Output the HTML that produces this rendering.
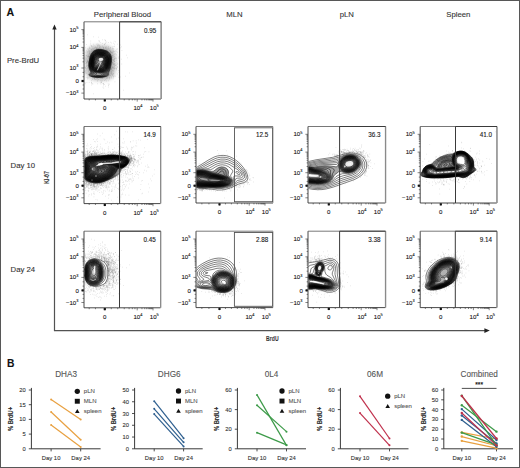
<!DOCTYPE html>
<html><head><meta charset="utf-8"><style>
html,body{margin:0;padding:0;background:#fff;width:520px;height:468px;overflow:hidden}
svg{display:block}
text{font-family:"Liberation Sans", sans-serif;stroke:currentColor;stroke-width:0.1px}
</style></head><body>
<svg width="520" height="468" viewBox="0 0 520 468">
<defs><filter id="b1" x="-50%" y="-50%" width="200%" height="200%"><feGaussianBlur stdDeviation="1.2"/></filter><filter id="b2" x="-50%" y="-50%" width="200%" height="200%"><feGaussianBlur stdDeviation="2"/></filter></defs>
<rect width="520" height="468" fill="#fff"/>
<rect x="0.5" y="0.5" width="519" height="467" fill="none" stroke="#575757" stroke-width="1"/>
<text x="6.60" y="15.70" font-size="10.6" text-anchor="start" fill="#111" color="#111" font-weight="bold" >A</text>
<text x="122.50" y="16.70" font-size="7.75" text-anchor="middle" fill="#333" color="#333" font-weight="normal" >Peripheral Blood</text>
<text x="234.50" y="16.70" font-size="7.75" text-anchor="middle" fill="#333" color="#333" font-weight="normal" >MLN</text>
<text x="346.80" y="16.70" font-size="7.75" text-anchor="middle" fill="#333" color="#333" font-weight="normal" >pLN</text>
<text x="458.30" y="16.70" font-size="7.75" text-anchor="middle" fill="#333" color="#333" font-weight="normal" >Spleen</text>
<text x="6.90" y="62.70" font-size="7.75" text-anchor="start" fill="#333" color="#333" font-weight="normal" >Pre-BrdU</text>
<text x="10.60" y="167.50" font-size="7.75" text-anchor="start" fill="#333" color="#333" font-weight="normal" >Day 10</text>
<text x="10.60" y="272.10" font-size="7.75" text-anchor="start" fill="#333" color="#333" font-weight="normal" >Day 24</text>
<path d="M54.5 28 L54.5 330.6 L485 330.6" fill="none" stroke="#525252" stroke-width="1.2"/>
<path d="M54.5 24.5 L52.3 29.5 L56.7 29.5 Z" fill="#222"/>
<path d="M489.8 330.6 L484.4 328.3 L484.4 332.9 Z" fill="#222"/>
<text transform="translate(266.1 340.7) scale(0.64 1)" font-size="8" font-weight="bold" fill="#444">BrdU</text>
<text transform="translate(49.3 183.7) rotate(-90) scale(0.64 1)" font-size="8" font-weight="bold" fill="#444">Ki-67</text>
<rect x="86" y="46" width="29" height="34" rx="10" fill="#000" fill-opacity="0.3" filter="url(#b2)"/>
<path d="M102.8 77.3l-5 .2 -4.3-.4 -3.1-.9 -.8-.4 -.6-.8 .2-.8 1.3-1.3 .3-.7 -1.6-3.7 -.5-3 .3-4 1.1-5.3 1.1-2.4 1.6-2.1 2-1.4 2.4-.9 2.3-.1 2.7 .3 2.8 .6 2.2 .9 1.6 1 1.2 1.4 .9 1.7 .5 1.8 .2 3.5 -.7 5.3 -.8 3.4 -1.4 3.3 -.1 2.5 -.7 .8 -1.1 .5z" fill="#000" fill-opacity="0.1" fill-rule="evenodd" stroke="none"/>
<path d="M101.8 72.5l-1.6 .1 -1.4-.2 -3-.6 -1.6-.7 -1.2-.9 -.9-1.2 -.8-1.5 -.4-1.5 -.1-2.2 .3-2.6 .5-2.4 1-2.6 1-1.7 1.2-1.2 1.4-1 1.6-.5 1.7-.1 1.7 .2 2.8 .7 1.8 .7 1.2 .9 .9 1 .7 1.3 .5 1.5 .1 2 -.3 2.5 -.8 3.3 -.9 2.4 -1.2 1.8 -1.2 1.2 -1.6 .9z M101.5 68.3l-1.7 .1 -4.3-.8 -1.3-1.2 -.6-1.9 .1-3 1.2-3 1-1.3 1.1-.9 2.5-.9 2.3 .1 1.7 .7 1.3 1.3 .8 2 -.1 2.5 -1 3.5 -1.3 1.8z" fill="#000" fill-opacity="0.3" fill-rule="evenodd" stroke="none"/>
<path d="M100.8 64.1l-.8 .1 -1.5-.3 -.6-.4 -.3-.7 .4-1.6 .8-1.2 1-.7 1-.2 .9 .4 .4 1.5 -.5 2.2z M101 65l-1.2 .2 -2.3-.6 -.9-.6 -.3-1 .3-1.2 1.4-2.3 1.5-1.1 1.5-.5 .8 .2 .6 .7 .5 2 -.7 2.9 -.5 .8z M101 65.8l-1.5 0 -3-.7 -.8-.9 -.3-1.2 .5-1.8 1.6-2.2 1.7-1.3 1.8-.4 1 .2 .9 .7 .4 1 .2 1.6 -.2 1.4 -.6 2 -.7 1z M100.5 66.5l-3.3-.4 -1.2-.5 -.9-1.1 -.2-1.7 .8-2.3 1.5-2 2-1.3 2-.4 1.3 .4 1 1 .5 1.6 0 1.4 -.6 2.6 -.6 1.4 -1 .9z M100.8 67l-3.8-.4 -1.2-.5 -1-1.2 -.3-1.9 .6-2.5 1.6-2.3 2.1-1.3 2.2-.5 1.5 .3 1 .9 .8 1.4 .2 1.8 -.4 2.2 -.8 2.2 -1.1 1.2z M100.8 67.5l-4-.4 -1.3-.5 -1-1.4 -.4-2 .6-2.7 1.4-2.3 2.1-1.6 2.6-.6 1.7 .3 1.2 .9 .9 1.6 .3 1.7 -.3 2.3 -.9 2.7 -1.2 1.4z M101.8 67.8l-1.8 .2 -4.2-.8 -1.2-1 -.7-1.7 0-2.7 .5-1.6 .8-1.4 1.9-2 2.4-1 2-.1 1.7 .7 1.4 1.4 .6 1.7 0 2.3 -.9 3.2 -1.1 1.8z M101.5 68.3l-1.7 .1 -4.3-.8 -1.3-1.2 -.6-1.9 .1-3 1.2-3 1-1.3 1.1-.9 2.5-.9 2.3 .1 1.7 .7 1.3 1.3 .8 2 -.1 2.5 -1 3.5 -1.3 1.8z M101 68.8l-4.2-.5 -1.6-.4 -1.3-1.4 -.6-2.3 .2-3.2 1.3-3 1-1.1 1.2-1 2.5-.8 2.5 .1 2 .9 1.4 1.7 .6 2 -.2 2.7 -1.3 3.7 -1.5 1.8z M101.8 69l-2 .2 -4.3-.8 -1.4-1.2 -.9-2 -.1-3.2 1.1-3.5 1.8-2.3 1.2-.9 1.3-.4 2.7-.1 2.3 .7 1.8 1.5 .9 2 0 3 -1.1 3.8 -1.3 2.1 -1 .7z M101.2 69.5l-2-.1 -4-.7 -1.5-1.5 -.8-2.2 0-3.5 1.2-3.5 .9-1.3 1.2-1.2 1.3-.7 1.3-.3 2.7 0 2.5 .9 1.7 1.6 .9 2.2 -.2 3.3 -1.3 4 -1.6 2.1 -1 .6z M101.8 69.8l-2.3 0 -3.3-.5 -1.2-.4 -1.5-1.4 -.8-2.3 0-3.4 .4-2 .8-2 .9-1.3 1.2-1.2 1.2-.7 1.3-.4 2.7 0 2.8 .9 2 1.7 .8 2 .1 3 -1.3 4.4 -1.6 2.4 -1 .7z M102 70.1l-2.2 .1 -4.6-.8 -1.6-1.4 -1.1-2.2 -.2-1.8 .1-2 .5-2.2 .8-2 .8-1.4 1.1-1.2 1.2-.8 1.4-.5 3 0 3 1 2 1.6 .9 2 .2 1.5 -.1 1.8 -1.3 4.4 -.8 1.6 -.9 1 -1 .7z M101.5 70.5l-2.5-.1 -3-.5 -1.2-.4 -1-.7 -.7-1 -.9-2.3 -.1-2 .2-2.3 .6-2.2 .7-1.8 1.9-2.3 1.3-.8 1.4-.5 3 0 3.3 1.1 1.9 1.5 1 2.3 .2 1.7 -.2 1.8 -.8 3 -.7 2 -.9 1.4 -1 1 -1.2 .8z M101.8 70.8l-2.3 0 -3.5-.6 -1.2-.4 -1.7-1.6 -1-2.4 -.2-2 .2-2.3 .5-2.3 .8-2 .8-1.4 1-1.1 1.3-.8 1.5-.6 3 0 3.5 1 2.1 1.7 1.1 2.2 .2 1.8 -.2 2 -1.5 5 -.9 1.5 -1.1 1.1 -1.2 .8z M102.2 71l-2.4 .2 -4.8-1 -1.9-1.4 -1.2-2.6 -.2-2 .1-2.2 .6-2.8 .7-2 .9-1.4 1-1.2 1.2-.9 1.6-.6 1.4-.2 1.6 .1 2.2 .5 1.8 .6 2 1.7 1.1 2.2 .2 1.8 -.1 2 -1.4 5 -.8 1.4 -1 1.4 -1 .8z M101.2 71.5l-1.7 0 -3.3-.6 -1.7-.6 -1-.8 -.9-1 -1-2.7 -.2-2 .3-2.3 .6-2.7 .8-2 .9-1.6 1.2-1.2 1.6-.9 1.4-.5 1.6 0 1.7 .2 2.3 .6 1.4 .7 1.3 .9 .8 1 1 2.5 .1 1.7 -.3 2.3 -.9 3.5 -.9 2 -.8 1.2 -1.3 1.2 -1.4 .8z M101.8 71.8l-2.8-.1 -3.2-.6 -1.3-.5 -1-.7 -1-1.1 -1.1-2.8 -.2-2 .2-2.2 .7-3 .7-2 1.1-1.8 1.1-1.2 1.5-.9 1.5-.5 1.5-.1 1.7 .2 2.6 .6 1.7 .8 1.2 .9 .8 1 1 2.4 .2 2 -.3 2.3 -.9 3.3 -.9 2.2 -1 1.5 -1.1 1.1 -1.3 .7z M102.2 72l-2.7 .1 -3.7-.7 -1.3-.4 -1.3-1 -.8-1 -1.2-2.8 -.2-2 .2-2.2 .7-3.2 .7-2 1-1.8 1.2-1.3 1.4-1 1.6-.6 1.4-.1 1.8 .1 4.2 1.3 1.3 .8 1 1 1.2 2.6 .2 1.7 -.1 2 -.7 3.3 -.9 2.7 -1 1.7 -1.1 1.3 -1.3 1z M101.8 72.5l-1.6 .1 -1.4-.2 -3-.6 -1.6-.7 -1.2-.9 -.9-1.2 -.8-1.5 -.4-1.5 -.1-2.2 .3-2.6 .5-2.4 1-2.6 1-1.7 1.2-1.2 1.4-1 1.6-.5 1.7-.1 1.7 .2 2.8 .7 1.8 .7 1.2 .9 .9 1 .7 1.3 .5 1.5 .1 2 -.3 2.5 -.8 3.3 -.9 2.4 -1.2 1.8 -1.2 1.2 -1.6 .9z M100.5 73.3l-1.3-.2 -3.4-.9 -2.3-1.2 -1.9-2.2 -.6-1.6 -.4-1.7 0-2.3 .3-2.4 .7-2.8 1.1-2.5 1.2-1.7 1.3-1.2 1.6-.8 1.7-.4 1.7 0 2.3 .5 2.3 .6 1.7 1 1.2 1 .9 1.3 .6 1.4 .2 1.6 0 2.2 -.5 2.8 -.8 3 -1.2 2.4 -1.1 1.6 -1.6 1.2 -2 .9z M100.5 75.3l-2.5 .2 -2.2-.5 -.1-.5 .7-.7 .2-.6 -2.8-1.7 -1.7-1.5 -1.2-2 -.6-2.5 .1-2.5 .5-3 .7-2.8 1.1-2.2 1.1-1.5 1.2-1.1 1.5-.8 2-.5 2 .1 2.3 .4 2.2 .7 1.5 .8 1.3 1 1 1.4 .6 1.5 .3 1.8 0 2.2 -.5 2.8 -.8 3 -1 2.2 -1.9 2.5 -2.8 2 -.9 1.3z M99.2 76l-3.4-.2 -1.2-.3 -.7-.5 0-.5 .9-1 0-.5 -2.4-2.2 -1.3-1.8 -.8-2 -.3-2.5 .3-3 .8-3.3 .8-2.2 .9-1.8 1.4-1.6 1.6-1 1.4-.5 2-.3 2.3 .2 2.5 .7 1.8 .6 1.5 .9 1.2 1.3 .9 1.5 .5 1.8 .1 1.7 -.1 2.3 -.8 3.4 -.7 2.6 -1 2 -1.2 1.4 -2.1 2 -.9 1.8 -1.4 .7z M100.8 76.3l-5-.1 -2-.4 -1-.6 -.2-.7 1.1-1.3 0-.4 -2.8-3.6 -.7-1.7 -.3-1.7 0-2.6 .4-3 .8-3 1.1-2.4 1.2-1.8 1.4-1.1 1.4-.8 2-.5 2.3 0 2.5 .5 2.5 .8 1.5 .8 1.2 1 1 1.3 .7 1.5 .3 1.7 .1 2.3 -.4 2.7 -.9 3.6 -.9 2.4 -1 1.6 -1.9 2.2 -.6 2 -1.4 .8z M101.5 76.5l-3 .2 -2.7-.1 -2.3-.4 -1.6-.7 -.4-.5 .1-.5 1.1-1.3 .2-.7 -2.3-3.3 -1-3 0-2.4 .3-2.8 .9-3.8 1-2.4 1.2-1.8 1.5-1.3 1.5-.9 2-.5 2 0 2.2 .3 2.8 .7 1.8 .8 1.4 1.1 1.1 1.3 .7 1.5 .5 1.8 .1 2.2 -.3 2.5 -.9 4.3 -1 2.7 -2.4 3.5 -.1 1.5 -.4 .7 -1.5 .8z M102 76.8l-4 .2 -3.5-.3 -2.7-.7 -.8-.5 -.4-.5 .2-.8 1.2-1.2 .2-.5 -2.1-3.5 -.7-2.8 0-3.4 1-5 1-2.8 1.6-2.5 2-1.5 2.5-.9 1.7-.2 2.3 .2 3.3 .8 2 .8 1.4 1 1.2 1.3 .8 1.5 .5 1.7 .2 3.6 -1 5.4 -1 3.3 -2 3.3 -.1 2 -.6 .7 -.9 .5z M102.5 77l-4.5 .2 -4-.3 -3-.8 -.9-.6 -.3-.5 .2-.8 1.5-1.7 -.2-.7 -1.7-3 -.6-2.8 .2-3.8 1-5 1.2-3 1.4-2 2-1.5 2.4-.9 2-.2 2.6 .2 3.2 .8 2 .8 1.5 1.1 1.2 1.3 .9 1.7 .5 1.7 .1 3.6 -.8 5.2 -1 3.5 -1.6 3.3 -.2 2.2 -.7 .8 -1.1 .4z M102.8 77.3l-5 .2 -4.3-.4 -3.1-.9 -.8-.4 -.6-.8 .2-.8 1.3-1.3 .3-.7 -1.6-3.7 -.5-3 .3-4 1.1-5.3 1.1-2.4 1.6-2.1 2-1.4 2.4-.9 2.3-.1 2.7 .3 2.8 .6 2.2 .9 1.6 1 1.2 1.4 .9 1.7 .5 1.8 .2 3.5 -.7 5.3 -.8 3.4 -1.4 3.3 -.1 2.5 -.7 .8 -1.1 .5z" fill="none" stroke="#000" stroke-width="0.5" stroke-linejoin="round"/>
<path d="M112.9 62.8h0.35 M85.6 82.8h0.35 M99.9 47.5h0.35 M101.3 82.5h0.35 M89.7 53.0h0.35 M116.0 58.5h0.35 M101.0 77.8h0.35 M127.1 57.8h0.35 M111.7 64.5h0.35 M113.9 41.2h0.35 M113.5 73.8h0.35 M111.2 64.0h0.35 M115.2 53.8h0.35 M89.6 76.2h0.35 M110.5 52.5h0.35 M114.3 60.0h0.35 M95.3 47.2h0.35 M115.8 57.5h0.35 M100.5 49.0h0.35 M93.0 50.8h0.35 M85.1 73.8h0.35 M92.5 51.5h0.35 M114.3 61.5h0.35 M103.1 85.8h0.35 M102.8 83.5h0.35 M118.6 72.2h0.35 M117.8 64.0h0.35 M112.2 51.2h0.35 M96.7 48.0h0.35 M109.2 84.2h0.35 M88.8 63.0h0.35 M108.5 46.5h0.35 M116.0 67.8h0.35 M118.9 75.2h0.35 M117.5 67.2h0.35 M100.6 80.8h0.35 M108.2 42.5h0.35 M113.4 63.5h0.35 M116.0 60.2h0.35 M96.5 44.2h0.35 M85.5 68.8h0.35 M94.1 78.5h0.35 M88.7 66.5h0.35 M121.8 50.5h0.35 M106.8 78.0h0.35 M86.6 62.8h0.35 M111.8 62.8h0.35 M111.9 73.8h0.35 M110.3 47.5h0.35 M104.8 77.5h0.35 M112.0 70.5h0.35 M114.4 76.0h0.35 M98.7 48.8h0.35 M104.5 77.0h0.35 M98.2 48.8h0.35 M97.0 45.2h0.35 M100.7 78.5h0.35 M94.5 78.8h0.35 M92.2 79.2h0.35 M87.2 61.0h0.35 M91.5 51.2h0.35 M98.5 37.2h0.35 M116.5 68.8h0.35 M86.5 72.2h0.35 M97.0 78.0h0.35 M110.3 51.5h0.35 M101.1 49.2h0.35 M113.8 68.5h0.35 M111.5 77.0h0.35 M97.2 83.8h0.35 M94.0 47.8h0.35 M86.8 61.5h0.35 M105.2 79.8h0.35 M114.2 58.5h0.35 M114.0 66.2h0.35 M99.2 41.0h0.35 M116.3 70.0h0.35 M108.0 80.8h0.35 M99.0 77.8h0.35 M98.3 79.5h0.35 M111.5 69.5h0.35 M113.5 50.0h0.35 M112.0 74.8h0.35 M94.2 49.2h0.35 M109.2 77.8h0.35 M98.3 44.2h0.35 M96.3 77.8h0.35 M105.3 48.0h0.35 M86.9 56.2h0.35 M89.3 53.2h0.35 M85.6 71.0h0.35 M92.8 48.5h0.35 M111.5 57.2h0.35 M93.3 36.8h0.35 M93.5 50.8h0.35 M89.5 58.5h0.35 M98.8 46.2h0.35 M112.5 68.2h0.35 M87.9 56.5h0.35 M85.4 72.5h0.35 M110.3 69.2h0.35 M89.3 59.0h0.35 M112.9 78.8h0.35 M111.1 68.2h0.35 M107.2 77.2h0.35 M89.5 54.5h0.35 M111.2 64.2h0.35 M108.2 48.8h0.35 M123.2 90.2h0.35 M106.7 50.0h0.35 M106.9 50.5h0.35 M104.2 44.8h0.35 M108.9 50.5h0.35 M88.1 74.5h0.35 M88.5 71.2h0.35 M101.9 47.0h0.35 M89.8 56.2h0.35 M89.3 58.5h0.35 M110.0 69.8h0.35 M86.7 60.2h0.35 M86.2 66.2h0.35 M106.3 78.0h0.35 M89.7 72.5h0.35 M85.8 55.8h0.35 M114.6 59.8h0.35 M112.7 55.8h0.35 M114.0 46.2h0.35 M100.0 49.0h0.35 M119.3 51.5h0.35 M112.7 53.0h0.35 M110.3 53.0h0.35 M111.0 65.8h0.35 M104.1 84.5h0.35 M109.6 75.2h0.35 M115.0 76.2h0.35 M88.1 74.2h0.35 M84.8 66.8h0.35 M102.1 80.8h0.35 M113.6 70.8h0.35 M112.2 62.2h0.35 M99.8 45.0h0.35 M88.5 61.8h0.35 M96.7 49.2h0.35 M89.2 47.2h0.35 M112.6 62.5h0.35 M108.0 76.0h0.35 M85.8 52.2h0.35 M112.7 74.8h0.35 M85.7 63.5h0.35 M85.5 47.8h0.35 M107.9 83.8h0.35 M112.2 57.5h0.35 M87.1 52.2h0.35 M102.1 78.2h0.35 M121.2 46.8h0.35 M110.9 72.8h0.35 M87.7 48.8h0.35 M113.7 57.0h0.35 M91.8 49.8h0.35 M111.2 78.0h0.35 M87.5 57.0h0.35 M91.6 85.0h0.35 M87.3 68.0h0.35 M110.3 71.0h0.35 M88.6 63.2h0.35 M112.3 52.8h0.35 M88.8 57.2h0.35 M100.9 82.0h0.35 M96.2 49.0h0.35 M102.8 87.2h0.35 M117.3 74.0h0.35 M126.0 55.2h0.35 M86.2 68.8h0.35 M89.2 56.5h0.35 M111.6 56.5h0.35 M85.9 62.5h0.35 M102.2 39.8h0.35 M87.7 62.0h0.35 M103.3 84.5h0.35 M90.8 51.8h0.35 M110.9 73.5h0.35 M113.5 59.5h0.35 M117.3 49.0h0.35 M97.7 80.2h0.35 M104.0 39.8h0.35 M111.3 52.5h0.35 M93.2 93.8h0.35 M92.7 50.8h0.35 M106.9 78.2h0.35 M112.8 67.0h0.35 M120.3 77.0h0.35 M85.3 68.2h0.35 M112.5 55.5h0.35 M111.2 74.2h0.35 M99.5 41.2h0.35 M111.7 59.8h0.35 M111.4 56.0h0.35 M86.8 61.2h0.35 M99.3 47.0h0.35 M91.6 49.5h0.35 M114.6 65.0h0.35 M114.2 56.8h0.35 M125.2 76.2h0.35 M111.7 67.0h0.35 M94.5 78.8h0.35 M108.8 72.8h0.35 M117.2 66.8h0.35 M111.3 51.8h0.35 M112.0 75.8h0.35 M108.9 50.2h0.35 M90.0 45.0h0.35 M85.6 83.8h0.35 M114.3 64.0h0.35 M87.9 75.2h0.35 M114.8 63.5h0.35 M113.3 67.2h0.35 M105.2 42.0h0.35 M113.0 48.5h0.35 M86.3 70.2h0.35 M87.7 65.5h0.35 M89.7 48.0h0.35 M100.5 82.8h0.35 M103.2 47.8h0.35 M88.2 62.8h0.35 M99.5 47.5h0.35 M111.5 72.0h0.35 M110.5 51.2h0.35 M95.5 47.2h0.35 M111.5 43.0h0.35 M106.8 48.2h0.35 M99.3 48.8h0.35 M86.6 64.0h0.35 M87.5 60.0h0.35 M91.0 83.2h0.35 M91.5 83.0h0.35 M89.2 76.8h0.35 M111.5 70.0h0.35 M97.6 78.2h0.35 M114.8 81.8h0.35 M98.5 40.8h0.35 M92.7 46.8h0.35 M86.6 55.5h0.35 M99.5 45.8h0.35 M112.1 66.8h0.35 M86.2 50.8h0.35 M109.8 50.8h0.35 M113.5 51.8h0.35 M91.5 46.0h0.35 M129.0 73.0h0.35 M114.3 69.0h0.35 M114.3 67.0h0.35 M106.7 42.0h0.35 M84.7 59.0h0.35 M118.3 70.5h0.35 M108.4 47.8h0.35 M88.7 56.8h0.35 M105.2 40.2h0.35 M98.3 45.2h0.35 M103.0 49.2h0.35 M86.2 58.2h0.35 M113.1 60.5h0.35 M95.0 79.5h0.35 M89.0 53.2h0.35 M105.2 40.5h0.35 M97.7 77.8h0.35 M93.2 44.2h0.35 M97.4 45.8h0.35 M92.4 83.8h0.35 M113.1 73.8h0.35 M111.1 54.2h0.35 M119.2 47.0h0.35 M112.3 56.8h0.35 M114.3 54.2h0.35 M109.2 79.0h0.35 M118.5 58.2h0.35 M98.8 45.2h0.35 M97.4 81.2h0.35 M112.9 67.8h0.35 M113.8 46.5h0.35 M100.0 46.5h0.35 M85.2 60.8h0.35 M93.8 45.8h0.35 M110.6 68.2h0.35 M112.2 67.5h0.35 M115.5 41.8h0.35 M92.2 77.2h0.35 M113.0 76.0h0.35 M91.4 80.8h0.35 M89.5 70.0h0.35 M90.0 71.0h0.35 M103.5 48.0h0.35 M90.7 41.0h0.35 M86.3 44.5h0.35 M103.6 83.8h0.35 M116.4 68.8h0.35 M86.8 82.5h0.35 M116.1 54.8h0.35 M87.9 74.0h0.35 M117.3 44.2h0.35 M110.6 48.0h0.35 M113.0 51.2h0.35 M113.1 64.5h0.35 M116.5 64.8h0.35 M87.5 62.2h0.35 M85.1 58.8h0.35 M86.7 65.8h0.35 M100.8 84.0h0.35 M112.9 60.2h0.35 M101.3 78.0h0.35 M104.8 43.8h0.35 M88.6 56.8h0.35 M111.7 65.0h0.35 M88.2 67.8h0.35 M106.6 50.2h0.35 M84.9 57.5h0.35 M88.9 82.5h0.35 M111.1 69.0h0.35 M116.3 66.0h0.35 M114.4 44.2h0.35 M105.1 43.5h0.35 M93.5 49.2h0.35 M105.1 47.2h0.35 M105.3 86.2h0.35 M87.4 34.8h0.35 M88.4 55.8h0.35 M97.5 44.0h0.35 M115.8 68.5h0.35 M90.1 43.2h0.35 M104.0 44.5h0.35 M120.3 45.0h0.35 M115.0 51.0h0.35 M88.2 65.8h0.35 M113.4 77.0h0.35 M89.3 51.0h0.35 M114.3 51.5h0.35 M93.5 77.8h0.35 M86.0 73.5h0.35 M97.1 47.0h0.35 M87.0 77.2h0.35 M109.2 77.8h0.35 M89.7 48.5h0.35 M111.5 68.0h0.35 M109.8 48.8h0.35 M107.4 50.0h0.35 M88.6 62.0h0.35 M112.3 63.2h0.35 M112.9 61.2h0.35 M117.6 64.0h0.35 M97.3 49.2h0.35 M110.3 75.5h0.35 M116.7 51.2h0.35 M104.0 80.5h0.35 M86.8 63.0h0.35 M111.8 52.5h0.35 M105.8 48.2h0.35 M114.4 61.5h0.35 M89.8 56.2h0.35 M114.8 67.8h0.35 M86.2 62.2h0.35 M110.2 42.2h0.35 M88.1 78.0h0.35 M102.3 43.5h0.35 M100.8 77.8h0.35 M85.9 77.5h0.35 M106.5 81.0h0.35 M88.7 69.8h0.35 M96.7 48.0h0.35 M112.3 59.5h0.35 M121.5 59.2h0.35 M111.2 68.2h0.35 M89.4 56.5h0.35 M89.3 70.2h0.35 M101.3 49.0h0.35 M113.2 55.0h0.35 M88.3 64.2h0.35 M114.2 58.8h0.35 M106.0 46.8h0.35 M92.8 84.0h0.35 M85.2 71.0h0.35 M87.5 78.0h0.35 M111.8 55.2h0.35 M101.1 82.2h0.35 M118.0 77.2h0.35 M108.1 85.5h0.35 M112.3 48.8h0.35 M87.1 61.2h0.35 M89.0 56.8h0.35 M85.2 67.5h0.35 M106.7 50.2h0.35 M102.0 46.0h0.35 M85.4 61.2h0.35 M113.9 68.5h0.35 M119.3 56.5h0.35 M108.2 87.0h0.35 M89.5 57.8h0.35 M117.5 52.2h0.35 M92.3 77.5h0.35 M87.6 60.8h0.35 M89.0 51.2h0.35 M108.8 51.8h0.35 M91.1 82.5h0.35 M103.2 83.5h0.35 M119.4 68.8h0.35 M87.8 51.5h0.35 M111.2 71.8h0.35 M103.4 49.2h0.35 M90.0 53.5h0.35 M121.7 64.0h0.35 M111.5 57.5h0.35 M87.9 55.0h0.35 M108.4 84.8h0.35 M96.7 48.2h0.35 M84.7 67.5h0.35 M99.9 42.5h0.35 M91.7 45.8h0.35 M88.5 49.2h0.35 M103.7 88.2h0.35 M89.8 72.5h0.35 M87.1 79.0h0.35 M113.5 43.2h0.35 M89.4 70.5h0.35 M85.8 59.5h0.35 M111.9 58.2h0.35 M84.7 71.8h0.35 M110.8 52.8h0.35 M116.8 62.8h0.35 M88.2 50.8h0.35 M111.7 57.0h0.35 M112.3 63.8h0.35 M120.3 47.8h0.35 M110.2 51.2h0.35 M88.0 58.5h0.35 M89.0 61.0h0.35 M113.5 76.8h0.35 M110.4 68.8h0.35 M115.4 65.0h0.35 M96.3 79.0h0.35 M112.1 48.8h0.35 M91.6 46.2h0.35 M118.6 57.0h0.35 M103.3 47.2h0.35 M113.2 64.8h0.35 M115.3 65.5h0.35 M112.0 47.0h0.35 M109.3 72.0h0.35 M114.3 64.8h0.35 M115.5 58.5h0.35 M101.3 80.8h0.35 M102.2 78.5h0.35 M116.7 49.2h0.35" stroke="#555" stroke-width="0.35" fill="none"/>
<path d="M97.5 70L101 62.5" stroke="#fff" stroke-width="1.0" stroke-opacity="0.6" fill="none" stroke-linecap="round"/><ellipse cx="101" cy="59.3" rx="2.3" ry="1.6" fill="#fff" fill-opacity="0.85"/>
<text x="78.40" y="31.50" font-size="6.1" text-anchor="end" fill="#1a1a1a">10<tspan font-size="3.9" dy="-2.6">5</tspan></text>
<text x="78.40" y="49.30" font-size="6.1" text-anchor="end" fill="#1a1a1a">10<tspan font-size="3.9" dy="-2.6">4</tspan></text>
<text x="78.40" y="70.00" font-size="6.1" text-anchor="end" fill="#1a1a1a">10<tspan font-size="3.9" dy="-2.6">3</tspan></text>
<text x="79.00" y="83.20" font-size="6.1" text-anchor="end" fill="#1a1a1a">0</text>
<text x="78.40" y="95.30" font-size="6.1" text-anchor="end" fill="#1a1a1a">−10<tspan font-size="3.9" dy="-2.6">3</tspan></text>
<path d="M81.40 29.60H84.00 M81.40 47.40H84.00 M81.40 68.00H84.00 M81.40 81.00H84.00 M81.40 93.10H84.00 M82.60 61.80H84.00 M82.60 58.17H84.00 M82.60 55.60H84.00 M82.60 53.60H84.00 M82.60 51.97H84.00 M82.60 50.59H84.00 M82.60 49.40H84.00 M82.60 48.34H84.00 M82.60 42.04H84.00 M82.60 38.91H84.00 M82.60 36.68H84.00 M82.60 34.96H84.00 M82.60 33.55H84.00 M82.60 32.36H84.00 M82.60 31.32H84.00 M82.60 30.41H84.00 M82.60 76.71H84.00 M82.60 84.99H84.00 M82.60 72.42H84.00 M82.60 88.99H84.00" stroke="#333" stroke-width="0.6" fill="none"/>
<rect x="81.60" y="79.90" width="2.2" height="2.2" fill="#111"/>
<text x="104.80" y="110.00" font-size="6.1" text-anchor="middle" fill="#1a1a1a">0</text>
<text x="133.40" y="110.00" font-size="6.1" fill="#1a1a1a">10<tspan font-size="3.9" dy="-2.6">4</tspan></text>
<text x="149.80" y="110.00" font-size="6.1" fill="#1a1a1a">10<tspan font-size="3.9" dy="-2.6">5</tspan></text>
<path d="M104.80 99.00V101.60 M137.20 99.00V101.60 M153.00 99.00V101.60 M141.96 99.00V100.40 M144.74 99.00V100.40 M146.71 99.00V100.40 M148.24 99.00V100.40 M149.49 99.00V100.40 M150.55 99.00V100.40 M151.47 99.00V100.40 M152.28 99.00V100.40 M111.28 99.00V100.40 M117.76 99.00V100.40 M124.24 99.00V100.40 M129.10 99.00V100.40 M132.34 99.00V100.40 M134.93 99.00V100.40 M95.44 99.00V100.40 M89.20 99.00V100.40" stroke="#333" stroke-width="0.6" fill="none"/>
<rect x="103.70" y="99.20" width="2.2" height="2.2" fill="#111"/>
<path d="M84.00 21.80V99.00H161.00" fill="none" stroke="#333" stroke-width="0.9"/>
<path d="M84.00 21.80H161.00" fill="none" stroke="#555" stroke-width="0.8"/>
<path d="M161.00 21.80V99.00" fill="none" stroke="#999" stroke-width="0.8"/>
<path d="M161.20 21.80V99.00" fill="none" stroke="#8a8a8a" stroke-width="1.3"/>
<path d="M119.60 99.00V21.80H161.20" fill="none" stroke="#3a3a3a" stroke-width="1.0"/>
<text x="156.20" y="32.50" font-size="6.3" text-anchor="end" fill="#1a1a1a">0.95</text>
<path d="M98.2 182l-4-.1 -4.7-1 -3-1.5 -2-2 0-16.9 1.5-1.5 2.2-1.3 2.8-.7 21.2-1.4 5.3 .3 5.3 .7 3 1 1.9 1.4 .6 1.2 -.1 1.3 -.5 1.5 -1.1 1.5 -1.4 1.2 -1.4 .9 -5.4 2.2 -.6 .7 -1.7 3.3 -2.7 2.7 -3.4 2.3 -4 2.1 -4.2 1.5z" fill="#000" fill-opacity="0.6" fill-rule="evenodd" stroke="none"/>
<path d="M95.2 171.5l-1 .2 -1.2-.2 -1.3-.7 -.3-1 -.1-1.3 .3-1 .6-.6 .8-.3 1.2 0 .8 .3 .6 .6 .4 1 .2 1.5 -.3 1z M109 161.8l-2 .1 -1.1-.4 .6-.4 1-.3 2.3 .2 .1 .2 -.2 .3z M95.2 172.8l-3-.4 -1-.6 -.5-.8 -.3-1.5 .1-1.9 .5-1.1 1-.7 1.5-.3 1.5 .2 1 .6 .8 1.1 .7 2.4 -.1 1.4 -.7 1z M109.2 162.5l-2.2 .2 -2-.1 -1.2-.4 -.5-.4 0-.3 .6-.5 1.3-.5 3-.5 3.1 .2 .8 .3 .5 .5 -.7 .8z M96.2 173.5l-1.7 .1 -2.3-.3 -1.2-.7 -.8-.8 -.5-1.8 0-2.2 .5-1.6 1-1 1.6-.5 2.2 0 1.2 .6 1 1.2 1.5 3.5 .2 1.2 -.2 .8 -.7 .8z M109.2 163l-2.7 .2 -2.5-.2 -2-.5 -.3-.3 -.2-.4 .7-.8 1.6-.6 4.4-.8 4.3 .3 1.5 .5 .5 .6 -.3 .5 -1 .5z M119.8 162.8l-1.2-.3 -.3-.5 .1-.2 .8-.3 1.1 .3 .2 .4z M96.8 174.3l-2 .1 -2.8-.5 -1.3-.7 -1-1 -.6-2 0-2.7 .6-1.7 1.3-1.3 1.2-.5 2-.2 1.3 0 1 .4 1 1.2 2 3.6 2.2 2 -.2 .8 -1.2 1 -1.8 1z M120 163.5l-1.5-.1 -2-1 -1-.2 -6 1.2 -3.3 .3 -5.2-.6 -1.2-.3 -.4-.6 .3-.4 1.1-.8 2.7-1 3.7-.7 3.8 0 2.5 .3 3.3 1 2.7 .1 1.3 .3 .7 .5 .2 .7 -.5 .8z M96.5 175l-2.3-.1 -2.7-.5 -1.5-.9 -.9-1.3 -.6-2.2 .1-3 .9-2 1.5-1.2 1.2-.4 2.6-.4 1.7-.1 1 .2 .3 .4 1 2.7 1.2 1.9 1.2 .7 2.9 .4 .8 .8 -.1 1.3 -1.6 1.5 -3.7 1.5z M97.8 175.5l-2.6 .1 -3.4-.6 -1.8-.8 -1.1-1.2 -.8-2.5 0-3.5 .9-2.2 1.5-1.4 1.7-.6 5.3-1.1 5.5-2 5.2-.8 4.3 .1 4.5 .9 3 .3 1.5 .5 .8 .8 .1 .7 -.4 .8 -1 .7 -1.2 .3 -1.6-.1 -2.2-1 -1-.1 -7.8 1.2 -6.2-.2 -1.3 .2 -.4 .5 -.1 .7 .4 1 .6 .9 1.3 .7 2.8 .2 1.2 .4 .9 .8 .1 1 -.9 1.8 -1.8 1.5 -2.8 1.2z M98.2 176l-2.7 .1 -3.7-.6 -2-.9 -1.3-1.4 -.9-2.4 .1-3.8 .7-2.2 1.6-1.7 1.8-.8 5.4-1.2 5-1.5 6-.9 4.6 .1 7.4 1.1 1.6 .4 1 .9 .2 1 -.6 1 -1.1 .8 -1.3 .4 -1.8-.1 -2.4-.9 -1.3-.2 -7.3 1.2 -5.4 0 -1.3 .3 -.3 .5 .1 .6 .9 1 1 .2 3 .2 1.6 .7 .7 1.1 0 1.2 -1.1 2 -1.9 1.7 -2.7 1.2z M98.5 176.5l-3 .1 -4-.6 -2-1 -1.4-1.5 -.6-1.3 -.3-1.4 0-3.8 .9-2.5 1.7-1.8 2-.8 10.2-2.6 6.5-.9 4.7 .1 7 1 1.8 .5 1.2 1 .3 1 -.5 1.1 -1 .9 -1.5 .6 -2 .1 -3-1 -1.5-.1 -8 1.5 -4.1 .1 -.1 .5 .4 .3 3 .2 2 .8 1.1 1.5 .1 1 -.1 1 -1.2 2 -2.1 1.7 -3 1.5z M98.5 177l-3 .1 -4.3-.8 -2-.9 -1.5-1.6 -.9-2.8 .1-4.2 .9-2.6 .7-1 1-.9 2.3-.9 10.2-2.3 6.8-.9 4.7 .1 6.7 .9 2 .6 1.3 1 .4 1 -.4 1.2 -1 1 -1.5 .7 -2.5 .3 -3.3-1 -1.4-.1 -3.2 .6 -2.6 1 -.2 .5 1.1 1.8 .3 1.4 -.3 1.6 -1.1 1.7 -1.6 1.5 -2.2 1.4 -2.8 1z M98.2 177.5l-3.2 0 -4-.8 -2-1 -1.6-1.7 -.6-1.2 -.3-1.8 0-4.2 .9-2.8 .8-1.2 1-.8 2.6-1 10-2.1 3.4-.6 4-.3 4.6 .1 6.7 .9 2.3 .7 1.2 1.1 .3 1 -.4 1.2 -1.1 1.2 -1.6 .7 -2.7 .3 -3.5-.9 -1.2-.1 -1.9 .3 -2.2 .7 -.6 .8 .7 2.2 0 1.6 -.7 1.7 -1.1 1.6 -1.8 1.5 -2.2 1.3 -2.8 1z M99.5 177.8l-3.7 .2 -4.6-.8 -2.2-1 -1.7-1.7 -.7-1.3 -.4-1.7 -.1-4.5 .8-3 .9-1.2 1-.9 1.4-.8 2.3-.7 11-2.1 5.5-.5 5 .1 6.5 .8 2.3 .6 1.5 1.2 .4 1.3 -.4 1.2 -1.2 1.2 -1.6 .9 -1.5 .3 -1.5 .1 -4.7-1 -1.8 .3 -1.6 .7 -.3 .7 .4 2 -.1 1.6 -.5 1.4 -1.2 1.8 -1.7 1.6 -2 1.3 -2.5 1.1z M98.8 178.3l-3.3 0 -4.7-.9 -2.3-1.1 -1.6-1.8 -.7-1.5 -.4-1.8 0-4.7 1-3 .7-1 1.1-1 1.6-.8 2.3-.6 11.3-2 6-.5 4.4 .1 6.8 .8 2.2 .8 1.5 1.2 .3 1.3 -.4 1.2 -1.1 1.2 -1.5 .9 -1.5 .5 -1.7 .1 -5-.9 -1.2 .2 -1.2 .5 -.5 .7 .2 2.3 -.3 1.7 -.8 1.8 -1.4 1.8 -2.1 1.6 -2.3 1.3 -2.7 1z M97.5 178.8l-3.3-.3 -4.2-1 -2.2-1.3 -1.5-2 -.6-1.7 -.3-1.7 .2-4.8 .5-1.8 .6-1.2 1.8-1.8 1.5-.8 2.2-.6 12-2 5.8-.4 5 .1 6 .8 2.5 .8 1.4 1.1 .4 1 -.1 1.3 -.6 1 -1.1 1.1 -1.7 .9 -2 .4 -2 0 -3.6-.8 -1.9 .4 -.7 .7 .1 2.8 -.5 1.8 -1 1.7 -1.7 1.9 -2.3 1.6 -2.7 1.4 -3 .9z M98.8 179l-3.6 0 -4.7-.9 -2.5-1.3 -1.6-1.8 -.8-1.5 -.4-2 -.1-4.7 .4-2 .6-1.6 .9-1.2 1-.9 1.8-1 2.2-.5 12.5-2 5.5-.4 5 .1 6 .8 2.5 .7 1.6 1.2 .5 1 -.1 1.2 -.6 1.3 -1.1 1.2 -1.8 .9 -2.2 .5 -2 0 -3.3-.6 -1.6 .3 -.6 .7 -.1 2.5 -.6 2 -1.1 1.8 -1.5 1.6 -2.2 1.7 -2.3 1.3 -2.7 1z M99.2 179.3l-3.7 .1 -5-1 -2.5-1.2 -1.9-2 -.7-1.4 -.5-2 0-5.3 .9-3.3 .8-1.2 1.2-1.1 1.7-1 2.3-.6 13.2-1.9 5-.4 5 .1 6.2 .8 2.6 .8 1.6 1.3 .5 1 -.1 1.2 -.6 1.3 -1.2 1.2 -2 1.1 -2.2 .5 -2 0 -3-.5 -1.3 .2 -.6 .8 -.2 2.4 -.6 1.8 -1.1 1.8 -1.5 1.7 -2.3 1.7 -2.4 1.4 -2.8 1.1z M84.5 167.3l.6-3.3 1.5-2.5 1.2-1 1.2-.7 3.2-.9 14-1.8 4-.3 4 .1 6 .7 2.8 .6 2.2 1.2 .7 .8 .3 .8 -.1 1.2 -.6 1.3 -1.2 1.3 -1.5 .9 -3.3 .8 -4.5-.3 -1.1 .3 -.4 .6 -.4 2.4 -.7 1.7 -1.1 1.8 -1.3 1.5 -2 1.6 -2 1.3 -2.8 1.2 -2.7 .8 -2.7 .4 -2.8-.1 -4-.8 -2.5-1 -1.6-1.1 -1.3-1.8 -.7-2 -.4-2.4 M84.5 165.2l.6-2 1.1-1.7 1.3-1.2 1.7-.9 3-.7 14.3-1.8 7.3-.2 8 .9 1.7 .5 1.5 .8 .9 .9 .6 1.2 -.1 1.2 -.6 1.3 -1 1.1 -1.6 1 -3.2 1 -4.5 0 -1 .2 -.5 .7 -.4 2 -.7 1.7 -1.1 1.8 -1.3 1.5 -2 1.7 -2 1.2 -4.7 2 -2.8 .6 -2.8 .1 -3.7-.5 -2.7-.7 -2-1.1 -1.5-1.3 -1.1-1.7 -.7-2 M84.5 164l.8-1.8 1.2-1.4 1.5-1.2 1.8-.7 2.4-.5 15.6-1.7 7-.1 7.4 .9 1.8 .6 1.5 .8 .9 1.1 .3 1 -.1 1.2 -.6 1.3 -1 1.1 -1.5 1.1 -3.3 1.1 -4.4 .2 -.9 .2 -.3 .6 -.8 2.4 -.7 1.6 -2.4 3 -1.9 1.6 -2 1.2 -4.8 2 -3 .7 -2.5 .1 -2.7-.3 -3.6-.7 -2.2-1 -1.5-1.2 -1.1-1.4 -.9-2 M84.5 163.2l.9-1.7 1.1-1.2 1.5-1 1.8-.7 2.4-.5 17-1.7 6.8 .1 6.5 .9 2 .7 1.3 .7 .8 1 .4 1.2 -.1 1 -.5 1.2 -1.6 1.9 -1.8 1 -2 .7 -4.6 .4 -.9 .3 -.5 .7 -1.4 3.6 -2.3 3 -3.8 2.8 -4.7 2.1 -2.8 .7 -3 .3 -2.5-.2 -3.7-.7 -2.3-.8 -1.7-1.2 -1.5-1.6 -.8-1.5 M84.5 162.5l1-1.5 1.3-1.2 1.4-.9 2-.7 20-2 6.3 .2 6.7 1 1.8 .7 1.2 .8 .8 1.1 .3 1 -.1 1 -.6 1.2 -1.6 1.9 -1.5 1 -2 .8 -5.5 .9 -.5 .6 -1.6 3.8 -2.4 2.8 -4 2.9 -4.5 2 -3 .8 -2.8 .3 -2.4-.1 -3.8-.7 -2.2-.8 -1.8-1 -1.5-1.4 -1-1.7 M84.5 161.9l1-1.4 1.3-1.1 1.4-.8 2-.7 20.6-1.8 7 .3 6 1 1.7 .7 1 .7 .7 1 .3 1.2 -.1 1 -.5 1.2 -1.7 1.9 -1.4 1 -1.8 .8 -5.5 1.2 -.5 .7 -1.6 3.4 -2.6 3 -4 2.9 -4.6 2 -3 .8 -2.7 .4 -2.7-.1 -3.3-.6 -2.5-.8 -1.8-.9 -1.4-1.2 -1.3-1.8 M84.5 161.4l1.1-1.4 1.4-1.1 1.5-.7 1.7-.5 16.8-1.6 4.5-.2 7.3 .4 5.2 1 1.5 .6 1.3 .9 .7 1 .3 1.2 -.7 2.2 -1.9 2.1 -2.7 1.6 -4.5 1.1 -1 .4 -2.1 4.1 -2.4 2.6 -3.7 2.8 -4.8 2.2 -3.2 1 -2.6 .4 -2.4 0 -3.3-.4 -2.7-.7 -2.3-1 -1.7-1.3 -1.3-1.6 M84.5 160.9l1-1.1 1.5-1.2 1.5-.7 2-.5 9.3-.6 8.2-.9 4-.2 6.5 .4 5.5 1 1.8 .7 1.2 .8 .8 1.2 .3 1 -.2 1.2 -.6 1.2 -1.8 2.1 -2.7 1.6 -5 1.7 -.7 .6 -1.7 3.6 -2.4 2.4 -4.2 3 -4.8 2.2 -3.2 1 -2.6 .4 -2.4 0 -3-.4 -3-.7 -2-.8 -1.8-1.2 -1.5-1.7 M84.5 160.5l1.2-1.3 1.3-.9 1.5-.7 2-.5 22-1.5 7 .5 5 1 1.7 .7 1.3 1 .6 1 .2 1 -.6 2.2 -1.9 2.3 -2.6 1.6 -4.8 1.9 -.6 .7 -1.5 3 -2.3 2.5 -4.5 3.1 -4.7 2.3 -3 1 -2.6 .5 -2.4 .2 -2.8-.2 -3.5-.7 -2.3-.8 -2-1.2 -1.7-1.8 M84.5 160.1l1.3-1.2 1.4-1 3.3-1 9.7-.5 8.3-.8 4.5-.2 7.5 .7 4.5 1 1.8 .8 1 .9 .6 1 .2 1 -.7 2.2 -1.3 1.8 -2.6 1.9 -5 2.3 -1.8 3.5 -2.1 2.3 -5.1 3.4 -5.2 2.5 -3 .9 -2.6 .5 -2.4 .2 -2.8-.2 -3-.5 -2.8-.9 -2.2-1.4 -1.5-1.5 M84.5 159.7l1.3-1.1 1.4-1 3.3-1 9.5-.4 8.5-.8 4.7-.1 6.8 .5 5 1.1 1.8 .8 1.1 .8 .7 1 .3 1 -.6 2 -1.3 2 -2.2 1.9 -4.9 2.6 -1.5 3.2 -1.9 2.2 -5 3.3 -6 2.9 -3 1.1 -3 .7 -2.5 .2 -2.5-.1 -3.5-.7 -2.8-.8 -2-1.1 -1.7-1.7 M84.5 159.4l1.3-1.1 1.4-.9 3.3-1 10-.4 7.5-.7 5.5-.2 6.3 .6 5.4 1.1 1.8 .8 1.3 .9 .7 1 .1 1 -.4 1.7 -1.3 2 -1.9 1.9 -4.8 2.9 -1.5 3.5 -1.7 1.9 -4.3 2.7 -7.2 3.6 -5.8 1.8 -2.7 .3 -2.7-.1 -3.6-.5 -2.7-.9 -2.3-1.1 -1.7-1.6 M84.5 159l1.3-1 1.4-.9 3.6-1 9.7-.2 8.3-.8 4.7-.1 6.7 .6 5 1 1.8 .8 1.4 .8 .8 1 .2 1 -.3 1.6 -1.3 2.2 -2 2.1 -4.2 2.7 -.5 .7 -1.1 3 -1.6 2 -3.2 2.1 -8.4 4 -3.3 1.2 -3 .8 -3 .4 -2.5 0 -3.8-.6 -2.7-.8 -2.3-1.1 -1.7-1.5" fill="none" stroke="#000" stroke-width="0.5" stroke-linejoin="round"/>
<path d="M117.0 154.8h0.35 M90.3 155.2h0.35 M94.0 183.8h0.35 M93.0 151.2h0.35 M146.3 171.0h0.35 M103.1 182.2h0.35 M97.3 154.0h0.35 M91.7 148.2h0.35 M95.5 155.0h0.35 M111.8 179.2h0.35 M127.8 166.8h0.35 M104.0 153.2h0.35 M130.5 157.8h0.35 M110.6 180.0h0.35 M84.5 157.5h0.35 M117.0 176.8h0.35 M121.6 190.2h0.35 M106.8 180.8h0.35 M134.4 156.2h0.35 M95.9 154.0h0.35 M138.1 155.5h0.35 M129.8 162.5h0.35 M90.3 185.5h0.35 M88.0 183.2h0.35 M124.8 155.2h0.35 M92.6 186.8h0.35 M134.8 159.8h0.35 M86.2 181.2h0.35 M92.8 152.0h0.35 M115.3 151.8h0.35 M91.2 154.2h0.35 M94.0 185.2h0.35 M113.0 180.5h0.35 M115.8 184.2h0.35 M118.8 178.0h0.35 M129.4 156.8h0.35 M136.4 162.8h0.35 M132.6 170.0h0.35 M87.7 184.8h0.35 M131.0 158.0h0.35 M92.9 185.5h0.35 M132.3 173.5h0.35 M94.7 184.0h0.35 M132.9 161.5h0.35 M141.1 181.0h0.35 M120.3 155.5h0.35 M132.5 163.2h0.35 M121.7 154.2h0.35 M86.9 151.8h0.35 M135.3 145.8h0.35 M88.2 181.5h0.35 M129.9 159.0h0.35 M84.5 185.8h0.35 M104.2 184.0h0.35 M88.8 156.2h0.35 M88.0 191.5h0.35 M154.3 169.8h0.35 M94.7 183.0h0.35 M131.0 156.8h0.35 M119.1 154.0h0.35 M95.1 153.8h0.35 M124.8 153.8h0.35 M127.6 171.8h0.35 M89.2 152.2h0.35 M124.1 141.8h0.35 M99.4 184.0h0.35 M118.2 151.5h0.35 M84.4 158.8h0.35 M130.1 161.0h0.35 M121.4 174.8h0.35 M130.2 162.0h0.35 M91.2 187.5h0.35 M92.5 182.8h0.35 M123.6 168.0h0.35 M120.9 174.2h0.35 M128.9 162.2h0.35 M95.9 190.0h0.35 M99.1 154.5h0.35 M106.3 181.0h0.35 M133.6 166.0h0.35 M91.3 146.5h0.35 M86.2 155.2h0.35 M112.8 186.8h0.35 M97.5 183.2h0.35 M93.2 139.5h0.35 M87.2 155.2h0.35 M118.3 138.0h0.35 M92.3 184.0h0.35 M114.5 152.0h0.35 M93.5 148.5h0.35 M103.0 193.2h0.35 M84.8 158.5h0.35 M125.3 155.2h0.35 M90.3 147.5h0.35 M127.8 156.2h0.35 M124.5 155.8h0.35 M137.9 163.2h0.35 M119.6 136.2h0.35 M96.5 153.2h0.35 M107.6 154.2h0.35 M84.7 158.2h0.35 M94.4 155.2h0.35 M124.8 173.5h0.35 M109.7 155.0h0.35 M102.1 186.0h0.35 M118.2 189.5h0.35 M86.9 148.8h0.35 M105.4 154.2h0.35 M134.4 166.8h0.35 M103.3 183.0h0.35 M130.9 149.0h0.35 M91.2 154.0h0.35 M130.5 159.0h0.35 M109.0 180.0h0.35 M103.8 185.8h0.35 M97.0 184.8h0.35 M88.4 183.5h0.35 M144.2 147.8h0.35 M101.6 192.0h0.35 M123.5 173.8h0.35 M122.7 150.8h0.35 M107.0 154.8h0.35 M128.9 174.8h0.35 M89.3 156.2h0.35 M128.9 158.5h0.35 M101.3 183.5h0.35 M85.7 184.0h0.35 M131.3 165.2h0.35 M85.6 183.5h0.35 M128.5 156.8h0.35 M111.4 191.5h0.35 M127.0 172.0h0.35 M85.7 190.5h0.35 M100.2 146.8h0.35 M90.3 185.2h0.35 M126.9 166.5h0.35 M119.2 181.8h0.35 M109.7 154.0h0.35 M128.1 165.5h0.35 M119.1 155.0h0.35 M128.2 151.8h0.35 M102.2 133.2h0.35 M92.9 186.0h0.35 M122.4 180.0h0.35 M96.6 154.2h0.35 M111.5 154.8h0.35 M131.5 159.5h0.35 M98.8 183.8h0.35 M120.7 152.2h0.35 M87.9 190.5h0.35 M149.5 187.8h0.35 M91.2 154.8h0.35 M113.0 177.8h0.35 M99.4 155.8h0.35 M110.3 181.2h0.35 M87.1 151.0h0.35 M132.2 159.8h0.35 M121.7 169.5h0.35 M120.7 175.8h0.35 M84.7 181.2h0.35 M90.7 185.5h0.35 M133.0 154.5h0.35 M118.5 153.2h0.35 M130.0 156.2h0.35 M123.7 167.5h0.35 M91.8 189.5h0.35 M104.7 181.8h0.35 M91.5 182.5h0.35 M97.7 191.2h0.35 M133.6 154.8h0.35 M113.7 154.8h0.35 M141.8 157.2h0.35 M140.3 155.0h0.35 M112.5 178.8h0.35 M100.3 188.5h0.35 M120.0 153.2h0.35 M129.3 163.0h0.35 M86.3 180.5h0.35 M130.9 161.2h0.35 M94.6 186.2h0.35 M89.9 182.5h0.35 M88.7 185.2h0.35 M135.3 152.0h0.35 M117.9 154.0h0.35 M108.2 149.2h0.35 M94.4 184.0h0.35 M95.2 189.8h0.35 M138.5 139.8h0.35 M103.7 183.2h0.35 M90.6 182.2h0.35 M96.7 186.0h0.35 M89.4 155.0h0.35 M85.6 182.0h0.35 M119.2 154.5h0.35 M87.3 150.2h0.35 M86.7 182.8h0.35 M97.3 146.5h0.35 M85.3 181.5h0.35 M107.3 155.0h0.35 M137.8 160.8h0.35 M91.3 185.5h0.35 M89.0 154.8h0.35 M129.8 159.8h0.35 M95.1 155.8h0.35 M103.5 154.0h0.35 M131.5 160.0h0.35 M127.2 153.8h0.35 M94.8 183.5h0.35 M126.3 173.8h0.35 M106.7 155.0h0.35 M108.9 191.2h0.35 M131.2 155.5h0.35 M131.4 180.0h0.35 M84.7 182.5h0.35 M123.3 154.8h0.35 M103.8 139.0h0.35 M93.7 185.5h0.35 M95.9 189.0h0.35 M91.8 153.8h0.35 M120.5 153.2h0.35 M130.7 157.8h0.35 M123.1 170.8h0.35 M108.2 195.5h0.35 M107.5 189.8h0.35 M125.3 195.0h0.35 M92.6 154.8h0.35 M121.8 171.0h0.35 M128.2 158.0h0.35 M108.5 154.5h0.35 M101.9 149.2h0.35 M87.8 153.8h0.35 M98.0 155.8h0.35 M95.5 151.0h0.35 M107.5 153.2h0.35 M118.1 146.8h0.35 M118.3 175.2h0.35 M130.6 161.2h0.35 M89.2 154.8h0.35 M133.5 163.5h0.35 M127.8 157.5h0.35 M129.5 179.2h0.35 M87.4 187.2h0.35 M93.4 155.8h0.35 M132.5 178.0h0.35 M143.2 154.2h0.35 M115.8 187.5h0.35 M126.3 174.2h0.35 M95.1 153.5h0.35 M110.2 154.8h0.35 M96.1 153.5h0.35 M116.7 153.8h0.35 M99.5 155.2h0.35 M118.3 183.8h0.35 M131.0 159.0h0.35 M98.0 155.0h0.35 M128.0 157.2h0.35 M130.4 154.8h0.35 M86.0 182.5h0.35 M120.4 148.5h0.35 M118.7 155.0h0.35 M89.0 155.5h0.35 M126.5 153.8h0.35 M91.3 182.5h0.35 M120.5 153.8h0.35 M92.7 155.2h0.35 M119.7 148.2h0.35 M107.3 182.8h0.35 M122.3 155.8h0.35 M133.3 179.0h0.35 M124.7 154.2h0.35 M130.3 142.2h0.35 M87.4 155.5h0.35 M92.2 183.2h0.35 M84.5 184.2h0.35 M89.2 155.8h0.35 M101.7 184.2h0.35 M123.3 147.5h0.35 M130.6 163.2h0.35 M110.7 154.8h0.35 M133.3 158.0h0.35 M91.2 154.5h0.35 M96.0 185.5h0.35 M94.5 155.2h0.35 M96.3 188.0h0.35 M102.8 152.0h0.35 M85.8 157.8h0.35 M131.2 158.2h0.35 M88.4 181.8h0.35 M130.2 155.5h0.35 M130.3 161.2h0.35 M94.6 149.8h0.35 M105.1 155.2h0.35 M87.8 182.2h0.35 M148.8 151.8h0.35 M133.6 159.2h0.35 M118.0 154.5h0.35 M118.4 153.5h0.35 M96.4 152.5h0.35 M93.4 183.8h0.35 M151.5 180.8h0.35 M126.8 156.0h0.35 M134.4 156.2h0.35 M102.7 182.2h0.35 M130.2 171.8h0.35 M104.1 186.2h0.35 M94.3 186.5h0.35 M132.3 160.5h0.35 M129.0 179.2h0.35 M147.0 165.0h0.35 M104.0 155.2h0.35 M132.2 158.8h0.35 M108.5 182.0h0.35 M137.3 165.8h0.35 M134.3 176.5h0.35 M135.2 160.8h0.35 M85.3 188.8h0.35 M89.3 183.2h0.35 M104.0 152.8h0.35 M93.7 183.8h0.35 M86.0 186.5h0.35 M96.8 183.8h0.35 M125.2 155.5h0.35 M127.8 155.8h0.35 M88.8 154.8h0.35 M102.6 148.2h0.35 M129.5 160.0h0.35 M86.8 184.5h0.35 M100.6 183.0h0.35 M118.3 179.5h0.35 M102.2 184.2h0.35 M128.4 179.2h0.35 M93.7 154.5h0.35 M99.2 183.5h0.35 M127.0 155.8h0.35 M85.7 185.5h0.35 M92.5 155.5h0.35 M92.7 151.2h0.35 M105.1 182.2h0.35 M94.5 152.0h0.35 M106.1 184.8h0.35 M127.3 157.0h0.35 M93.3 183.2h0.35 M131.8 147.8h0.35 M130.7 165.0h0.35 M85.5 180.5h0.35 M97.8 152.8h0.35 M139.2 172.5h0.35 M121.7 153.0h0.35 M96.5 155.2h0.35 M123.8 155.8h0.35 M137.7 174.5h0.35 M100.2 152.8h0.35 M91.5 154.0h0.35 M94.3 183.2h0.35 M87.2 182.0h0.35 M134.2 158.8h0.35 M105.2 155.0h0.35 M126.5 181.0h0.35 M129.6 159.8h0.35 M105.6 155.2h0.35 M92.9 185.0h0.35 M91.2 154.2h0.35 M100.8 183.5h0.35 M128.5 174.2h0.35 M113.2 178.2h0.35 M85.7 180.8h0.35 M90.5 182.8h0.35 M126.0 185.0h0.35 M98.8 186.5h0.35 M107.8 154.8h0.35 M112.4 153.5h0.35 M105.7 185.5h0.35 M94.5 154.2h0.35 M91.7 154.5h0.35 M102.3 183.5h0.35 M88.7 190.2h0.35 M97.6 184.2h0.35 M138.4 162.8h0.35 M91.8 156.0h0.35 M128.8 195.2h0.35 M89.3 182.5h0.35 M152.5 176.0h0.35 M97.1 138.8h0.35 M116.3 154.0h0.35 M96.7 139.8h0.35 M93.5 186.0h0.35 M117.4 154.5h0.35 M93.4 153.8h0.35 M124.3 168.8h0.35 M93.4 154.2h0.35 M130.0 165.2h0.35 M118.2 188.2h0.35 M91.8 184.8h0.35 M91.7 154.8h0.35 M105.5 186.2h0.35 M130.7 156.5h0.35 M133.6 163.2h0.35 M90.9 155.5h0.35 M116.8 202.8h0.35 M100.1 155.2h0.35 M90.5 182.5h0.35 M118.8 174.8h0.35 M106.3 181.0h0.35 M109.7 151.8h0.35 M128.2 164.5h0.35 M138.3 199.8h0.35 M137.6 166.8h0.35 M120.7 154.0h0.35 M132.0 147.8h0.35 M95.8 155.5h0.35 M87.2 182.8h0.35 M136.2 143.0h0.35 M131.5 147.2h0.35 M110.7 179.2h0.35 M87.8 185.2h0.35 M132.3 158.0h0.35 M117.3 175.5h0.35 M110.6 154.8h0.35 M92.6 155.0h0.35 M134.8 160.0h0.35 M84.8 154.5h0.35 M133.2 158.8h0.35 M97.4 153.2h0.35 M91.4 186.8h0.35 M111.5 178.5h0.35 M114.0 151.2h0.35 M111.1 154.0h0.35 M94.6 184.0h0.35 M88.6 156.0h0.35 M114.7 154.8h0.35 M109.2 142.8h0.35 M117.8 180.2h0.35 M127.2 167.5h0.35 M91.5 184.2h0.35 M90.8 153.8h0.35 M100.9 182.8h0.35 M91.7 184.0h0.35 M86.2 184.0h0.35 M88.4 182.8h0.35 M129.7 158.2h0.35 M96.7 147.2h0.35 M117.4 178.0h0.35 M123.8 143.2h0.35 M118.0 150.8h0.35 M85.1 157.0h0.35 M94.5 152.5h0.35 M129.7 158.8h0.35 M88.4 184.5h0.35 M100.8 153.8h0.35 M93.7 183.5h0.35 M111.2 200.2h0.35 M86.5 145.8h0.35 M85.1 157.5h0.35 M86.2 181.8h0.35 M110.7 182.2h0.35 M102.0 155.0h0.35 M85.8 183.8h0.35 M86.9 156.0h0.35 M89.0 154.2h0.35 M129.2 163.0h0.35 M136.7 173.2h0.35 M85.7 184.2h0.35 M108.7 179.8h0.35 M88.3 150.8h0.35 M124.4 168.0h0.35 M127.6 155.5h0.35 M111.2 181.5h0.35 M133.7 146.8h0.35 M111.5 179.2h0.35 M119.6 183.2h0.35 M136.7 146.0h0.35 M140.5 140.2h0.35 M91.9 185.5h0.35 M100.9 185.5h0.35 M109.0 153.8h0.35 M120.3 186.5h0.35 M129.5 156.8h0.35 M131.3 163.0h0.35 M134.7 159.8h0.35 M101.0 155.5h0.35 M93.7 185.2h0.35 M125.0 173.0h0.35 M85.5 187.2h0.35 M125.7 175.0h0.35 M94.9 186.8h0.35 M130.7 162.8h0.35 M134.5 160.0h0.35 M148.8 167.5h0.35 M99.9 135.8h0.35 M99.3 183.0h0.35 M103.0 153.0h0.35 M85.0 188.0h0.35 M108.2 146.8h0.35 M87.2 181.8h0.35 M100.3 183.0h0.35 M138.5 164.8h0.35 M87.6 151.5h0.35 M90.7 183.8h0.35 M84.4 155.5h0.35 M117.3 155.0h0.35 M132.4 181.0h0.35 M112.5 191.0h0.35 M90.5 151.5h0.35 M128.6 158.0h0.35 M108.8 180.2h0.35 M97.7 155.0h0.35 M95.7 186.8h0.35 M137.2 171.5h0.35 M131.3 150.0h0.35 M128.8 153.2h0.35 M123.5 153.0h0.35 M129.6 159.0h0.35 M106.2 186.0h0.35 M87.3 152.2h0.35 M110.1 153.2h0.35 M111.5 154.2h0.35 M128.0 167.8h0.35 M127.7 157.8h0.35 M127.2 157.2h0.35 M87.8 153.2h0.35 M86.7 184.0h0.35 M137.4 160.2h0.35 M94.8 184.8h0.35 M117.8 144.2h0.35 M132.0 159.0h0.35 M129.0 155.8h0.35 M92.9 184.2h0.35 M125.0 181.0h0.35 M128.7 163.2h0.35 M101.9 153.5h0.35 M86.3 180.8h0.35 M103.2 185.5h0.35 M89.5 183.2h0.35 M109.3 190.2h0.35 M126.8 169.8h0.35 M118.8 155.2h0.35 M90.0 154.5h0.35 M95.0 183.5h0.35 M90.9 183.8h0.35 M115.0 177.0h0.35 M94.9 183.2h0.35 M132.0 160.8h0.35 M89.6 184.5h0.35 M87.2 181.2h0.35 M85.2 154.8h0.35 M127.2 169.2h0.35 M150.5 179.0h0.35 M93.0 154.2h0.35 M109.5 187.2h0.35 M103.1 183.5h0.35 M89.0 153.2h0.35 M87.7 154.5h0.35 M125.1 131.8h0.35 M105.5 187.5h0.35 M101.2 153.8h0.35 M101.1 184.0h0.35 M130.8 162.5h0.35 M86.2 148.5h0.35 M111.1 154.2h0.35 M111.3 154.8h0.35 M93.4 183.0h0.35 M127.2 155.8h0.35 M115.4 153.0h0.35 M107.0 188.0h0.35 M129.7 162.8h0.35 M127.7 149.2h0.35 M105.5 191.2h0.35 M119.2 180.2h0.35 M85.3 158.2h0.35 M90.6 153.2h0.35 M85.8 181.2h0.35 M95.0 151.5h0.35 M103.5 187.5h0.35 M100.2 182.8h0.35 M113.1 181.8h0.35 M102.6 183.0h0.35 M91.4 184.8h0.35 M130.4 159.8h0.35 M90.8 183.8h0.35 M112.7 152.0h0.35 M86.5 181.5h0.35 M93.1 182.8h0.35 M111.1 154.2h0.35 M125.5 152.0h0.35 M115.6 186.2h0.35 M91.0 185.5h0.35 M110.5 152.0h0.35 M125.5 169.5h0.35 M122.8 153.8h0.35 M96.0 154.2h0.35 M93.3 187.0h0.35 M130.0 179.5h0.35 M86.7 183.0h0.35 M105.3 155.0h0.35 M88.5 183.2h0.35 M110.5 180.0h0.35 M84.5 155.8h0.35 M130.0 161.5h0.35 M97.2 154.8h0.35 M124.0 170.2h0.35 M95.3 154.0h0.35 M131.7 158.5h0.35 M95.8 184.5h0.35 M113.2 179.2h0.35 M125.4 171.5h0.35 M144.3 152.0h0.35 M105.4 183.8h0.35 M135.7 174.5h0.35 M96.1 188.2h0.35 M94.0 187.2h0.35 M114.2 187.0h0.35 M129.5 164.2h0.35 M101.8 183.0h0.35 M92.8 151.8h0.35 M120.7 146.8h0.35 M99.3 183.2h0.35 M108.7 180.2h0.35 M128.4 188.0h0.35 M96.8 155.2h0.35 M137.8 161.2h0.35 M99.8 183.2h0.35 M122.7 172.8h0.35 M107.5 184.2h0.35 M88.3 156.5h0.35 M98.3 184.2h0.35 M140.8 184.5h0.35 M102.1 185.8h0.35 M127.8 156.5h0.35 M97.1 186.0h0.35 M102.5 155.2h0.35 M121.0 170.2h0.35 M102.8 192.8h0.35 M119.4 178.0h0.35 M122.0 170.0h0.35 M100.3 155.8h0.35 M128.7 162.8h0.35 M133.8 161.0h0.35 M86.3 180.5h0.35 M128.3 164.8h0.35 M125.2 155.2h0.35 M104.7 154.0h0.35 M91.0 195.0h0.35 M130.2 174.5h0.35 M98.0 153.8h0.35 M104.3 155.5h0.35 M130.7 178.5h0.35 M121.8 154.5h0.35 M100.8 185.5h0.35 M129.5 164.8h0.35 M128.3 180.5h0.35 M85.0 179.8h0.35 M103.9 153.5h0.35 M125.5 187.0h0.35 M99.3 184.2h0.35 M91.3 153.2h0.35 M124.9 167.5h0.35 M129.2 163.8h0.35 M103.2 155.2h0.35 M91.5 156.0h0.35 M113.6 154.8h0.35 M117.7 176.5h0.35 M141.1 157.5h0.35 M145.7 151.5h0.35 M100.0 154.5h0.35 M111.0 153.2h0.35 M117.8 176.2h0.35 M128.0 166.0h0.35 M85.1 156.5h0.35 M135.1 165.2h0.35 M132.5 176.0h0.35 M122.5 154.2h0.35 M100.8 148.2h0.35 M140.5 189.5h0.35 M92.7 154.0h0.35 M85.2 154.8h0.35 M108.0 181.5h0.35 M88.9 194.5h0.35 M110.0 152.5h0.35 M86.9 156.8h0.35 M96.4 184.5h0.35 M104.4 150.8h0.35 M99.0 154.8h0.35 M132.2 173.5h0.35 M94.6 184.0h0.35 M97.7 151.8h0.35 M84.8 157.2h0.35 M120.9 170.0h0.35 M133.6 165.2h0.35 M134.5 164.2h0.35 M117.5 197.2h0.35 M141.8 193.8h0.35 M108.6 154.2h0.35 M108.1 154.8h0.35 M133.3 156.5h0.35 M89.0 151.8h0.35 M92.2 153.2h0.35 M128.0 167.0h0.35 M109.3 194.8h0.35 M127.0 155.0h0.35 M127.8 154.0h0.35 M131.7 174.0h0.35 M89.1 155.2h0.35 M104.7 139.8h0.35 M107.9 151.2h0.35 M98.7 185.0h0.35 M100.0 152.0h0.35 M114.9 177.8h0.35 M127.7 157.2h0.35 M101.2 183.0h0.35 M133.2 162.2h0.35 M107.6 154.5h0.35 M110.5 154.2h0.35 M115.3 154.5h0.35 M112.8 154.5h0.35 M99.8 154.8h0.35 M91.6 155.2h0.35 M129.3 170.8h0.35 M128.9 163.8h0.35 M112.8 149.5h0.35 M130.5 157.2h0.35 M96.5 187.0h0.35 M108.5 187.5h0.35 M128.6 155.2h0.35 M85.3 153.5h0.35 M124.6 155.0h0.35 M115.9 152.8h0.35 M112.5 154.8h0.35 M94.8 186.8h0.35 M97.4 185.0h0.35 M130.3 158.8h0.35 M133.2 165.5h0.35 M86.8 181.5h0.35 M87.5 181.5h0.35 M86.2 181.2h0.35 M89.3 182.5h0.35 M124.1 169.8h0.35 M117.7 152.8h0.35 M84.8 181.0h0.35 M109.4 180.0h0.35 M106.4 153.5h0.35 M115.7 154.0h0.35 M113.9 177.2h0.35 M89.6 156.2h0.35 M89.7 183.8h0.35 M98.2 155.0h0.35 M117.0 179.8h0.35 M127.2 173.8h0.35 M116.4 152.0h0.35 M99.7 155.0h0.35 M93.7 155.8h0.35 M94.2 155.2h0.35 M85.3 151.2h0.35 M115.7 154.5h0.35 M129.0 164.5h0.35 M98.0 154.5h0.35 M122.8 177.0h0.35 M133.1 157.0h0.35 M129.9 159.0h0.35 M100.6 154.2h0.35 M99.4 183.2h0.35 M102.2 150.2h0.35 M90.0 188.0h0.35 M125.5 169.5h0.35 M88.8 188.0h0.35 M129.5 165.5h0.35 M92.3 155.8h0.35 M138.3 155.8h0.35 M93.8 187.0h0.35 M128.8 163.2h0.35 M88.0 156.5h0.35 M87.6 153.5h0.35 M112.0 153.2h0.35 M143.4 157.0h0.35 M130.1 158.8h0.35 M100.4 183.5h0.35 M97.9 152.5h0.35 M133.9 158.8h0.35 M118.0 152.8h0.35 M105.3 154.8h0.35 M131.1 161.2h0.35 M96.9 185.0h0.35 M113.7 152.8h0.35 M101.1 153.8h0.35 M127.4 181.5h0.35 M128.2 163.8h0.35 M93.3 151.0h0.35 M133.4 180.5h0.35 M91.8 189.2h0.35 M91.2 182.5h0.35 M95.8 199.5h0.35 M109.7 182.5h0.35 M95.1 155.5h0.35 M95.9 183.5h0.35 M128.7 167.2h0.35 M89.0 151.2h0.35 M101.4 155.8h0.35 M105.9 188.0h0.35 M115.7 179.0h0.35 M139.4 155.8h0.35 M87.4 181.8h0.35 M106.7 180.8h0.35 M94.0 153.5h0.35 M130.2 159.2h0.35 M103.8 183.5h0.35 M109.9 152.2h0.35 M126.6 165.5h0.35 M85.8 152.5h0.35 M95.2 155.0h0.35 M98.0 183.0h0.35 M97.2 155.8h0.35 M109.6 183.8h0.35 M89.0 182.2h0.35 M121.2 177.0h0.35 M105.7 153.2h0.35 M130.1 158.8h0.35 M100.3 185.0h0.35 M115.1 176.8h0.35 M112.1 149.5h0.35 M134.2 161.8h0.35 M135.1 159.5h0.35 M136.0 160.8h0.35 M131.2 157.0h0.35 M93.3 183.8h0.35 M132.5 164.0h0.35 M101.1 184.5h0.35 M92.0 188.8h0.35 M100.2 185.5h0.35 M101.7 183.0h0.35 M111.8 142.2h0.35 M116.5 131.2h0.35 M94.5 153.8h0.35 M128.6 163.0h0.35 M91.5 155.2h0.35 M112.9 152.8h0.35 M106.5 186.8h0.35 M85.7 157.8h0.35 M130.1 154.0h0.35 M130.4 162.5h0.35 M93.8 193.2h0.35 M131.8 182.0h0.35 M94.2 186.8h0.35 M108.1 152.2h0.35 M104.5 182.5h0.35 M103.7 155.5h0.35 M99.6 155.8h0.35 M130.6 159.0h0.35 M134.3 159.2h0.35 M110.4 183.2h0.35 M84.9 155.2h0.35 M131.3 159.2h0.35 M131.7 157.8h0.35 M138.6 175.0h0.35 M125.5 166.5h0.35 M96.8 147.2h0.35 M93.7 184.5h0.35 M127.0 177.8h0.35 M113.5 153.2h0.35 M129.4 161.5h0.35 M94.0 185.8h0.35 M90.5 185.2h0.35 M125.7 156.8h0.35 M120.9 154.5h0.35 M101.5 188.5h0.35 M88.2 182.5h0.35 M84.8 179.8h0.35 M84.4 157.0h0.35 M94.1 184.8h0.35 M110.4 154.0h0.35 M92.9 184.0h0.35 M96.0 183.5h0.35 M130.7 163.2h0.35 M122.2 155.8h0.35 M125.7 180.8h0.35 M125.9 156.2h0.35 M129.3 157.0h0.35 M88.3 155.0h0.35 M96.3 183.2h0.35 M121.8 153.2h0.35 M138.7 161.2h0.35 M129.2 158.2h0.35 M102.0 194.5h0.35 M113.7 152.0h0.35 M132.0 167.0h0.35 M91.5 154.5h0.35 M88.6 188.5h0.35 M128.6 152.5h0.35 M107.8 186.2h0.35 M112.3 178.2h0.35 M104.6 154.0h0.35 M131.3 157.0h0.35 M96.2 155.0h0.35 M131.1 160.2h0.35 M87.8 184.0h0.35 M130.2 160.5h0.35 M94.4 194.2h0.35 M86.1 186.2h0.35 M121.7 154.2h0.35 M115.8 152.8h0.35 M108.3 180.8h0.35 M99.3 155.8h0.35 M123.5 154.8h0.35 M97.8 186.8h0.35 M128.3 168.2h0.35 M85.5 155.0h0.35 M148.2 166.8h0.35 M126.3 165.8h0.35 M95.0 183.5h0.35 M127.6 157.0h0.35 M130.5 162.0h0.35 M114.0 153.2h0.35 M109.2 184.2h0.35 M93.8 186.5h0.35 M132.4 131.8h0.35 M106.8 182.8h0.35 M111.2 191.2h0.35 M103.1 184.5h0.35 M95.2 183.5h0.35 M119.4 154.2h0.35 M105.6 196.2h0.35 M89.4 156.0h0.35 M99.7 184.5h0.35 M91.5 183.2h0.35 M129.8 172.2h0.35 M99.7 190.0h0.35 M112.6 189.0h0.35 M131.7 158.2h0.35 M129.9 160.0h0.35 M102.3 185.8h0.35 M129.2 158.8h0.35 M100.9 184.8h0.35 M99.4 154.5h0.35 M102.5 154.8h0.35 M125.0 156.2h0.35 M102.3 155.2h0.35 M131.5 158.8h0.35 M91.0 154.5h0.35 M112.7 153.5h0.35 M129.2 156.0h0.35 M112.5 153.8h0.35 M125.6 155.5h0.35 M126.3 156.5h0.35 M97.3 187.8h0.35 M85.7 157.2h0.35 M123.3 169.8h0.35 M92.0 186.8h0.35 M133.1 158.2h0.35 M96.0 155.0h0.35 M126.3 167.2h0.35 M87.7 184.0h0.35 M108.0 155.0h0.35 M90.6 182.5h0.35 M130.8 160.5h0.35 M129.5 163.8h0.35 M117.8 178.0h0.35 M129.5 159.8h0.35 M94.0 154.0h0.35 M108.5 154.5h0.35 M121.3 147.2h0.35 M87.3 185.2h0.35 M115.2 178.8h0.35 M100.7 187.5h0.35 M124.1 155.2h0.35 M126.2 166.5h0.35 M127.8 167.5h0.35 M102.6 153.0h0.35 M125.4 166.2h0.35 M135.1 172.0h0.35 M129.3 157.8h0.35 M89.7 155.8h0.35 M117.2 154.5h0.35 M97.1 150.2h0.35 M120.7 171.0h0.35 M119.7 154.0h0.35 M97.9 150.5h0.35 M93.3 193.8h0.35 M86.7 185.5h0.35 M100.3 155.8h0.35 M135.3 159.8h0.35 M96.0 154.2h0.35 M122.7 194.5h0.35 M92.9 155.2h0.35 M105.8 184.0h0.35 M89.8 182.8h0.35 M135.9 140.8h0.35 M87.8 145.8h0.35 M140.7 158.0h0.35 M90.7 144.5h0.35 M90.5 186.5h0.35 M111.8 190.8h0.35 M119.5 173.5h0.35 M98.6 155.2h0.35 M114.2 154.2h0.35 M90.3 153.0h0.35 M125.3 167.2h0.35 M91.8 153.5h0.35 M87.0 154.5h0.35 M104.5 182.0h0.35 M101.4 184.8h0.35 M117.5 176.8h0.35 M93.3 189.0h0.35 M97.2 183.8h0.35 M130.8 157.8h0.35 M97.3 155.8h0.35 M124.0 154.0h0.35 M97.8 183.5h0.35 M133.2 162.0h0.35 M95.4 185.0h0.35 M131.6 161.2h0.35 M93.5 185.0h0.35 M120.0 182.0h0.35 M125.3 167.5h0.35 M90.9 182.5h0.35 M88.2 182.5h0.35 M126.1 147.0h0.35 M86.2 183.8h0.35 M98.8 152.0h0.35 M129.5 164.8h0.35 M132.5 160.8h0.35 M91.3 183.0h0.35 M132.6 154.2h0.35 M113.5 181.2h0.35 M103.5 183.2h0.35 M128.0 155.5h0.35 M123.6 168.5h0.35 M129.2 157.0h0.35 M106.7 182.8h0.35 M89.7 185.2h0.35 M133.9 162.2h0.35 M116.6 139.0h0.35 M98.1 186.5h0.35 M122.8 169.2h0.35 M120.9 153.8h0.35 M123.0 182.2h0.35 M131.0 158.8h0.35 M102.3 153.8h0.35 M123.0 155.5h0.35 M125.3 172.8h0.35 M100.2 155.5h0.35 M108.0 153.0h0.35 M107.9 148.2h0.35 M88.9 156.2h0.35 M104.3 182.2h0.35 M130.1 155.5h0.35 M126.2 157.0h0.35 M99.1 183.5h0.35 M115.5 177.5h0.35 M91.1 193.8h0.35 M101.0 184.0h0.35 M106.2 187.5h0.35 M133.3 162.2h0.35 M118.4 183.0h0.35 M112.8 202.2h0.35 M123.3 138.8h0.35 M131.2 159.8h0.35 M122.5 182.5h0.35 M108.0 154.5h0.35 M96.3 149.8h0.35 M129.9 162.0h0.35 M99.2 149.2h0.35 M92.7 153.5h0.35 M122.3 147.5h0.35 M107.4 182.2h0.35 M94.5 147.5h0.35 M95.8 186.5h0.35 M145.3 166.2h0.35 M86.1 156.8h0.35 M94.7 153.2h0.35 M85.2 156.5h0.35 M106.6 154.8h0.35 M93.0 184.8h0.35 M135.9 162.2h0.35 M130.4 141.5h0.35 M84.7 187.5h0.35 M121.5 194.8h0.35 M120.8 197.0h0.35 M92.3 155.0h0.35 M130.1 161.8h0.35 M86.7 182.0h0.35 M112.4 152.0h0.35 M138.7 157.5h0.35 M85.8 155.5h0.35 M124.2 184.5h0.35 M105.8 143.5h0.35 M96.0 186.8h0.35 M95.3 141.8h0.35 M93.5 186.8h0.35 M139.2 158.8h0.35 M92.2 154.0h0.35 M118.3 155.2h0.35 M98.0 187.5h0.35 M101.5 154.0h0.35 M93.7 183.8h0.35 M115.6 185.2h0.35 M89.2 155.2h0.35 M131.4 168.8h0.35 M141.2 163.0h0.35 M95.5 187.2h0.35 M93.8 154.0h0.35 M91.6 156.0h0.35 M111.9 179.8h0.35 M119.0 153.0h0.35 M115.2 154.8h0.35 M100.5 183.0h0.35 M138.0 178.0h0.35 M126.3 167.0h0.35 M99.9 184.8h0.35 M87.7 154.8h0.35 M108.3 186.2h0.35 M91.2 155.5h0.35 M124.9 186.2h0.35 M90.3 182.2h0.35 M123.2 182.0h0.35 M128.5 172.8h0.35 M89.6 183.2h0.35 M106.3 155.2h0.35 M86.7 182.5h0.35 M117.6 152.2h0.35 M111.3 179.0h0.35 M103.2 191.2h0.35 M111.4 189.8h0.35 M91.2 154.8h0.35 M94.5 185.8h0.35 M127.6 170.5h0.35 M130.6 158.0h0.35 M84.8 156.2h0.35 M129.0 158.8h0.35 M130.8 158.8h0.35 M95.5 188.5h0.35 M89.7 183.0h0.35 M100.7 153.5h0.35 M94.0 183.2h0.35 M122.7 171.0h0.35 M93.8 196.8h0.35 M115.3 155.0h0.35 M105.3 182.5h0.35 M129.5 163.0h0.35 M95.5 154.5h0.35 M89.7 152.5h0.35 M122.0 185.5h0.35 M132.9 140.8h0.35 M103.4 154.8h0.35 M130.7 160.0h0.35 M121.0 155.0h0.35 M126.5 166.0h0.35 M113.1 153.8h0.35 M91.5 183.2h0.35 M130.2 168.8h0.35 M112.2 178.2h0.35 M93.8 191.8h0.35 M88.5 153.8h0.35 M134.8 159.5h0.35 M90.8 153.5h0.35 M91.5 155.2h0.35 M137.7 161.8h0.35 M88.1 183.0h0.35 M87.3 154.0h0.35 M90.7 183.8h0.35 M102.3 182.2h0.35 M138.3 160.0h0.35 M90.9 185.0h0.35 M128.4 157.5h0.35 M142.1 193.2h0.35 M98.2 190.0h0.35 M86.8 157.2h0.35 M93.3 189.0h0.35 M103.2 183.0h0.35 M131.8 163.8h0.35 M119.2 173.8h0.35 M96.8 183.5h0.35 M114.5 189.2h0.35 M88.5 186.0h0.35 M97.5 189.0h0.35 M87.0 156.8h0.35 M111.3 137.0h0.35 M94.0 153.0h0.35 M130.8 156.0h0.35 M92.8 151.5h0.35 M134.2 165.0h0.35 M89.2 152.5h0.35 M96.8 155.2h0.35 M97.6 155.2h0.35 M111.2 186.0h0.35 M140.5 159.5h0.35 M94.2 152.2h0.35 M109.7 182.8h0.35 M90.3 187.5h0.35 M112.7 181.8h0.35 M114.7 134.8h0.35 M97.4 184.2h0.35 M114.7 154.2h0.35 M101.9 183.8h0.35 M109.5 183.8h0.35 M108.3 180.8h0.35 M95.9 150.2h0.35 M130.2 155.8h0.35 M87.7 152.8h0.35 M93.0 183.2h0.35 M104.3 149.5h0.35 M131.8 158.2h0.35 M84.6 182.8h0.35 M89.0 184.0h0.35 M129.0 157.5h0.35 M94.2 150.8h0.35 M101.5 185.0h0.35 M87.8 155.2h0.35 M130.0 161.2h0.35 M127.1 132.0h0.35 M94.2 155.2h0.35 M92.1 187.8h0.35 M104.7 182.2h0.35 M88.0 182.0h0.35 M124.4 167.2h0.35 M95.7 153.0h0.35 M93.9 154.5h0.35 M117.1 188.5h0.35 M121.0 152.0h0.35 M111.3 179.8h0.35 M89.8 156.0h0.35 M109.4 182.2h0.35 M88.4 153.2h0.35 M129.7 151.8h0.35 M126.9 165.2h0.35 M111.1 154.8h0.35 M101.2 183.2h0.35 M120.3 201.2h0.35 M96.2 153.0h0.35 M98.0 154.8h0.35 M101.2 153.8h0.35 M129.5 156.2h0.35 M113.4 154.5h0.35 M143.2 172.8h0.35 M123.5 156.0h0.35 M128.8 163.2h0.35 M123.1 184.5h0.35 M85.7 184.8h0.35 M111.3 153.8h0.35 M117.8 154.8h0.35 M125.8 167.5h0.35 M130.7 160.0h0.35 M97.3 145.0h0.35 M90.2 182.5h0.35 M113.8 183.2h0.35 M131.0 157.8h0.35 M107.8 152.5h0.35 M128.9 181.2h0.35 M96.1 149.2h0.35 M119.0 149.0h0.35 M122.7 168.0h0.35 M129.1 158.0h0.35 M108.7 194.5h0.35 M101.0 154.8h0.35 M126.6 153.8h0.35 M88.2 155.5h0.35 M90.5 185.0h0.35 M107.6 181.2h0.35 M97.2 134.0h0.35 M95.7 152.8h0.35 M89.4 188.5h0.35 M147.1 167.2h0.35 M85.3 157.2h0.35 M90.8 150.2h0.35 M96.0 154.5h0.35 M94.3 141.5h0.35 M110.5 184.2h0.35 M122.6 187.0h0.35 M133.1 164.2h0.35 M85.7 183.5h0.35 M95.2 153.0h0.35 M99.8 155.0h0.35 M119.1 174.2h0.35 M85.4 180.8h0.35 M125.6 171.8h0.35 M90.1 151.2h0.35 M88.4 187.2h0.35 M98.8 154.8h0.35 M110.1 180.8h0.35 M87.8 184.8h0.35 M116.3 152.8h0.35 M134.7 159.0h0.35 M126.6 174.2h0.35 M88.7 196.0h0.35 M85.9 181.8h0.35 M127.7 157.8h0.35 M107.0 181.2h0.35 M130.3 162.8h0.35 M113.0 152.0h0.35 M134.9 154.2h0.35 M123.3 175.5h0.35 M120.3 180.2h0.35 M131.7 158.0h0.35 M115.4 154.8h0.35 M127.4 148.2h0.35 M90.8 182.8h0.35 M86.4 154.2h0.35 M85.9 182.0h0.35 M94.3 187.8h0.35 M112.7 183.8h0.35 M121.0 170.0h0.35 M114.3 148.0h0.35 M111.4 181.5h0.35 M85.9 193.2h0.35 M97.5 155.2h0.35 M88.0 184.2h0.35 M139.2 164.5h0.35 M95.3 183.2h0.35 M102.8 182.2h0.35 M94.3 155.2h0.35 M131.3 160.5h0.35 M86.2 151.5h0.35 M89.6 152.5h0.35 M115.4 155.0h0.35 M85.5 182.0h0.35 M86.8 156.5h0.35 M91.8 184.8h0.35 M114.3 179.5h0.35 M87.0 186.5h0.35 M107.8 183.2h0.35 M134.1 158.0h0.35 M128.6 151.8h0.35 M131.4 161.0h0.35 M130.1 162.8h0.35 M122.3 152.0h0.35 M102.2 153.2h0.35 M122.1 193.2h0.35 M92.8 184.0h0.35 M99.2 155.8h0.35 M87.6 144.0h0.35 M129.5 154.8h0.35 M126.9 165.8h0.35 M123.5 190.2h0.35 M122.6 142.8h0.35 M103.0 182.0h0.35 M94.6 189.2h0.35 M91.8 190.0h0.35 M144.2 170.2h0.35 M98.6 183.2h0.35 M142.2 180.5h0.35 M97.0 141.5h0.35 M94.7 155.0h0.35 M91.2 187.8h0.35 M133.0 151.5h0.35 M99.0 153.5h0.35 M153.9 174.2h0.35 M99.7 185.5h0.35 M129.0 155.8h0.35 M130.3 171.2h0.35 M99.3 192.5h0.35 M148.2 184.0h0.35 M147.6 139.5h0.35 M85.0 180.5h0.35 M98.8 152.0h0.35 M124.5 188.8h0.35 M104.5 182.0h0.35 M86.3 186.0h0.35 M129.5 161.2h0.35 M89.8 148.8h0.35 M103.1 154.2h0.35 M93.0 150.8h0.35 M105.3 182.8h0.35 M98.3 185.0h0.35 M131.8 158.8h0.35 M129.6 184.0h0.35 M121.8 154.2h0.35 M130.8 158.0h0.35 M130.8 157.2h0.35 M132.8 161.0h0.35 M100.6 144.2h0.35 M91.7 153.8h0.35 M87.2 152.0h0.35 M112.0 178.5h0.35 M132.3 160.2h0.35 M108.5 198.2h0.35 M125.7 177.0h0.35 M95.2 154.2h0.35 M132.5 151.8h0.35 M107.6 180.8h0.35 M108.7 183.8h0.35 M121.2 152.8h0.35 M128.6 163.0h0.35 M122.7 189.0h0.35 M106.5 185.8h0.35 M94.8 152.2h0.35 M131.7 161.2h0.35 M88.7 185.0h0.35 M121.2 172.2h0.35 M107.5 142.0h0.35 M90.5 155.8h0.35 M104.3 155.0h0.35 M119.8 155.5h0.35 M148.5 192.0h0.35 M97.5 183.8h0.35 M97.3 200.0h0.35 M89.6 183.5h0.35 M103.8 190.5h0.35 M85.0 157.2h0.35 M86.5 187.5h0.35 M128.3 165.2h0.35 M91.3 183.8h0.35 M90.3 154.2h0.35 M96.9 185.0h0.35" stroke="#555" stroke-width="0.35" fill="none"/>
<path d="M97 165.5L104 163.5L112 163L120 161.8" stroke="#fff" stroke-width="1.3" stroke-opacity="0.85" fill="none" stroke-linecap="round"/><path d="M99 164.5l3 -0.8" stroke="#fff" stroke-width="2" fill="none" stroke-linecap="round"/><circle cx="92.5" cy="169" r="0.8" fill="#fff" fill-opacity="0.7"/><circle cx="96" cy="176" r="0.7" fill="#fff" fill-opacity="0.7"/><circle cx="92" cy="180" r="0.6" fill="#fff" fill-opacity="0.6"/><circle cx="100" cy="172" r="0.6" fill="#fff" fill-opacity="0.5"/>
<text x="78.40" y="136.20" font-size="6.1" text-anchor="end" fill="#1a1a1a">10<tspan font-size="3.9" dy="-2.6">5</tspan></text>
<text x="78.40" y="154.00" font-size="6.1" text-anchor="end" fill="#1a1a1a">10<tspan font-size="3.9" dy="-2.6">4</tspan></text>
<text x="78.40" y="174.70" font-size="6.1" text-anchor="end" fill="#1a1a1a">10<tspan font-size="3.9" dy="-2.6">3</tspan></text>
<text x="79.00" y="187.90" font-size="6.1" text-anchor="end" fill="#1a1a1a">0</text>
<text x="78.40" y="200.00" font-size="6.1" text-anchor="end" fill="#1a1a1a">−10<tspan font-size="3.9" dy="-2.6">3</tspan></text>
<path d="M81.40 134.30H84.00 M81.40 152.10H84.00 M81.40 172.70H84.00 M81.40 185.70H84.00 M81.40 197.80H84.00 M82.60 166.50H84.00 M82.60 162.87H84.00 M82.60 160.30H84.00 M82.60 158.30H84.00 M82.60 156.67H84.00 M82.60 155.29H84.00 M82.60 154.10H84.00 M82.60 153.04H84.00 M82.60 146.74H84.00 M82.60 143.61H84.00 M82.60 141.38H84.00 M82.60 139.66H84.00 M82.60 138.25H84.00 M82.60 137.06H84.00 M82.60 136.02H84.00 M82.60 135.11H84.00 M82.60 181.41H84.00 M82.60 189.69H84.00 M82.60 177.12H84.00 M82.60 193.69H84.00" stroke="#333" stroke-width="0.6" fill="none"/>
<rect x="81.60" y="184.60" width="2.2" height="2.2" fill="#111"/>
<text x="104.80" y="214.60" font-size="6.1" text-anchor="middle" fill="#1a1a1a">0</text>
<text x="133.40" y="214.60" font-size="6.1" fill="#1a1a1a">10<tspan font-size="3.9" dy="-2.6">4</tspan></text>
<text x="149.80" y="214.60" font-size="6.1" fill="#1a1a1a">10<tspan font-size="3.9" dy="-2.6">5</tspan></text>
<path d="M104.80 203.60V206.20 M137.20 203.60V206.20 M153.00 203.60V206.20 M141.96 203.60V205.00 M144.74 203.60V205.00 M146.71 203.60V205.00 M148.24 203.60V205.00 M149.49 203.60V205.00 M150.55 203.60V205.00 M151.47 203.60V205.00 M152.28 203.60V205.00 M111.28 203.60V205.00 M117.76 203.60V205.00 M124.24 203.60V205.00 M129.10 203.60V205.00 M132.34 203.60V205.00 M134.93 203.60V205.00 M95.44 203.60V205.00 M89.20 203.60V205.00" stroke="#333" stroke-width="0.6" fill="none"/>
<rect x="103.70" y="203.80" width="2.2" height="2.2" fill="#111"/>
<path d="M84.00 126.50V203.60H160.50" fill="none" stroke="#333" stroke-width="0.9"/>
<path d="M84.00 126.50H160.50" fill="none" stroke="#555" stroke-width="0.8"/>
<path d="M160.50 126.50V203.60" fill="none" stroke="#999" stroke-width="0.8"/>
<path d="M160.70 126.50V203.60" fill="none" stroke="#8a8a8a" stroke-width="1.3"/>
<path d="M119.60 203.60V126.50H160.70" fill="none" stroke="#3a3a3a" stroke-width="1.0"/>
<text x="155.70" y="137.20" font-size="6.3" text-anchor="end" fill="#1a1a1a">14.9</text>
<path d="M219 186.5l-4 .1 -7.5-.4 -6.5 0 -4.5-.5 0-14.6 3.3-.6 3.7-.1 9.3 1 1.4-.6 3.6-2.8 2.2-.9 1.8-.3 1.4 .1 1.6 .5 1.2 .6 1.4 1.2 .8 1.3 .3 1.7 -.2 3 .5 1 2 2 .9 1.3 .3 1.3 -.2 1 -.6 1 -.9 .7 -2.5 1.4 -3.8 1z" fill="#000" fill-opacity="0.4" fill-rule="evenodd" stroke="none"/>
<path d="M218.8 181.3l-5 .1 -2.3-.1 -2.9-.8 -1-.7 1.6-.6 3-.1 7 .5 1 .2 .7 .4 -.4 .7z M217.8 181.8l-5.8 .1 -10-1.6 -2.2-.8 -.4-.5 -.1-.5 .3-.5 .6-.4 2-.2 5 1 5.6 .2 6.7 .6 1.5 .4 .8 .6 -.1 .6 -.9 .4z M216.8 182.3l-5 0 -10.8-1.5 -1.5-.4 -1-.6 -.6-.8 0-.8 .6-.7 1-.6 2.7-.3 5.6 1.2 5.7 .4 6.3 .8 1.9 .5 .8 .7 -.4 .8 -1 .5z M214.8 182.8l-3.8-.2 -11-1.4 -1.2-.5 -1.2-.7 -.6-.8 -.1-1 .6-1 1.2-.7 1.8-.4 1.7 0 6 1.3 6 .5 6 .9 2 .6 .8 .8 0 .6 -.5 .4 -1.5 .7 -2.8 .5z M196.5 177.3l1-.8 1.5-.6 1.8-.3 2 .1 5.5 1.3 6.7 .7 5.8 .9 2.2 .9 .4 .5 .2 .5 -.9 1 -2.2 .8 -3.5 .6 -3.5 .2 -13.3-1.4 -2.2-.7 -1.5-1.1 M196.5 176.5l1.3-.7 1.4-.5 1.8-.2 2 .2 5.9 1.5 6.3 .6 5.6 1 2.4 .9 .7 .7 .1 .5 -.7 1 -2.1 .9 -3.4 .7 -3.6 .3 -13.7-1.3 -2.3-.5 -1.7-1 M196.5 175.9l3-1 3.7 0 6 1.6 7 .8 5 1 2.4 .9 .6 .6 .3 .7 -.7 1.1 -2.3 1 -3.3 .7 -3.2 .3 -3.2-.1 -11-1 -2.3-.4 -2-.9 M196.5 175.4l1.5-.6 2-.3 3.8 .1 5.7 1.6 7 .9 5 1 2.6 1.1 .5 .6 .3 .7 -.7 1.1 -2 1.1 -3 .8 -3.4 .3 -3.8 0 -11-.9 -2.5-.5 -2-.7 M196.5 175l3.5-.9 4 .3 5.8 1.6 7 .9 4.7 1 2.7 1.1 .9 .8 .2 .7 -.2 .7 -.5 .6 -2.1 1.1 -2.7 .7 -3.6 .4 -4 0 -11.2-.9 -2.5-.4 -2-.6 M196.5 174.6l3-.7 3.3 0 2.4 .4 4.7 1.5 8.3 1.1 3.8 .9 2 .8 1.3 .9 .4 1 -.6 1.3 -1.9 1.1 -3 .9 -3.2 .4 -4.2 .1 -11.8-.9 -2.5-.3 -2-.7 M196.5 174.3l3-.7 3.5 0 2.5 .5 4.5 1.4 9 1.3 3 .8 2.2 .9 1.5 1 .5 1 -.6 1.3 -1.8 1.2 -2.8 .9 -3.5 .5 -4.7 .1 -11.8-.8 -2.5-.4 -2-.5 M196.5 173.9l3.3-.6 3.4 0 2.6 .5 4.7 1.5 9 1.4 3.3 .9 2.2 1 1.3 1.2 .3 1 -.3 .7 -.5 .7 -2 1.1 -2.8 .8 -3.5 .5 -4.7 .1 -11.8-.8 -4.5-.8 M196.5 173.6l3.5-.6 3.5 .1 2.5 .5 5.2 1.6 9 1.4 3.3 1 2 1 1.1 .9 .5 1.3 -.3 .7 -.6 .7 -1.7 1.1 -3 1 -3.5 .5 -4.8 .1 -12.2-.7 -4.5-.8 M196.5 173.3l3.5-.6 3.8 .1 2.4 .6 5.1 1.6 9.2 1.4 3 .9 2.3 1.1 1.2 1.1 .5 1.3 -.2 .7 -.5 .7 -1.8 1.2 -2.8 1 -3.4 .5 -5 .2 -12.6-.7 -4.7-.7 M196.5 173.1l3.5-.7 3.8 .1 2.7 .6 4.8 1.7 9.2 1.4 3.3 .9 2.2 1.1 1.5 1.3 .5 1.3 -.1 .7 -.5 .7 -1.9 1.3 -3 1 -3.5 .6 -5 .2 -12.8-.6 -4.7-.8 M196.5 172.8l3.7-.6 3.8 .1 2.8 .6 4.7 1.6 10 1.6 3 1 2.3 1.2 1.2 1.2 .5 1.3 -.1 .7 -.5 .7 -1.7 1.3 -3 1.1 -3.4 .6 -7 .2 -12.3-.6 -4-.6 M196.5 172.5l3.7-.6 4 .2 2.6 .5 5.7 1.9 9.3 1.3 3 1.1 2.4 1.4 1.5 1.5 .3 1.2 -.2 .8 -.5 .7 -2.1 1.4 -3 .9 -3.4 .6 -5.6 .2 -13-.5 -4.7-.7 M196.5 172.3l4-.7 4 .2 2.7 .6 5.7 1.8 8.9 1.2 3.2 1.2 2.8 1.6 1.3 1.3 .5 1.5 -.7 1.5 -1.9 1.3 -3 1.1 -4 .7 -5.2 .2 -13.6-.5 -4.7-.6 M196.5 172l3.7-.6 3.8 0 3.5 .7 5.8 1.9 8.2 .6 3.7 1.7 2.8 1.6 1.6 1.6 .5 1.5 -.6 1.5 -2 1.4 -3.3 1.2 -3.4 .6 -7.6 .3 -12.4-.5 -4.3-.6 M196.5 171.7l4-.6 4 .1 3.5 .6 5 1.7 4 .4 2-.4 1.5-2 1-.5 1 0 .8 .5 .5 .7 .4 2.6 5.2 3.7 1 1.3 .3 1.2 -.2 .8 -.5 .8 -2 1.4 -3 1.1 -4 .8 -7.2 .3 -13.6-.5 -3.7-.5 M196.5 171.4l4-.6 4.3 0 3.2 .6 5 1.4 2.2 .2 1.5-.5 1.5-2 1.3-1 1.7-.6 1.8 .1 1.5 .7 1 1.1 .5 1.4 .2 2.8 .6 .8 3.6 3 .8 1.2 .1 1 -.3 1 -.5 .8 -2 1.4 -3.3 1.1 -4 .8 -7.2 .3 -7-.4 -6.5 0 -4-.6 M196.5 171.1l3.3-.6 3.7-.1 3.5 .2 4.5 .7 1.5 0 1-.3 3-2.5 2-1.1 2.5-.5 2.5 .2 2.4 1.1 1.5 1.8 .6 2 -.3 2.8 .2 .7 3 3.5 .6 1.8 -.2 1 -.4 .7 -1.9 1.5 -3.3 1.4 -3.7 .8 -4 .3 -3.7 .1 -7.3-.4 -7 0 -4-.5 M196.5 170.8l4.7-.8 9.3-.3 1.7-.7 3.6-2.3 2.2-1.1 2.2-.6 2.3-.2 3 .5 3 1.4 3.1 2.5 1 1.3 .2 .7 -.2 .8 -1.7 2.8 -.3 1 .3 1 1.7 3 0 1.7 -.5 1 -.9 .9 -2.7 1.5 -4.5 1.3 -6.2 .6 -17-.3 -4.3-.6 M239.5 174.6l-1.3-.3 -1.3-.8 -.9-1 -.1-.7 .5-.3 .8 .1 1.8 .8 1 1.4 0 .4z M196.5 170.5l11.3-1.9 2-.8 5.2-3 2.8-1.2 3-.7 3 0 2.4 .4 2.8 1 7.8 4.7 2 1.5 1.4 1.4 1.1 1.6 .3 1.3 -.4 .9 -1 .5 -4.4-.3 -1.8 .4 -.5 .5 -.3 .7 .4 2.3 0 1.2 -.9 1.8 -2.5 1.8 -4.2 1.5 -4.5 .7 -5 .3 -8.7-.4 -7 0 -4.3-.5 M196.5 170.1l6.3-1.6 3-1 8.4-4.4 3.3-1.4 3.5-.7 3.5 0 3 .6 2.7 1.1 3 1.7 3.3 2.3 3 2.6 2 2.2 1.2 2 .5 2 -.4 1.3 -1 .8 -1.3 .4 -3.3 .2 -1.2 .4 -.6 .6 -1.1 2.8 -1.4 1.5 -2.7 1.6 -4 1.3 -4.2 .8 -5 .2 -9.5-.4 -6.5 0 -4.5-.5 M196.5 169.5l6.1-2.3 10.2-5.5 3.4-1.5 4.6-1.1 4.2 0 3.2 .8 3 1.3 3 1.8 3.3 2.5 3 2.9 2.3 2.8 1.5 2.8 .4 2.2 -.5 1.8 -1.1 1 -1.3 .5 -4 .9 -1 .6 -2.6 2.5 -1.7 1.1 -3.3 1.5 -3.4 1 -4 .6 -4.6 .1 -9.2-.4 -7-.1 -4.5-.5 M196.5 168.8l3.4-1.8 11.1-6.4 4-1.9 2.5-.9 2.7-.5 2.8-.1 2.5 .2 3.3 .8 3.2 1.4 3.2 2.1 3.3 2.7 3.2 3.4 2.5 3.2 1.5 3 .6 2.8 -.1 1.2 -.4 1 -.6 .8 -1 .7 -1.4 .6 -4.5 1.1 -6.5 3.7 -3 1.2 -3 .8 -3.6 .6 -4.2 .1 -9.5-.7 -7.7-.2 -4.3-.6 M196.5 167.5l12.3-7.7 5.4-2.8 3-1 3-.5 3-.1 3 .3 3.6 1 3.4 1.7 3.3 2.2 3.3 2.9 3.3 3.7 2.5 3.8 1.7 3.5 .5 3 -.1 1.5 -.6 1.2 -.8 1 -1.1 .8 -1.7 .7 -5 1.4 -8.3 3.8 -5.4 1.7 -3.6 .4 -3.7 0 -9.1-1.2 -8.4-.7 -3.5-.6" fill="none" stroke="#000" stroke-width="0.5" stroke-linejoin="round"/>
<path d="M245.6 169.8h0.35 M243.7 183.5h0.35 M229.7 189.5h0.35 M199.0 188.8h0.35 M246.1 171.5h0.35 M197.8 188.0h0.35 M199.5 188.2h0.35 M249.7 179.0h0.35 M205.7 189.2h0.35 M249.3 174.2h0.35 M231.2 187.5h0.35 M198.8 188.5h0.35 M197.6 188.0h0.35 M199.8 188.8h0.35 M206.7 189.2h0.35 M230.7 191.0h0.35 M244.6 184.8h0.35 M198.5 189.0h0.35 M210.0 189.0h0.35 M240.2 185.0h0.35 M226.5 150.8h0.35 M196.7 191.8h0.35 M236.5 185.2h0.35 M239.0 185.5h0.35 M209.3 190.2h0.35 M199.4 188.8h0.35 M198.8 188.2h0.35 M202.5 189.5h0.35 M236.5 156.2h0.35 M197.5 189.2h0.35 M233.5 187.0h0.35 M247.1 170.8h0.35 M201.2 189.0h0.35 M201.8 190.8h0.35 M246.4 182.2h0.35 M207.5 188.8h0.35 M236.6 185.2h0.35 M208.3 189.2h0.35 M202.2 189.2h0.35 M247.3 182.8h0.35 M210.8 189.8h0.35 M200.7 189.0h0.35 M206.5 189.0h0.35 M204.8 189.8h0.35 M197.3 188.0h0.35 M197.0 189.5h0.35 M197.5 190.2h0.35 M247.5 172.8h0.35 M201.2 190.0h0.35 M232.3 187.5h0.35 M199.8 188.2h0.35 M253.3 177.8h0.35 M228.0 189.0h0.35 M239.5 185.0h0.35 M222.0 190.0h0.35 M249.1 184.5h0.35 M205.2 188.5h0.35 M239.4 187.5h0.35 M204.2 188.8h0.35 M246.1 181.8h0.35 M250.8 180.5h0.35 M209.9 189.2h0.35 M227.0 189.2h0.35 M231.2 188.5h0.35 M216.8 190.5h0.35 M245.0 182.2h0.35 M202.1 190.0h0.35 M249.2 179.8h0.35 M222.3 191.2h0.35 M206.2 188.8h0.35 M203.3 188.8h0.35 M215.1 191.5h0.35 M208.3 189.5h0.35 M209.5 189.5h0.35 M199.8 164.0h0.35 M240.0 186.8h0.35 M245.9 169.5h0.35 M247.3 181.5h0.35 M248.6 182.5h0.35 M207.3 190.0h0.35 M247.7 176.0h0.35 M236.0 185.2h0.35 M201.2 188.2h0.35 M201.2 190.0h0.35 M225.9 191.2h0.35 M198.1 189.2h0.35 M248.1 182.5h0.35 M202.8 188.5h0.35 M197.2 189.2h0.35 M240.8 163.2h0.35 M205.8 189.0h0.35 M237.8 186.8h0.35 M200.2 188.8h0.35 M203.2 189.0h0.35 M203.3 189.0h0.35 M199.7 188.5h0.35 M204.3 188.5h0.35 M247.6 181.8h0.35 M229.5 188.2h0.35 M248.8 175.8h0.35 M199.8 188.2h0.35 M201.7 188.5h0.35 M202.9 189.5h0.35 M232.3 187.5h0.35 M227.4 155.0h0.35 M200.5 188.5h0.35 M253.6 182.0h0.35 M207.9 189.2h0.35 M236.2 187.2h0.35 M243.0 187.0h0.35 M200.5 190.5h0.35 M231.7 187.5h0.35 M243.0 186.2h0.35 M239.8 186.2h0.35 M199.7 188.2h0.35 M246.8 171.2h0.35 M202.9 188.5h0.35 M217.6 190.5h0.35 M205.2 188.5h0.35 M209.0 189.2h0.35 M201.9 191.0h0.35 M237.0 189.8h0.35 M209.0 189.2h0.35 M201.5 189.8h0.35 M204.8 189.8h0.35 M242.9 184.0h0.35 M200.0 188.2h0.35 M235.0 186.2h0.35 M240.9 184.2h0.35 M196.6 188.8h0.35 M235.0 185.8h0.35 M205.4 188.8h0.35 M198.9 188.8h0.35 M248.3 173.0h0.35 M198.7 188.0h0.35 M238.4 187.2h0.35 M197.5 189.2h0.35 M246.2 170.2h0.35 M249.3 179.8h0.35 M198.3 188.5h0.35 M196.8 187.8h0.35 M202.5 189.0h0.35 M236.0 186.0h0.35 M246.5 181.8h0.35 M202.4 190.8h0.35 M241.9 183.8h0.35 M248.5 178.0h0.35 M238.5 184.8h0.35 M234.0 186.2h0.35 M247.7 183.0h0.35 M201.8 188.5h0.35 M211.6 190.8h0.35 M249.7 175.8h0.35 M231.4 187.8h0.35 M203.1 189.0h0.35 M202.5 190.2h0.35 M224.5 198.0h0.35 M252.8 177.5h0.35 M201.8 188.5h0.35 M199.7 190.2h0.35 M198.8 163.8h0.35 M200.1 188.8h0.35 M247.2 180.2h0.35 M200.7 189.5h0.35 M213.2 190.8h0.35 M202.0 188.5h0.35 M218.7 153.8h0.35 M198.3 165.8h0.35 M231.8 187.8h0.35 M199.8 190.0h0.35 M243.8 183.5h0.35 M203.2 189.0h0.35 M196.8 187.8h0.35 M247.7 184.2h0.35 M196.4 189.2h0.35 M235.8 185.5h0.35 M232.5 187.0h0.35 M199.7 189.5h0.35 M229.4 188.2h0.35 M206.8 189.5h0.35 M198.7 188.5h0.35 M250.2 179.0h0.35 M198.8 188.0h0.35 M223.8 190.0h0.35 M229.5 188.5h0.35 M223.9 191.2h0.35 M217.3 150.5h0.35 M234.3 186.2h0.35 M201.0 189.5h0.35 M207.3 189.0h0.35 M205.0 188.5h0.35 M202.1 189.0h0.35 M230.8 190.0h0.35 M206.4 189.0h0.35 M203.2 188.5h0.35 M205.3 188.5h0.35 M202.5 189.0h0.35 M237.8 185.8h0.35 M203.3 189.0h0.35 M204.7 188.8h0.35" stroke="#555" stroke-width="0.35" fill="none"/>
<text x="190.40" y="136.20" font-size="6.1" text-anchor="end" fill="#1a1a1a">10<tspan font-size="3.9" dy="-2.6">5</tspan></text>
<text x="190.40" y="154.00" font-size="6.1" text-anchor="end" fill="#1a1a1a">10<tspan font-size="3.9" dy="-2.6">4</tspan></text>
<text x="190.40" y="174.70" font-size="6.1" text-anchor="end" fill="#1a1a1a">10<tspan font-size="3.9" dy="-2.6">3</tspan></text>
<text x="191.00" y="187.90" font-size="6.1" text-anchor="end" fill="#1a1a1a">0</text>
<text x="190.40" y="200.00" font-size="6.1" text-anchor="end" fill="#1a1a1a">−10<tspan font-size="3.9" dy="-2.6">3</tspan></text>
<path d="M193.40 134.30H196.00 M193.40 152.10H196.00 M193.40 172.70H196.00 M193.40 185.70H196.00 M193.40 197.80H196.00 M194.60 166.50H196.00 M194.60 162.87H196.00 M194.60 160.30H196.00 M194.60 158.30H196.00 M194.60 156.67H196.00 M194.60 155.29H196.00 M194.60 154.10H196.00 M194.60 153.04H196.00 M194.60 146.74H196.00 M194.60 143.61H196.00 M194.60 141.38H196.00 M194.60 139.66H196.00 M194.60 138.25H196.00 M194.60 137.06H196.00 M194.60 136.02H196.00 M194.60 135.11H196.00 M194.60 181.41H196.00 M194.60 189.69H196.00 M194.60 177.12H196.00 M194.60 193.69H196.00" stroke="#333" stroke-width="0.6" fill="none"/>
<rect x="193.60" y="184.60" width="2.2" height="2.2" fill="#111"/>
<text x="219.50" y="214.00" font-size="6.1" text-anchor="middle" fill="#1a1a1a">0</text>
<text x="245.40" y="214.00" font-size="6.1" fill="#1a1a1a">10<tspan font-size="3.9" dy="-2.6">4</tspan></text>
<text x="261.80" y="214.00" font-size="6.1" fill="#1a1a1a">10<tspan font-size="3.9" dy="-2.6">5</tspan></text>
<path d="M219.50 203.00V205.60 M249.20 203.00V205.60 M265.00 203.00V205.60 M253.96 203.00V204.40 M256.74 203.00V204.40 M258.71 203.00V204.40 M260.24 203.00V204.40 M261.49 203.00V204.40 M262.55 203.00V204.40 M263.47 203.00V204.40 M264.28 203.00V204.40 M225.44 203.00V204.40 M231.38 203.00V204.40 M237.32 203.00V204.40 M241.77 203.00V204.40 M244.75 203.00V204.40 M247.12 203.00V204.40 M208.93 203.00V204.40 M201.88 203.00V204.40" stroke="#333" stroke-width="0.6" fill="none"/>
<rect x="218.40" y="203.20" width="2.2" height="2.2" fill="#111"/>
<path d="M196.00 126.50V203.00H273.00" fill="none" stroke="#333" stroke-width="0.9"/>
<path d="M196.00 126.50H273.00" fill="none" stroke="#555" stroke-width="0.8"/>
<path d="M273.00 126.50V203.00" fill="none" stroke="#999" stroke-width="0.8"/>
<rect x="234.50" y="127.80" width="38.10" height="73.90" fill="none" stroke="#555" stroke-width="0.9"/>
<text x="268.20" y="137.20" font-size="6.3" text-anchor="end" fill="#1a1a1a">12.5</text>
<path d="M321.5 183.8l-5.3 .1 -7.7-.8 0-16 5.5-.1 6.2-1 4.8-.3 4.8 .2 6 .9 1 0 .7-.7 2.1-4.3 2.1-2.6 3.3-2.1 3.5-1 3-.1 3 .6 2.3 1.3 1.7 1.9 .6 1.2 .4 1.5 0 1.5 -.3 1.5 -1.5 2.7 -2.7 2.5 -3 1.4 -3.8 .7 -3.2-.1 -4.8-1.1 -1.2 0 -1.8 1.1 -2.4 2 -.8 1 -1.7 3.3 -2.1 1.9 -3.7 1.8z M320 181l-4.2 .2 -7.3-.6 0-10.6 2 .1 3.7 1 5.8 1 2.8 1 2.4 1.7 .8 1 .4 1 -.1 1 -.4 .7 -.9 .8 -1.5 .8z" fill="#000" fill-opacity="0.35" fill-rule="evenodd" stroke="none"/>
<path d="M308.5 174.5l1-.4 1.3 .1 8.1 2 .6 .3 .3 .5 -.6 .3 -1 .1 -7.2-.2 -1.5-.3 -1-.6 M308.5 173.6l2-.1 6.5 1.5 3.1 1 .8 .5 .1 .5 -.8 .8 -2.2 .3 -7.2-.3 -2.3-.6 M308.5 173l2 0 7.3 1.6 3.2 1.3 .6 .6 .2 .5 -.3 .5 -.7 .5 -2.8 .5 -7.2-.3 -2.3-.5 M308.5 172.6l2-.1 8 1.9 3 1.3 .6 .5 .3 .8 -.4 .7 -.8 .5 -3 .7 -7-.2 -2.7-.5 M308.5 172.1l2 .1 8.5 1.9 3 1.5 .7 .6 .2 .8 -.3 .8 -.8 .6 -3.3 .8 -4 0 -4.3-.3 -1.7-.3 M308.5 171.8l2 0 8.7 2 3.3 1.7 .7 .7 .2 .8 -.3 .8 -.9 .7 -3.2 1 -4 .1 -6.5-.7 M350 166l-1.8 .1 -1.2-.9 -.3-.7 .1-.7 1.1-1.3 1.1-.4 1 0 1 .3 .6 .6 .2 .8 -.2 1 -.6 .7z M308.5 171.4l2.3 .1 9 2.2 3 1.5 .8 .8 .3 1 -.2 .8 -.9 .8 -1.6 .7 -2 .4 -4 .2 -6.7-.7 M349.5 167.3l-1.7-.1 -1.6-.7 -.8-1 -.2-1.3 .4-1.2 1.2-1.3 1.7-.8 1.7-.1 1.3 .4 1 .7 .6 .9 .1 1.2 -.4 1.2 -.8 1 -1.2 .7z M308.5 171.1l2 .1 9.5 2.2 3.2 1.7 .9 .9 .3 1 -.4 1 -1 .9 -1.8 .7 -1.7 .4 -4 .2 -7-.7 M349 168l-2.1-.2 -1.7-1 -.8-1.6 .1-1.7 1-1.7 1.7-1.2 2.3-.5 2 .2 1.3 .7 .9 1 .4 1.2 -.1 1.3 -.6 1.3 -1.2 1.1 -1.4 .7z M308.5 170.8l2 .1 10.3 2.4 3 1.7 .8 1 .3 1 -.3 1 -1.1 1 -1.5 .7 -2 .5 -4.2 .3 -7.3-.7 M349.2 168.5l-2.4-.2 -2-1.1 -1-1.4 -.1-2 1.1-2 2-1.5 2.2-.7 2.5 .1 1.5 .7 1.2 1.1 .6 1.5 -.1 1.5 -.8 1.5 -1.1 1.2 -1.8 .9z M308.5 170.5l2.3 .2 10.2 2.4 1.8 .8 1.4 1 .9 1.1 .3 1 -.3 1 -1.1 1.1 -1.8 .8 -2 .5 -4.4 .3 -7.3-.6 M348.5 169l-2.5-.4 -1.1-.6 -.9-.8 -.6-1 -.3-1 0-1 .3-1.2 1.5-2 2.3-1.4 2.8-.5 1.5 .2 1.3 .4 1.4 1.1 .9 1.2 .2 1.5 -.4 1.7 -1 1.6 -1.4 1.1 -2 .8z M308.5 170.3l2.3 .1 10.4 2.4 1.8 .8 1.6 1.2 1.1 1.2 .2 1 -.4 1.2 -1 1 -1.7 .9 -2 .5 -4.8 .4 -7.5-.7 M349.8 169.3l-2.8 0 -2.5-1 -.9-.8 -.6-1 -.4-1 0-1.3 .9-2.2 1.7-1.8 2.8-1.2 2.8-.3 2 .5 1.7 1.1 1.1 1.7 .2 1.8 -.5 1.7 -1.3 1.7 -2 1.4z M308.5 170l2.3 .1 3 .9 5.2 .9 2.5 .7 2 .9 1.5 1.1 1 1.2 .4 1.2 -.3 1.2 -1.1 1.1 -1.8 .9 -2.2 .7 -4.8 .3 -7.7-.6 M348.5 169.8l-3-.5 -1.3-.7 -.9-.8 -.7-1 -.4-1.3 0-1.3 .3-1.2 1.5-2.2 1.2-1 1.6-.8 1.4-.4 1.8-.2 1.5 .1 1.5 .4 1.7 1.1 1.2 1.5 .4 1.7 -.4 2 -1.1 1.8 -1.8 1.5 -2.2 .9z M308.5 169.7l2.3 .2 3.2 .9 5.2 .8 2.6 .7 2.2 1.1 1.5 1.1 1.1 1.3 .4 1.2 -.4 1.2 -1.2 1.3 -1.6 .9 -2.6 .7 -5 .3 -7.7-.6 M349.5 170l-3.3-.1 -1.4-.6 -1.3-.8 -1-1 -.5-1 -.3-1.3 .1-1.2 .4-1.2 .7-1.3 1.1-1.2 1.2-.9 1.6-.7 1.7-.5 3.3 0 2.2 .8 1.7 1.5 .8 1.7 .1 2 -.8 2 -1.6 1.8 -2.2 1.3z M308.5 169.5l2.3 .1 3.7 1 5.5 .9 2.2 .6 2 1 1.9 1.4 1 1.3 .4 1.2 -.3 1.2 -1.1 1.3 -1.6 .9 -2.5 .8 -2.5 .4 -2.7 .1 -8.3-.7 M349.8 170.3l-1.8 .1 -1.8-.2 -1.4-.5 -1.3-.7 -1-.9 -.7-1.1 -.4-1.2 0-1.6 .4-1.4 .7-1.3 2.3-2.1 1.4-.8 1.8-.6 1.8-.2 1.7 0 2.5 .8 1.8 1.4 1.1 2 .1 2 -.7 2 -1.6 2 -2.2 1.5z M308.5 169.2l2.3 .1 3.7 1 5.5 .8 2 .5 2.5 1.2 2 1.4 1.1 1.3 .4 1.5 -.4 1.5 -1.1 1.2 -1.7 .9 -2.6 .8 -5.2 .5 -8.5-.6 M350.2 170.5l-3.4 .1 -1.8-.4 -1.2-.6 -1.3-.9 -.9-1.2 -.5-1.3 -.2-1.2 .2-1.5 .5-1.3 .9-1.2 1.3-1.3 3-1.6 1.7-.5 1.7-.1 2.8 .4 2.2 1.2 1.7 1.9 .5 2.2 -.5 2.3 -1.5 2.3 -2.2 1.6z M308.5 169l2 0 4.5 1.1 7.2 .9 2.8 1.6 2 1.5 1.1 1.4 .5 1.5 -.4 1.5 -1.2 1.3 -2 1.1 -2.5 .7 -2.7 .4 -2.8 .2 -8.5-.7 M348.5 171l-2-.1 -1.7-.4 -1.8-1 -1.2-1 -.8-1.3 -.4-1.4 0-1.6 .5-1.4 .8-1.6 1.3-1.4 1.6-1.1 1.7-.8 1.7-.5 2-.2 1.8 .2 1.8 .5 2.2 1.3 1.2 1.8 .5 2.2 -.4 2.3 -1.2 2 -2.1 1.8 -2.8 1.3z M308.5 168.7l2.3 .1 4.4 1.1 6.6 .5 1.4 .3 2.8 1.9 1.8 1.5 1 1.4 .4 1.5 -.4 1.5 -1.3 1.4 -2.3 1.2 -2.4 .8 -3 .4 -2.8 .1 -8.5-.7 M349.2 171.3l-2 0 -2-.3 -1.4-.6 -1.6-.9 -1.1-1.3 -.7-1.4 -.2-1.6 .2-1.4 .5-1.6 1-1.4 1.3-1.4 1.6-1 1.7-.8 2-.5 2-.1 2 .2 2.5 1 2 1.8 1 2.2 -.1 2.6 -1.1 2.2 -2 2.1 -2.8 1.5z M308.5 168.4l2.5 .1 4.2 1 7 .3 2.2 .4 1.1 .7 3.1 3.3 .9 1.6 .3 1.2 -.4 1.5 -1.3 1.5 -2.1 1.2 -2.8 .8 -3 .5 -3 .1 -8.7-.6 M349.5 171.5l-2 .1 -2-.2 -2-.7 -1.5-.9 -1.1-1 -.8-1.6 -.3-1.4 .1-1.6 .5-1.7 .9-1.5 1.5-1.5 1.4-1.1 2-1 2-.5 2.3-.2 2 .2 2.7 1.1 2.1 1.8 1 2.2 0 2.5 -1.1 2.5 -2 2.1 -2.4 1.5z M308.5 168.1l2.3 .1 4.4 .9 8-.1 3 .6 .8 .4 .7 .8 2.4 4.4 .3 1.8 -.4 1.5 -1.2 1.5 -2 1.2 -2.8 1 -2.8 .5 -3.4 .2 -9.3-.7 M350 171.8l-2.2 .2 -2-.2 -1.8-.5 -2-.9 -1.3-1.2 -.9-1.2 -.4-1.5 -.1-1.5 .5-2 .8-1.5 1.2-1.5 1.7-1.4 1.7-1 2-.7 2.3-.4 2.3 0 3 .9 2.2 1.6 1.4 2.2 .3 1.3 0 1.5 -.8 2.5 -2 2.5 -2.9 1.9z M308.5 167.8l2.3 0 4.7 .7 9-.5 2.3 .3 1.8 .5 1.3 .7 .6 .7 -.1 2.8 .8 3.8 -.4 1.7 -1.3 1.5 -2.3 1.4 -2.7 1 -2.7 .5 -3.8 .3 -9.5-.7 M349.2 172.3l-2.2 .1 -2.2-.4 -2-.6 -2.1-1.2 -1.2-1.2 -.6-1.2 -.2-1.6 .2-1.7 .7-2 1.2-1.7 1.4-1.6 2-1.4 2.3-1 2.3-.5 2.2-.1 2.2 .3 2.8 1.2 2.1 2.1 1 2.4 -.2 2.8 -1.3 2.8 -2.1 2 -2.7 1.6z M308.5 167.5l2-.1 4.3 .4 7.4-.9 5.3 .1 2.8 .5 2.2 .7 1.3 1 .5 1 -.3 1 -1.5 2.6 -.4 3.2 -.5 1.5 -1.5 1.7 -2.1 1.4 -3.8 1.2 -4.2 .7 -4.5 0 -7-.7 M308.5 167.1l5.5-.1 6.2-1 4.8-.3 4.8 .2 6 .9 1 0 .7-.7 2.1-4.3 2.4-2.8 1.5-1.1 2-1 1.7-.6 2.3-.3 3.5 .2 1.5 .4 1.7 .9 1.5 1.3 .9 1.2 .6 1.2 .3 1.6 -.2 2.2 -.9 2.2 -1.6 2 -2 1.6 -3 1.4 -3.6 .6 -3.4-.1 -4.8-1.2 -1.2 .2 -4.1 3.1 -.7 .9 -1.4 2.8 -1.2 1.5 -1.9 1.4 -2 .9 -3.7 1.1 -4.6 .5 -3.7 0 -7-.8 M308.5 166.6l4.5-.5 5.5-1 4.3-.5 13.4-.1 1.3-.7 2.7-3.6 2.6-2.1 3.2-1.7 3.5-.7 3.7 .3 2 .6 1.6 .9 1.2 1 1 1.3 .7 1.4 .3 1.6 -.2 2.2 -1 2.5 -1.6 2 -2.2 1.8 -2.2 1.1 -2.6 .8 -2.7 .4 -5 .1 -3 .9 -3.5 2 -3.1 3.2 -1.4 1.1 -3.3 1.7 -4.2 1.3 -4.5 .6 -4.3-.1 -6.7-.9 M308.5 165.9l8-1.6 4.3-.6 15.4-1 1.6-.7 3.2-3.1 2.8-1.8 3-1.2 3.2-.5 2 0 2 .4 1.8 .7 1.4 .8 1.4 1.2 1 1.5 .7 1.8 .3 1.4 -.2 2.3 -1 2.5 -1.8 2.2 -2.4 2 -2 1 -2.2 .9 -7.8 1.7 -3.7 1.2 -2.7 1.4 -4.8 3.3 -3 1.5 -4.8 1.4 -4.7 .6 -4.5-.1 -6.5-1 M308.5 165l5.5-1.3 4.8-.9 14-1.2 3.4-.5 2-.8 3.8-2.7 2.5-1.3 3-1 2.7-.3 2.3 .1 2 .5 2 .8 1.5 .9 1.5 1.5 1 1.4 .7 1.8 .2 2 -.1 1.8 -.4 1.7 -1.8 3 -2.9 2.6 -4 2.1 -11.4 3.5 -3 1.3 -7 3.6 -6 1.9 -4 .6 -4 .1 -3.8-.4 -4.5-.9 M308.5 163.9l4.3-1.1 4.7-.9 14-1.6 4-.6 3-.9 4.7-2.5 2.6-.9 2.4-.6 2.8-.2 2.5 .2 2 .5 2.3 1.1 1.5 1.1 1.4 1.5 1.2 1.8 .7 2 .3 2.2 -.2 2 -.5 1.8 -1 1.7 -1.2 1.5 -1.5 1.5 -2 1.4 -4.5 2.2 -10 3.1 -11 4.7 -6 1.8 -4.2 .6 -4 .1 -4.3-.5 -4-.9 M308.5 162.7l8.3-1.8 17-2.4 4.7-1.2 7.5-2.7 2.8-.5 3-.1 2.7 .3 2.5 .8 2.2 1.1 1.8 1.3 1.7 1.7 1.1 1.8 .8 2 .2 2.2 -.2 2 -.7 2 -.9 1.8 -1.5 1.9 -1.7 1.6 -2.3 1.7 -5 2.4 -10.7 3.6 -10.6 4.1 -5.7 1.6 -4.3 .5 -4.2 .2 -4.2-.4 -4.3-.9 M308.5 161.5l7.5-1.7 16.8-2.5 14-3.9 3-.4 3 0 2.7 .4 2.7 .8 2.6 1.2 2 1.5 1.7 1.9 1.2 2 .8 2.2 .2 2.2 -.2 2.3 -.7 2 -1.2 2.3 -1.6 2 -2 1.8 -2.2 1.6 -2.8 1.6 -3 1.3 -19.8 7 -6.7 1.8 -4.5 .7 -4.5 .1 -4.5-.3 -4.5-.8" fill="none" stroke="#000" stroke-width="0.5" stroke-linejoin="round"/>
<path d="M372.2 168.5h0.35 M354.3 153.0h0.35 M360.0 177.5h0.35 M358.2 149.5h0.35 M339.3 153.8h0.35 M341.5 152.5h0.35 M367.7 156.2h0.35 M346.2 151.0h0.35 M365.2 159.8h0.35 M345.8 153.2h0.35 M368.7 162.2h0.35 M366.6 152.8h0.35 M344.3 152.8h0.35 M363.4 156.0h0.35 M353.8 180.0h0.35 M360.2 152.2h0.35 M365.5 175.2h0.35 M366.8 166.0h0.35 M348.7 151.0h0.35 M340.5 153.8h0.35 M332.5 154.8h0.35 M368.8 168.5h0.35 M340.8 154.2h0.35 M347.8 150.5h0.35 M348.2 153.0h0.35 M347.0 153.0h0.35 M348.7 153.0h0.35 M365.0 172.5h0.35 M350.8 152.2h0.35 M341.3 151.5h0.35 M357.9 153.0h0.35 M342.0 154.0h0.35 M368.3 167.8h0.35 M344.4 153.5h0.35 M349.6 151.8h0.35 M368.4 166.0h0.35 M346.3 153.0h0.35 M359.8 154.2h0.35 M363.2 152.8h0.35 M356.9 151.2h0.35 M342.0 154.5h0.35 M334.5 155.8h0.35 M358.5 151.0h0.35 M354.0 152.8h0.35 M355.2 152.2h0.35 M341.7 151.0h0.35 M363.9 151.2h0.35 M365.6 173.5h0.35 M370.4 160.5h0.35 M345.3 152.5h0.35 M367.2 155.0h0.35 M353.0 148.5h0.35 M374.5 163.8h0.35 M343.0 153.2h0.35 M363.0 157.0h0.35 M353.2 151.8h0.35 M341.3 152.5h0.35 M350.1 152.2h0.35 M366.8 176.2h0.35 M343.8 152.8h0.35 M348.8 153.0h0.35 M366.3 171.8h0.35 M366.7 162.5h0.35 M350.1 152.5h0.35 M350.5 152.0h0.35 M363.6 156.5h0.35 M356.4 150.0h0.35 M349.2 152.5h0.35 M366.8 160.0h0.35 M367.5 164.2h0.35 M349.1 151.5h0.35 M354.2 149.5h0.35 M362.7 156.0h0.35 M357.5 153.8h0.35 M350.9 151.5h0.35 M352.6 153.0h0.35 M339.9 149.5h0.35 M361.7 154.5h0.35 M361.0 153.0h0.35 M328.4 154.8h0.35 M350.3 149.8h0.35 M343.4 154.0h0.35 M361.0 152.2h0.35 M348.5 153.0h0.35 M344.5 152.2h0.35 M333.9 154.0h0.35 M362.8 153.2h0.35 M344.2 153.8h0.35 M346.9 149.2h0.35 M343.1 151.5h0.35 M342.5 149.5h0.35 M345.7 152.5h0.35 M340.7 153.0h0.35 M343.3 150.2h0.35 M341.8 154.2h0.35 M344.5 153.0h0.35 M348.8 153.0h0.35 M359.2 153.5h0.35 M367.3 167.0h0.35 M356.0 153.5h0.35 M357.7 149.8h0.35 M363.0 150.5h0.35 M359.1 154.5h0.35 M357.5 152.0h0.35 M367.8 155.2h0.35 M353.9 153.0h0.35 M344.0 152.5h0.35 M367.2 155.0h0.35 M352.2 151.0h0.35 M358.8 151.8h0.35 M342.1 152.0h0.35 M357.7 152.5h0.35 M370.8 162.8h0.35 M334.7 156.8h0.35 M363.8 157.0h0.35 M362.8 153.8h0.35 M361.4 146.0h0.35 M360.0 151.8h0.35 M349.2 153.0h0.35 M366.5 162.0h0.35 M356.3 152.2h0.35 M347.4 153.2h0.35 M364.7 158.2h0.35 M347.5 152.2h0.35 M360.8 155.2h0.35 M358.3 153.5h0.35 M360.0 153.0h0.35 M361.6 153.8h0.35 M343.5 153.0h0.35 M344.6 150.2h0.35 M367.7 161.8h0.35 M364.5 175.5h0.35 M363.8 157.5h0.35 M352.1 152.2h0.35 M332.8 154.0h0.35 M334.7 155.8h0.35 M344.2 149.2h0.35 M364.1 156.0h0.35 M345.7 149.8h0.35 M366.7 168.0h0.35 M352.9 151.5h0.35 M364.0 173.8h0.35 M348.3 151.5h0.35 M342.0 153.2h0.35 M368.9 157.2h0.35 M353.1 181.0h0.35 M335.7 154.8h0.35 M365.0 157.5h0.35 M349.0 152.5h0.35 M362.0 155.2h0.35 M346.6 152.5h0.35 M368.7 166.0h0.35 M337.8 155.8h0.35 M343.7 152.5h0.35 M336.8 156.0h0.35 M352.3 149.2h0.35 M368.4 165.2h0.35 M342.1 154.5h0.35 M362.6 152.0h0.35 M344.0 154.0h0.35 M336.7 156.0h0.35 M360.5 153.8h0.35 M368.0 160.8h0.35 M357.7 152.5h0.35 M355.9 152.0h0.35 M361.7 152.2h0.35 M356.6 151.8h0.35 M338.5 153.0h0.35 M336.0 155.5h0.35 M370.0 159.8h0.35 M365.3 153.8h0.35 M361.7 156.0h0.35 M361.5 175.8h0.35 M369.7 154.0h0.35 M345.3 149.8h0.35 M358.9 153.8h0.35 M335.8 147.5h0.35 M360.8 154.2h0.35 M317.8 190.2h0.35 M345.0 153.0h0.35 M370.3 166.5h0.35 M361.2 147.2h0.35 M364.2 174.2h0.35 M363.3 150.8h0.35 M364.8 157.8h0.35 M346.5 152.0h0.35 M349.6 152.5h0.35 M347.1 150.5h0.35 M359.0 148.2h0.35 M363.0 155.2h0.35 M339.7 155.2h0.35 M355.8 150.2h0.35 M357.7 153.8h0.35 M343.5 151.8h0.35 M367.3 161.8h0.35 M348.4 150.5h0.35 M346.3 153.5h0.35 M369.3 161.0h0.35 M343.4 153.2h0.35 M343.1 154.2h0.35 M368.0 156.5h0.35 M337.6 154.8h0.35 M367.7 157.0h0.35 M341.2 151.5h0.35 M367.9 163.2h0.35 M349.7 153.0h0.35 M367.3 164.0h0.35 M360.7 154.5h0.35 M361.2 155.0h0.35 M366.4 170.5h0.35 M354.2 150.0h0.35 M367.9 159.5h0.35 M342.4 152.0h0.35 M363.5 157.0h0.35 M341.4 151.5h0.35 M357.2 152.8h0.35 M352.8 150.5h0.35 M362.7 156.5h0.35 M342.7 152.0h0.35 M359.9 152.8h0.35 M336.8 156.2h0.35 M362.3 152.2h0.35 M366.4 160.8h0.35 M354.1 153.0h0.35 M366.6 168.8h0.35 M335.8 155.8h0.35 M344.9 183.8h0.35 M341.3 154.8h0.35 M352.8 152.0h0.35 M329.7 153.2h0.35 M368.4 168.0h0.35 M367.5 165.2h0.35 M359.4 151.5h0.35 M341.7 151.8h0.35 M363.5 151.5h0.35 M359.0 153.8h0.35 M338.0 151.2h0.35 M334.5 154.8h0.35 M356.1 152.0h0.35 M330.1 157.8h0.35 M355.9 151.5h0.35 M368.0 165.5h0.35 M341.3 152.2h0.35 M350.3 148.2h0.35 M354.0 150.8h0.35 M364.8 156.8h0.35 M340.7 151.0h0.35 M359.8 151.5h0.35 M337.3 186.0h0.35 M358.8 152.5h0.35 M342.5 154.0h0.35 M346.0 153.2h0.35 M357.2 152.8h0.35 M368.7 161.8h0.35 M354.9 148.2h0.35 M344.7 152.5h0.35 M351.3 152.8h0.35 M336.3 154.5h0.35 M339.5 155.0h0.35 M361.7 144.8h0.35 M344.7 150.0h0.35 M351.8 151.5h0.35 M343.5 152.2h0.35 M364.7 155.5h0.35 M337.1 155.2h0.35 M366.7 165.8h0.35 M352.2 152.5h0.35 M360.5 152.5h0.35 M355.1 150.5h0.35 M369.1 161.5h0.35 M366.4 162.0h0.35 M365.8 171.8h0.35 M361.2 155.0h0.35 M366.0 160.5h0.35 M361.2 153.2h0.35 M364.4 157.8h0.35 M360.8 152.0h0.35 M335.7 155.5h0.35 M337.5 155.5h0.35 M344.7 153.8h0.35 M364.6 157.8h0.35 M360.1 154.2h0.35 M358.0 151.5h0.35 M360.1 148.8h0.35 M360.5 152.0h0.35 M340.7 151.2h0.35 M366.5 162.8h0.35 M340.1 153.2h0.35 M340.3 155.0h0.35 M368.4 165.2h0.35 M365.3 156.0h0.35 M366.7 159.2h0.35 M357.8 153.2h0.35 M337.4 155.5h0.35 M365.8 171.8h0.35 M347.8 152.8h0.35 M362.5 154.5h0.35 M366.2 171.0h0.35 M353.0 151.5h0.35 M343.1 149.5h0.35" stroke="#555" stroke-width="0.35" fill="none"/>
<path d="M309 175L318 175.5" stroke="#fff" stroke-width="1.4" stroke-opacity="0.9" fill="none" stroke-linecap="round"/><circle cx="320.5" cy="177" r="0.8" fill="#fff" fill-opacity="0.8"/><ellipse cx="349.3" cy="163.8" rx="4" ry="2.6" transform="rotate(-15 349.3 163.8)" fill="#fff" fill-opacity="0.85"/><circle cx="344.8" cy="166.5" r="0.9" fill="#fff" fill-opacity="0.7"/>
<text x="302.40" y="136.20" font-size="6.1" text-anchor="end" fill="#1a1a1a">10<tspan font-size="3.9" dy="-2.6">5</tspan></text>
<text x="302.40" y="154.00" font-size="6.1" text-anchor="end" fill="#1a1a1a">10<tspan font-size="3.9" dy="-2.6">4</tspan></text>
<text x="302.40" y="174.70" font-size="6.1" text-anchor="end" fill="#1a1a1a">10<tspan font-size="3.9" dy="-2.6">3</tspan></text>
<text x="303.00" y="187.90" font-size="6.1" text-anchor="end" fill="#1a1a1a">0</text>
<text x="302.40" y="200.00" font-size="6.1" text-anchor="end" fill="#1a1a1a">−10<tspan font-size="3.9" dy="-2.6">3</tspan></text>
<path d="M305.40 134.30H308.00 M305.40 152.10H308.00 M305.40 172.70H308.00 M305.40 185.70H308.00 M305.40 197.80H308.00 M306.60 166.50H308.00 M306.60 162.87H308.00 M306.60 160.30H308.00 M306.60 158.30H308.00 M306.60 156.67H308.00 M306.60 155.29H308.00 M306.60 154.10H308.00 M306.60 153.04H308.00 M306.60 146.74H308.00 M306.60 143.61H308.00 M306.60 141.38H308.00 M306.60 139.66H308.00 M306.60 138.25H308.00 M306.60 137.06H308.00 M306.60 136.02H308.00 M306.60 135.11H308.00 M306.60 181.41H308.00 M306.60 189.69H308.00 M306.60 177.12H308.00 M306.60 193.69H308.00" stroke="#333" stroke-width="0.6" fill="none"/>
<rect x="305.60" y="184.60" width="2.2" height="2.2" fill="#111"/>
<text x="328.80" y="214.00" font-size="6.1" text-anchor="middle" fill="#1a1a1a">0</text>
<text x="357.40" y="214.00" font-size="6.1" fill="#1a1a1a">10<tspan font-size="3.9" dy="-2.6">4</tspan></text>
<text x="373.80" y="214.00" font-size="6.1" fill="#1a1a1a">10<tspan font-size="3.9" dy="-2.6">5</tspan></text>
<path d="M328.80 203.00V205.60 M361.20 203.00V205.60 M377.00 203.00V205.60 M365.96 203.00V204.40 M368.74 203.00V204.40 M370.71 203.00V204.40 M372.24 203.00V204.40 M373.49 203.00V204.40 M374.55 203.00V204.40 M375.47 203.00V204.40 M376.28 203.00V204.40 M335.28 203.00V204.40 M341.76 203.00V204.40 M348.24 203.00V204.40 M353.10 203.00V204.40 M356.34 203.00V204.40 M358.93 203.00V204.40 M319.44 203.00V204.40 M313.20 203.00V204.40" stroke="#333" stroke-width="0.6" fill="none"/>
<rect x="327.70" y="203.20" width="2.2" height="2.2" fill="#111"/>
<path d="M308.00 126.50V203.00H385.40" fill="none" stroke="#333" stroke-width="0.9"/>
<path d="M308.00 126.50H385.40" fill="none" stroke="#555" stroke-width="0.8"/>
<path d="M385.40 126.50V203.00" fill="none" stroke="#999" stroke-width="0.8"/>
<path d="M385.60 126.50V203.00" fill="none" stroke="#8a8a8a" stroke-width="1.3"/>
<path d="M339.60 203.00V126.50H385.60" fill="none" stroke="#3a3a3a" stroke-width="1.0"/>
<text x="380.60" y="137.20" font-size="6.3" text-anchor="end" fill="#1a1a1a">36.3</text>
<path d="M445.2 176.5l-5.7 .2 -7.7-.1 -2.6-.2 -2-.5 -1.9-.9 -.8-1 -.2-1.5 .4-2.5 .6-1.2 .9-1.1 1.3-.8 1.5-.5 3-.1 4 1.1 .8 0 .4-.4 1.2-2.8 2.3-2.2 2.3-1.3 2.5-.8 2.3-.3 3.4 0 3.1-4.6 1.7-1.4 2-.9 2.5-.5 2.3 .2 2.4 1 2 1.6 1.5 1.8 1.9 3 1.1 3 .1 7 -.4 1 -.8 1 -3.1 2.3 -1.5 .7 -1.5 .5 -1.5 .1 -4.5-.3z M454.1 166.8l.2-.3 -.8-.7 -.5-.2 -.5 .4 .3 .6z M443.8 175.3l-5-.1 -9.3-.7 -1.5-.7 -.8-.8 -.5-1.2 0-1.3 .5-1 .8-.7 1-.5 1.2-.3 2.3 .4 2.5 1.9 1.2 .3 9.3-1.5 13-.6 .6-.5 -.1-.5 -3.5-2.7 -1-1.3 -.5-1.3 -.3-1.4 .1-1.3 .4-1.5 .6-1.2 1.1-1.3 1.3-1 1.6-.6 1.7-.3 1.5 .1 1.8 .5 1.4 .9 1.2 1.1 .9 1.3 .8 1.7 1 3.6 .4 2 -.1 2 -.6 2.4 -.5 1.3 -.9 1 -1.6 1 -1.8 .5 -4.3 .2 -9.9 1.6z" fill="#000" fill-opacity="0.45" fill-rule="evenodd" stroke="none"/>
<path d="M463.8 164.6l-1.3 0 -1.9-.6 -1.4-.8 -1.1-1 -.5-1 -.1-1.2 .4-1.2 .9-1 1.2-.6 1.5 0 1.4 .6 1.1 1 .8 1.7 .3 1.7 -.4 1.6z M464.5 165.6l-1.5 0 -2.8-.9 -1.8-.9 -1.2-1.2 -.6-1.4 -.1-1.4 .6-1.6 1.1-1.2 1.8-.7 1.8 0 1.6 .7 1.2 1.2 .9 1.8 .3 2.2 -.3 2.1 -.5 .9z M449 172.8l-4.2 .1 -1-.2 -.5-.2 0-.3 1.9-.7 2.8-.4 3 0 1.5 .4 0 .3 -1 .4z M465 167l-1 0 -5-2.2 -1.5-1 -.9-1 -.7-1.8 .1-1.7 .7-1.5 1.3-1.3 1.8-.8 2.1 .1 1.9 .8 1.4 1.4 .9 2.2 .3 2.6 -.4 2.6 -.5 1.1z M448.8 173.3l-5.8 .1 -1.7-.4 -.4-.5 .5-.5 1.3-.5 4.8-.8 5-.1 1.5 .2 1 .4 -.2 .6 -1 .5z M464.2 169.5l-.6-.3 -.6-1.4 -.6-.8 -4.9-2.6 -1.1-1.2 -.7-1.2 -.3-2 .5-1.8 1.1-1.5 1.8-1.1 2.2-.4 2.2 .6 1.8 1.3 1.2 1.9 .7 3 -.2 4 -.9 2.4 -.8 .8z M447 173.8l-5.5-.1 -1.9-.5 -.5-.4 .7-.8 2-.7 6-1 6.2 0 2.2 .4 .7 .5 -.8 .8 -2.2 .8 -3.1 .6z M431.5 172l-.7 .2 -.8-.2 -.4-.5 .1-.7 .8-.5 .7 .2 .6 .7z M464 170.8l-1.2 .1 -1.1-.4 .5-2 -.2-1 -.8-.7 -4.1-2.3 -1.1-1.2 -.7-1.3 -.2-2.2 .6-2 1.3-1.6 2-1.1 2.5-.2 2.3 .7 1.8 1.6 1.2 2.3 .6 3.7 -.2 3.8 -1.2 2.6 -.8 .7z M432 172.8l-1.5 .1 -1.3-.6 -.5-1.1 .4-1 .7-.4 .7-.1 .7 .1 .9 .4 .5 .8 .2 .8 -.1 .4z M447.5 174l-4 .1 -3.3-.1 -2-.5 -.4-.3 -.3-.4 .9-.8 2.4-.8 3.2-.7 3.8-.5 7.2 0 3.1 .5 .8 .5 -.8 .8 -2.9 1 -3.7 .7z M447.2 174.3l-4.4 .1 -3.6-.2 -2.7-.7 -.7-.5 .1-.2 1.2-.8 2.1-.8 5.8-1.2 6-.4 8 .4 1.5-.4 .9-.8 .1-.8 -.2-.5 -.9-.7 -3.4-2 -1-.9 -.7-1.1 -.6-2 .3-2.3 .7-1.3 1.1-1.2 1.2-.8 1.5-.5 1.5-.2 1.5 .3 1.5 .6 1.2 1 1.1 1.4 .8 1.7 .8 4.7 0 1.8 -.3 1.5 -.6 1.6 -.8 1.2 -1 .7 -1.2 .5 -3.8 .2 -6.2 1.7z M432.8 173.3l-2 .1 -1.8-.6 -.8-1.3 .2-1.3 .8-.7 1-.3 1 .1 1 .5 1 1 .7 1.4 -.1 .6z M447 174.5l-6.2 .1 -2.8-.2 -3.5-.7 -4.3 0 -1.2-.4 -.8-.7 -.4-.8 0-1 .3-.8 .7-.6 1.7-.6 1.7 .5 2.3 2.2 1 .3 6-1.4 4.7-.7 5-.4 7 .2 1.6-.2 1-.8 -.2-1 -4.1-2.7 -.9-1 -.7-1.3 -.5-2.3 .5-2.2 .8-1.2 1.1-1.1 1.4-.9 1.6-.5 1.4 0 1.6 .3 1.4 .6 1.3 1 1.1 1.6 .8 1.7 .9 5.3 0 1.7 -.4 1.7 -.6 1.6 -.8 .9 -1.2 .8 -1.3 .4 -3.8 .3 -7.2 1.6z M446.2 174.8l-6 0 -5.7-.6 -4.3-.1 -1.2-.4 -1-.8 -.6-.9 0-1.2 .3-.8 .6-.8 1.9-.7 2 .4 2.5 2.1 1.1 .3 6-1.2 4.4-.7 5.6-.3 6.2 .1 1.5-.3 .7-.7 -.1-.7 -3.7-2.5 -1-1 -.7-1.2 -.5-2.6 .6-2.4 .8-1.3 1.2-1.1 1.2-.8 1.8-.5 1.7 0 1.5 .3 1.5 .7 1.3 1 1 1.4 .8 1.7 1.1 5.6 0 1.7 -.5 2.3 -.6 1.2 -.8 1 -1.3 .9 -1.5 .4 -4 .3 -7.5 1.5z M445.2 175l-5.4 .1 -10-.8 -1.4-.5 -.9-.9 -.5-1.1 .1-1.3 .4-.9 .7-.7 2-.6 1.3 .1 1 .3 2.3 1.9 1.2 .3 6.8-1.3 3.7-.4 5-.3 6 0 1.5-.2 .6-.5 0-.7 -3.6-2.5 -1-1.2 -.7-1.3 -.4-2.5 .2-1.2 .7-1.6 1-1.3 1.2-1 1.5-.7 1.7-.4 1.8 .1 1.5 .4 1.5 .9 1.2 1 .8 1.3 .9 1.7 1.2 5.6 0 1.7 -.6 2.5 -.5 1.2 -.9 1 -1.3 .9 -1.8 .6 -4 .2 -8 1.5z M443.8 175.3l-5-.1 -9.3-.7 -1.5-.7 -.8-.8 -.5-1.2 0-1.3 .5-1 .8-.7 1-.5 1.2-.3 2.3 .4 2.5 1.9 1.2 .3 9.3-1.5 13-.6 .6-.5 -.1-.5 -3.5-2.7 -1-1.3 -.5-1.3 -.3-1.4 .1-1.3 .4-1.5 .6-1.2 1.1-1.3 1.3-1 1.6-.6 1.7-.3 1.5 .1 1.8 .5 1.4 .9 1.2 1.1 .9 1.3 .8 1.7 1 3.6 .4 2 -.1 2 -.6 2.4 -.5 1.3 -.9 1 -1.6 1 -1.8 .5 -4.3 .2 -9.9 1.6z M446.8 175.3l-7.3 .2 -9.7-.6 -1.7-.7 -1.1-.9 -.6-1.3 0-1.5 .5-1 .9-.9 1-.5 1.4-.3 2.3 .3 2.6 1.9 1.1 .3 9.3-1.5 12.6-.6 .4-.2 0-.5 -3.3-2.7 -.9-1.3 -.6-1.3 -.2-1.4 0-1.3 .4-1.3 .7-1.4 1-1.3 1.4-1.1 1.2-.5 1.8-.4 1.5-.1 1.7 .4 1.6 .7 1.2 1 1.2 1.5 .9 1.8 1.6 5.2 .1 2 -.5 2.8 -.5 1.4 -.7 1 -1.9 1.4 -2 .7 -4.7 .2 -6.7 1.1z M445.5 175.5l-6.7 .1 -7.6-.3 -2-.3 -1.6-.8 -1-1 -.5-1.2 .1-1.5 .4-1 .9-1 1.3-.7 1.2-.2 2.5 .3 2.8 1.9 1.2 .3 8.7-1.5 11-.3 1.6-.3 .2-.2 -.1-.6 -3-2.4 -1-1.6 -.5-1.2 0-2.8 .4-1.4 .7-1.3 1.1-1.3 1.4-1 1.5-.6 1.7-.3 1.8 0 1.8 .5 1.4 .9 1.3 1.1 1.1 1.4 .8 1.6 1.2 3.4 .5 2 -.1 2 -.4 3 -.5 1.3 -.9 1 -2 1.4 -2 .6 -4.9 .3 -7.3 1.1z M443.8 175.8l-12-.3 -3-.4 -1.6-.7 -1-1.2 -.4-1.4 .2-1.6 .5-1 1-1 1.3-.6 1.4-.3 2.6 .4 2.7 1.8 1 .3 8.7-1.4 11.8-.5 .4-.1 0-.6 -3-2.7 -.8-1.3 -.5-1.4 0-1.8 .3-1.5 .5-1.3 1-1.4 1.3-1.3 1.6-.8 1.7-.5 1.5-.1 1.8 .2 1.4 .6 1.6 .9 1.1 1.2 1.1 1.5 .9 2 1 2.7 .4 2 0 2 -.5 3.3 -.5 1.3 -1.1 1.1 -2 1.3 -2 .6 -5 .2 -8 1.2z M446.2 175.8l-7.7 .2 -7.3-.3 -2.2-.3 -1.8-.7 -1-.9 -.6-1.6 0-1.7 .6-1.3 .9-1 1.1-.6 1.8-.4 1.5 0 1.3 .3 2.8 1.7 1.2 .4 8-1.5 11.8-.3 .4-.6 -2.8-2.7 -.8-1.3 -.5-1.4 -.1-1.6 .3-1.4 1.4-2.8 1-1.1 1.5-1 1.8-.7 1.4-.3 1.6 .1 1.7 .4 1.5 .7 1.5 1.1 1.2 1.6 1 1.7 1.4 3.3 .5 2 0 2 -.4 3.4 -.4 1.3 -.8 1 -2 1.6 -2.5 .9 -5.5 .2 -6.5 1z M444.8 176l-5.3 .1 -7.5-.2 -3.5-.4 -1.6-.7 -1.1-1 -.5-1.6 .2-2 .6-1.2 .9-.9 1.2-.7 1.8-.4 1.5 0 1.5 .4 2.8 1.6 1 .3 2-.3 6-1.5 8.7 .3 2.7-.3 .3-.3 -.1-.2 -2.7-2.8 -.6-1 -.5-1.4 0-1.6 .3-1.4 .7-1.8 1.1-1.5 1.3-1.2 1.5-.9 1.7-.5 1.6-.1 1.4 .1 1.8 .5 1.8 1 1.1 1.1 1.2 1.5 1 2 1.2 2.8 .5 2 .1 2 -.5 4 -.4 1 -1 1.1 -2.5 1.7 -2.3 .7 -5.2 .1 -7.5 1z M445.2 166.1l-.7 0 -.7-.3 -.1-.6 .3-.6 1.5-.8 1 0 .5 .2 .2 .5 -.2 .5 -.8 .6z M442.2 176.3l-11-.2 -3.4-.7 -1.6-.8 -.8-1.1 -.3-1.7 .2-1.8 .7-1.2 1-1 1.2-.6 1.6-.4 1.7 0 1.5 .3 3.5 1.9 1 0 1.8-.5 1.9-1 .1-2.3 1.1-1.4 1.8-1.2 2.3-.5 2 .1 1.3 .8 -.2 1.5 -1.4 2 .2 .5 3 .5 4.1 0 .5-.3 0-.2 -3-3.2 -.6-1.3 -.1-1 .1-1.5 .6-2 .9-1.8 1-1.2 1.3-1 1.6-.8 1.7-.5 1.7-.1 1.8 .3 1.8 .7 1.4 1 1.2 1.2 1.2 1.7 1.5 3 .7 1.7 .3 1.8 -.3 5.8 -.6 1.2 -1.4 1.4 -2.3 1.5 -2.3 .7 -5.2-.1 -8.5 1.2z M445.2 176.3l-5.7 .1 -7.5-.1 -2.2-.2 -2-.4 -1.8-.9 -.9-1 -.3-1.8 .3-2 .7-1.2 1-1 1.2-.7 1.8-.5 1.7 0 1.5 .3 3.5 1.7 1 0 1.2-.4 .8-.7 .3-2 .9-1.5 1.8-1.5 2.3-1 1.7-.4 1.7 0 3.3 .9 1.1-3.8 1.3-2.2 1.9-1.9 2.2-1.2 2.5-.4 2.3 .2 2.2 .9 2.1 1.6 1.5 2 1.5 2.8 1.2 3.2 .1 1.8 -.2 4.5 -.3 1 -1 1.3 -2.9 2.1 -2.5 .9 -6-.1 -6.7 1z M455.2 167.2l.3-.2 -.2-.5 -3.5-3.3 -1.9 3 .1 .6 1.2 .4z M443 176.5l-11.8-.1 -2.2-.2 -1.8-.5 -1.7-.9 -.7-1 -.2-1.8 .3-2 .6-1.2 1.3-1.2 1.2-.7 1.8-.4 3 .1 3.7 1.6 1.2-.2 .5-.5 .8-2.7 2-2.2 2.2-1.3 2.6-.8 2.2-.2 3.2 .2 .6-.6 1.1-2.7 1.2-1.7 1.7-1.6 2.2-1.1 2.5-.5 2.5 .3 2.2 1 2.3 1.9 1.3 1.7 1.9 3.3 .9 3 -.1 6.3 -.6 1.2 -1.2 1.2 -2.7 1.9 -2.8 1 -5.4-.2 -9.6 1.2z M454.8 167l.2-.2 -.3-.6 -1.9-1.4 -.8 .1 -.7 1.1 0 .5 .7 .4 1.8 .2z M445.2 176.5l-5.7 .2 -7.7-.1 -2.6-.2 -2-.5 -1.9-.9 -.8-1 -.2-1.5 .4-2.5 .6-1.2 .9-1.1 1.3-.8 1.5-.5 3-.1 4 1.1 .8 0 .4-.4 1.2-2.8 2.3-2.2 2.3-1.3 2.5-.8 2.3-.3 3.4 0 3.1-4.6 1.7-1.4 2-.9 2.5-.5 2.3 .2 2.4 1 2 1.6 1.5 1.8 1.9 3 1.1 3 .1 7 -.4 1 -.8 1 -3.1 2.3 -1.5 .7 -1.5 .5 -1.5 .1 -4.5-.3z M454.1 166.8l.2-.3 -.8-.7 -.5-.2 -.5 .4 .3 .6z M443.2 176.8l-12.2-.1 -2.5-.3 -2-.5 -1.7-.9 -.7-1 0-1.8 .4-2.4 .6-1 .9-1.1 1.2-.8 1.3-.5 2.7-.4 4 .7 .8-.1 1.7-2.6 1.1-1.2 2-1.5 2.2-1.2 3.8-1 4.4-.3 3.3-4.2 1.5-1.2 1.8-.8 2.7-.5 2.7 .3 2.6 1.2 2.1 1.9 2.9 4.3 1.1 3 .3 7 -.4 1 -1.2 1.2 -3.6 2.6 -2.8 1 -6-.4 -9 1.1z M439 177l-9-.2 -2.8-.5 -2.2-.8 -1-.7 -.4-1 .5-3.3 .6-1.5 .7-1 1.1-.9 2.3-1 2-.2 3.7 .3 .9-.2 2.5-3.2 2.9-2.2 2.4-1.2 2.6-.7 5.4-.5 2.7-3.2 1.3-1.2 2-1.1 1.8-.6 1.8-.1 1.7 .1 1.7 .5 1.6 .8 2.3 2.1 3 4.3 .7 1.4 .4 1.8 0 4.2 .3 2.8 -.3 .8 -.9 1 -4.3 3.1 -1.8 .7 -1.4 .3 -5.3-.5 -11 1.2z M443.5 177l-12.5 0 -3-.3 -2.2-.6 -1.7-.9 -.9-1 0-.7 .9-3.7 1.3-2 2.1-1.4 2.3-.6 4.2 0 .9-.3 3.1-3.6 1.8-1.3 2.2-1.2 4-1.3 4.8-.4 .7-.2 3.5-3.7 1.5-.9 2-.8 1.7-.3 1.8 .1 1.8 .4 1.7 .8 2.6 2.1 3 4 .8 1.6 .5 1.7 .1 4.7 .4 2.8 -.3 .8 -1 1 -3.8 2.9 -2 1 -1.8 .4 -5.8-.6 -9.2 1.1z M440.2 177.3l-10.4-.2 -2.8-.5 -2.8-.9 -1-.7 -.5-1 1.4-4.8 1.4-1.8 2.3-1.3 2-.5 3.4-.1 1-.3 3.3-3.5 3.5-2.3 2.2-1 2.6-.8 5.7-.7 3.7-3.5 2-1 1.8-.5 1.8-.2 1.7 .2 1.7 .5 1.6 .7 2.4 2.1 3.4 4.3 1 3 .1 4.7 .7 2 0 .8 -.4 .8 -1 1 -5 3.5 -1.8 .8 -1.4 .3 -5.8-.7 -10.5 1.2z M443.5 177.3l-10.5 .1 -4.5-.3 -2.5-.5 -2.2-.8 -1.2-.8 -.4-1 1.9-5 .8-1.2 1.3-1.1 2.6-1.1 4.7-.6 .8-.5 2.7-3 3.5-2.4 2.7-1.2 2.6-.8 5.7-.7 3.5-3 2.8-1.4 1.7-.4 2 0 1.7 .3 1.8 .7 2.7 1.9 3.7 4.3 1.3 3 .2 2 0 3.2 .9 2.2 0 .8 -1.1 1.5 -4.9 3.6 -2 1.1 -2 .4 -1.6 0 -2.4-.6 -1.8-.2z M440.8 177.5l-9.3 0 -3.7-.4 -2.6-.5 -2.1-.8 -1.1-.8 -.3-1 1.2-2.2 1.3-3.3 .8-1 1.2-1 2.6-1 4.2-.8 .7-.5 3.1-3.2 3.7-2.4 2.7-1.2 2.6-.8 6-.8 3.4-2.7 2.6-1.2 1.4-.3 2-.1 2.3 .3 1.5 .6 2.9 2.1 2.9 3 1.1 1.5 1.1 3 .2 5.2 1.1 2 0 .8 -1.2 1.5 -5.9 4.2 -2 .9 -1.4 .3 -1.6-.1 -3-.7 -1.4-.1 -10 1.1z M443.8 177.5l-10.6 .2 -5-.3 -3.2-.7 -2.2-.8 -1.4-.9 -.3-1 1.7-2.5 1.3-3.3 .9-1 1.2-.9 2-.9 4.6-1 4-4 2.2-1.5 2.2-1.2 5-1.7 5.8-.9 3.2-2.2 2.3-1.1 2-.4 1.7-.1 1.8 .3 1.8 .6 3 1.9 3.9 4.1 .9 1.8 .5 1.8 .3 5.2 1.3 2 .1 1 -.9 1.2 -5.9 4.2 -2.2 1.3 -2 .4 -1.6 0 -3-.9 -1.4-.1z M441.8 177.8l-9.8 0 -4.8-.4 -3.2-.8 -2-.7 -1.2-.9 -.2-1 1.9-2.5 1.1-2.7 1.4-1.8 2.2-1.4 5-1.5 3.3-3.3 3-2.2 3-1.6 3.3-1.2 3-.7 4.4-.6 3.6-2.1 2-.8 3.4-.4 1.8 .2 2 .7 3 2 2.8 2.7 1.2 1.4 .9 1.8 .5 1.8 .3 5.2 1.5 2 .1 1 -1 1.2 -6.5 4.7 -2 1 -2.3 .5 -1.5-.1 -2.8-.8 -1.7-.2 -9.7 1.1z M420.5 173.2l1.7-1.7 1.3-3 1.5-1.7 2.2-1.4 4.4-1.4 3.9-3.8 3.7-2.6 5.3-2.3 3.7-1 4.3-.5 4.5-2.2 2.8-.6 2.7 .2 2.7 .9 2.6 1.6 3.7 3.3 1.1 1.8 .8 2 .3 2 .2 4 .4 .7 1.3 1.3 .3 .7 -.1 .7 -1 1 -3.6 2.3 -3.4 2.6 -2 1 -2 .5 -1.8 0 -3.2-1 -1.3-.1 -14.7 1.4 -12.3 0 -3-.3 -3.5-.7 -2.2-.8 -1.3-.7" fill="none" stroke="#000" stroke-width="0.5" stroke-linejoin="round"/>
<path d="M479.5 180.8h0.35 M440.9 181.0h0.35 M452.3 177.5h0.35 M491.6 163.5h0.35 M470.7 151.2h0.35 M476.5 169.8h0.35 M473.8 172.2h0.35 M469.7 150.8h0.35 M462.6 151.0h0.35 M439.7 194.0h0.35 M469.7 178.8h0.35 M482.2 161.0h0.35 M471.4 174.2h0.35 M464.2 186.5h0.35 M428.9 183.0h0.35 M465.2 181.5h0.35 M486.8 170.5h0.35 M470.0 177.0h0.35 M422.7 179.2h0.35 M454.4 151.8h0.35 M442.6 178.0h0.35 M431.4 163.0h0.35 M435.0 182.5h0.35 M448.6 152.0h0.35 M437.7 179.2h0.35 M439.0 182.2h0.35 M474.8 160.8h0.35 M459.2 182.8h0.35 M446.4 182.2h0.35 M470.6 148.5h0.35 M450.0 179.5h0.35 M461.7 142.8h0.35 M457.7 177.2h0.35 M476.4 174.2h0.35 M473.8 159.5h0.35 M422.1 165.8h0.35 M434.4 181.0h0.35 M474.3 165.2h0.35 M440.4 156.5h0.35 M426.5 179.5h0.35 M484.5 175.0h0.35 M454.0 180.8h0.35 M428.4 161.2h0.35 M484.0 165.2h0.35 M455.7 180.8h0.35 M467.2 177.2h0.35 M465.8 177.2h0.35 M433.6 161.2h0.35 M461.0 148.0h0.35 M466.7 184.0h0.35 M476.9 153.0h0.35 M469.7 181.5h0.35 M479.1 168.2h0.35 M444.0 185.0h0.35 M481.5 171.2h0.35 M449.5 184.2h0.35 M443.3 178.0h0.35 M422.8 161.5h0.35 M440.7 180.0h0.35 M466.7 179.0h0.35 M447.1 179.2h0.35 M468.2 176.2h0.35 M473.6 160.5h0.35 M450.7 178.8h0.35 M426.6 154.2h0.35 M458.2 179.2h0.35 M443.2 178.8h0.35 M479.3 169.0h0.35 M452.9 180.8h0.35 M473.5 159.0h0.35 M475.9 170.5h0.35 M452.0 180.8h0.35 M422.3 169.5h0.35 M458.7 179.5h0.35 M446.3 178.5h0.35 M443.7 184.5h0.35 M449.1 189.2h0.35 M443.8 179.8h0.35 M443.5 181.0h0.35 M436.4 156.8h0.35 M458.0 179.5h0.35 M439.7 181.8h0.35 M477.2 171.5h0.35 M438.4 178.0h0.35 M467.7 176.8h0.35 M432.4 185.5h0.35 M475.7 165.2h0.35 M481.3 171.5h0.35 M461.2 142.2h0.35 M482.8 173.0h0.35 M434.7 178.8h0.35 M441.2 184.2h0.35 M447.9 183.8h0.35 M477.8 165.8h0.35 M463.1 188.5h0.35 M486.7 158.5h0.35 M444.3 181.2h0.35 M435.7 157.0h0.35 M484.2 171.8h0.35 M449.8 152.5h0.35 M432.4 182.0h0.35 M456.8 181.2h0.35 M439.2 156.0h0.35 M471.0 177.5h0.35 M477.3 162.2h0.35 M467.2 177.0h0.35 M438.3 178.0h0.35 M476.3 154.0h0.35 M454.5 182.0h0.35 M477.4 163.2h0.35 M474.1 175.0h0.35 M465.5 151.5h0.35 M429.7 144.5h0.35 M476.5 159.0h0.35 M481.2 166.5h0.35 M435.5 184.0h0.35 M438.0 182.8h0.35 M469.9 176.8h0.35 M474.8 175.5h0.35 M453.9 179.0h0.35 M437.2 182.0h0.35 M481.3 166.2h0.35 M443.3 180.8h0.35 M478.9 171.2h0.35 M455.0 178.2h0.35 M473.1 179.8h0.35 M455.8 177.2h0.35 M456.3 179.2h0.35 M471.5 179.2h0.35 M448.3 146.0h0.35 M452.3 150.5h0.35 M440.4 156.5h0.35 M476.3 160.0h0.35 M473.8 159.5h0.35 M464.0 151.0h0.35 M473.5 160.2h0.35 M464.9 178.2h0.35 M458.4 182.5h0.35 M478.6 167.0h0.35 M475.5 168.2h0.35 M481.5 172.8h0.35 M440.4 179.2h0.35 M458.0 180.5h0.35 M443.5 184.5h0.35 M476.7 169.0h0.35 M449.0 179.5h0.35 M481.0 166.5h0.35 M445.9 181.2h0.35 M429.8 161.0h0.35 M442.6 182.2h0.35 M459.8 177.2h0.35 M446.7 179.8h0.35 M450.7 177.8h0.35 M427.5 165.2h0.35 M475.0 177.0h0.35 M479.2 151.0h0.35 M452.3 150.8h0.35 M445.5 177.8h0.35 M457.8 176.8h0.35 M426.5 181.5h0.35 M463.4 148.8h0.35 M444.3 178.0h0.35 M459.6 177.0h0.35 M459.9 178.2h0.35 M453.2 179.8h0.35 M465.3 177.5h0.35 M451.1 178.0h0.35 M467.3 177.0h0.35 M449.4 178.5h0.35 M477.4 161.8h0.35 M434.0 178.0h0.35 M462.0 179.0h0.35 M478.1 158.8h0.35 M439.3 189.0h0.35 M450.0 180.0h0.35 M443.2 185.2h0.35 M477.5 164.0h0.35 M474.5 174.8h0.35 M473.8 162.5h0.35 M446.4 151.0h0.35 M470.4 148.2h0.35 M474.5 161.8h0.35 M446.2 182.0h0.35 M475.0 157.2h0.35 M454.4 179.2h0.35 M482.8 161.8h0.35 M465.6 152.0h0.35 M424.4 159.0h0.35 M433.8 179.2h0.35 M456.2 177.2h0.35 M469.7 177.8h0.35 M470.2 175.5h0.35 M479.7 163.0h0.35 M457.2 177.0h0.35 M442.3 183.8h0.35 M489.1 159.2h0.35 M458.2 179.8h0.35 M433.2 162.0h0.35 M435.8 159.0h0.35 M480.9 165.5h0.35 M446.8 153.5h0.35 M443.8 184.2h0.35 M480.8 168.0h0.35 M472.5 158.0h0.35 M495.1 131.8h0.35 M452.2 151.8h0.35 M479.7 160.0h0.35 M472.7 173.0h0.35 M466.2 178.2h0.35 M464.5 187.2h0.35 M441.7 182.8h0.35 M475.6 161.5h0.35 M445.0 178.5h0.35 M436.3 183.8h0.35 M479.6 153.8h0.35 M457.2 181.8h0.35 M477.7 171.0h0.35 M450.9 180.5h0.35 M477.2 165.5h0.35 M463.4 178.5h0.35" stroke="#555" stroke-width="0.35" fill="none"/>
<circle cx="460.6" cy="160.2" r="3.6" fill="#fff" fill-opacity="0.9"/><path d="M437 172.5L455 171.5" stroke="#fff" stroke-width="0.9" stroke-dasharray="2.5 1.2" stroke-opacity="0.85" fill="none"/>
<text x="414.60" y="136.20" font-size="6.1" text-anchor="end" fill="#1a1a1a">10<tspan font-size="3.9" dy="-2.6">5</tspan></text>
<text x="414.60" y="154.00" font-size="6.1" text-anchor="end" fill="#1a1a1a">10<tspan font-size="3.9" dy="-2.6">4</tspan></text>
<text x="414.60" y="174.70" font-size="6.1" text-anchor="end" fill="#1a1a1a">10<tspan font-size="3.9" dy="-2.6">3</tspan></text>
<text x="415.20" y="187.90" font-size="6.1" text-anchor="end" fill="#1a1a1a">0</text>
<text x="414.60" y="200.00" font-size="6.1" text-anchor="end" fill="#1a1a1a">−10<tspan font-size="3.9" dy="-2.6">3</tspan></text>
<path d="M417.60 134.30H420.20 M417.60 152.10H420.20 M417.60 172.70H420.20 M417.60 185.70H420.20 M417.60 197.80H420.20 M418.80 166.50H420.20 M418.80 162.87H420.20 M418.80 160.30H420.20 M418.80 158.30H420.20 M418.80 156.67H420.20 M418.80 155.29H420.20 M418.80 154.10H420.20 M418.80 153.04H420.20 M418.80 146.74H420.20 M418.80 143.61H420.20 M418.80 141.38H420.20 M418.80 139.66H420.20 M418.80 138.25H420.20 M418.80 137.06H420.20 M418.80 136.02H420.20 M418.80 135.11H420.20 M418.80 181.41H420.20 M418.80 189.69H420.20 M418.80 177.12H420.20 M418.80 193.69H420.20" stroke="#333" stroke-width="0.6" fill="none"/>
<rect x="417.80" y="184.60" width="2.2" height="2.2" fill="#111"/>
<text x="440.80" y="214.00" font-size="6.1" text-anchor="middle" fill="#1a1a1a">0</text>
<text x="469.60" y="214.00" font-size="6.1" fill="#1a1a1a">10<tspan font-size="3.9" dy="-2.6">4</tspan></text>
<text x="486.00" y="214.00" font-size="6.1" fill="#1a1a1a">10<tspan font-size="3.9" dy="-2.6">5</tspan></text>
<path d="M440.80 203.00V205.60 M473.40 203.00V205.60 M489.20 203.00V205.60 M478.16 203.00V204.40 M480.94 203.00V204.40 M482.91 203.00V204.40 M484.44 203.00V204.40 M485.69 203.00V204.40 M486.75 203.00V204.40 M487.67 203.00V204.40 M488.48 203.00V204.40 M447.32 203.00V204.40 M453.84 203.00V204.40 M460.36 203.00V204.40 M465.25 203.00V204.40 M468.51 203.00V204.40 M471.12 203.00V204.40 M431.53 203.00V204.40 M425.35 203.00V204.40" stroke="#333" stroke-width="0.6" fill="none"/>
<rect x="439.70" y="203.20" width="2.2" height="2.2" fill="#111"/>
<path d="M420.20 126.50V203.00H496.80" fill="none" stroke="#333" stroke-width="0.9"/>
<path d="M420.20 126.50H496.80" fill="none" stroke="#555" stroke-width="0.8"/>
<path d="M496.80 126.50V203.00" fill="none" stroke="#999" stroke-width="0.8"/>
<path d="M497.00 126.50V203.00" fill="none" stroke="#8a8a8a" stroke-width="1.3"/>
<path d="M455.50 203.00V126.50H497.00" fill="none" stroke="#3a3a3a" stroke-width="1.0"/>
<text x="492.00" y="137.20" font-size="6.3" text-anchor="end" fill="#1a1a1a">41.0</text>
<path d="M96 283.3l-1.8 .1 -2.2-.1 -1.5-.4 -1.5-1 -1.1-1.1 -.8-1.6 -.7-2 -.3-2.2 .1-6 .5-2.2 .9-2 1.2-1.5 1.2-.9 4.2-1.3 1.3 .2 2.3 1 1.9 1.7 1.5 2.8 .7 3.7 -.1 5 -.4 2 -.6 1.7 -.9 1.6 -1.1 1.2 -1.3 .8z" fill="#000" fill-opacity="0.25" fill-rule="evenodd" stroke="none"/>
<path d="M94.8 275.5l-1.3 .2 -1.1-.5 -.6-1 -.3-1.4 .1-1.6 .5-1.2 1.6-2 .8-.4 .5 .3 .6 .9 .6 2.7 -.3 2.7 -.4 .8z M94.8 277l-1.8 0 -1.2-.5 -1-1.5 -.3-2 .1-2.2 .6-1.7 2.3-2.1 1-.4 1 .6 .9 1.6 .5 1.4 .2 1.8 -.1 2 -.4 1.5 -.8 1z M94.5 278l-2-.1 -1.5-.9 -.9-1.8 -.3-2.7 .3-2.5 .7-1.6 1-1 2-1.3 .7-.3 1.1 .7 1.6 2.3 .5 1.7 .1 2 -.2 2.3 -.6 1.7 -1 1z M94.5 278.8l-2.3-.2 -1.6-1.1 -1-2 -.3-3 .2-2.7 .9-2 1.1-1.1 2.3-1.3 .7-.2 1.3 .8 1.8 2.2 .6 1.8 .2 2.5 -.2 2.5 -.8 2 -1.2 1.2z M95.2 279.3l-2.7 0 -1.7-.8 -1.3-1.8 -.6-2.7 .1-3.8 .8-2.5 1.2-1.4 3.2-1.6 1.3 .4 2.1 2.1 .8 1.8 .4 2.2 -.1 3.3 -.6 2.3 -1.1 1.6z M95.5 279.8l-3 .1 -1.9-.9 -.8-.9 -.7-1.1 -.6-2.8 .1-4.2 .9-2.8 1.5-1.5 3.2-1.4 1.3 .3 2.3 2.2 .9 1.7 .5 2.5 -.1 3.5 -.6 2.5 -1.3 1.9z M95.5 280.3l-3 .1 -1.3-.4 -1-.7 -.7-.8 -.7-1.3 -.6-3 0-4.2 .4-1.8 .6-1.2 1.6-1.7 3.4-1.5 .8 .1 .8 .4 2.4 2.2 .9 2 .4 2.5 0 3.8 -.6 2.4 -1.4 2.1z M95.5 280.8l-3.3 0 -1.2-.4 -1-.7 -.8-.9 -.7-1.3 -.7-3.3 .1-4.4 .4-1.8 .7-1.5 .8-1 1-.7 3.4-1.4 1.6 .5 2.5 2.1 1 2 .6 2.8 -.1 4 -.7 3 -1.5 2z M95 281.3l-3.2-.2 -1.3-.5 -1-.9 -.9-1.2 -.5-1.3 -.6-3.7 .2-4.3 .5-1.7 .7-1.5 .9-1 1-.7 3.7-1.2 1 .2 1.5 1 1.8 1.7 1 2.5 .4 3.3 -.2 3.7 -.9 3 -1.6 1.8 -1 .6z M95.8 281.5l-3.6 .1 -1.4-.5 -1-.6 -1-1 -.7-1.3 -.8-3.4 0-5 .4-1.8 .7-1.8 .8-1.2 1-.8 4-1.5 1.6 .4 1.8 1.1 1 1 1.3 2.3 .5 3 0 4.5 -.7 3 -.8 1.5 -.9 .9 -1 .7z M95.2 282l-3.4-.1 -1.3-.5 -1.3-.9 -.9-1.3 -.7-1.4 -.6-3.8 .2-5 .5-2 .7-1.5 1.1-1.2 1-.7 3.7-1.2 1.3 .2 1.7 1 1.9 1.6 1.2 2.8 .5 3.2 -.2 4.3 -.9 3.3 -.8 1.2 -1.1 1.1 -1.3 .6z M95.8 282.3l-3.8 0 -1.2-.4 -1.3-.7 -1.1-1.2 -.8-1.5 -.5-1.7 -.3-2 .1-5.6 .4-2 .8-1.7 1-1.3 1.1-.9 4-1.2 1 .1 1.8 .9 2.1 1.7 1.3 2.4 .6 3.6 -.1 4.7 -.9 3.3 -.8 1.3 -1 1 -1.2 .8z M94.8 282.8l-2.3-.1 -1.5-.3 -1.2-.7 -1.2-.9 -1-1.6 -.6-1.4 -.4-2 -.1-2.6 0-3 .3-2.2 .6-1.8 .8-1.4 1-1.2 1.3-.8 4-1.1 1 .3 2.3 1.1 1.9 1.9 1.2 3 .5 4 -.3 4.2 -.4 1.8 -.9 1.8 -.9 1.2 -1.1 .9 -1.6 .6z M95.5 283l-2.3 .1 -1.7-.2 -1.3-.5 -1.3-.9 -1-1.3 -.8-1.4 -.5-1.8 -.3-2.5 .1-5.5 .5-2.2 .8-1.8 1.1-1.3 1.4-1.1 4-1.2 1.3 .3 2 .9 2 1.6 1.4 2.8 .7 3.8 -.2 5.2 -1.1 3.5 -1 1.5 -1.1 1 -1.2 .6z M96 283.3l-1.8 .1 -2.2-.1 -1.5-.4 -1.5-1 -1.1-1.1 -.8-1.6 -.7-2 -.3-2.2 .1-6 .5-2.2 .9-2 1.2-1.5 1.2-.9 4.2-1.3 1.3 .2 2.3 1 1.9 1.7 1.5 2.8 .7 3.7 -.1 5 -.4 2 -.6 1.7 -.9 1.6 -1.1 1.2 -1.3 .8z M94.8 283.8l-2.3-.1 -1.5-.3 -1.5-.7 -1.4-1.2 -1-1.5 -.7-2 -.5-2.2 -.1-2.6 .3-5.2 .6-2 .9-1.8 1.2-1.3 1.2-.9 4.5-1.2 1.3 .3 2.2 1 1.2 .9 1.1 1.2 .8 1.6 .6 1.7 .5 4.5 -.3 4.8 -.6 2 -.8 1.7 -1.2 1.5 -1.3 .9 -1.5 .6z M95.8 284l-2.3 .1 -2-.2 -1.7-.7 -1.3-.9 -1.1-1.3 -1-2 -.5-2 -.3-2.2 .2-6.3 .5-2.3 .8-1.7 1.1-1.5 1.6-1.2 1.2-.5 3.2-.8 1.3 .2 2.3 .9 1.2 .8 1.1 1.1 1.5 2.7 .6 2 .3 2.3 -.1 5.5 -.5 2.2 -.7 1.8 -1 1.5 -1.4 1.4 -1.6 .7z M96.2 284.3l-2 .1 -2.4-.2 -1.8-.5 -1.2-.8 -1.2-1.1 -1-1.8 -.7-2 -.5-2.8 0-3.7 .2-3 .6-2.5 .9-2 1.1-1.4 1.6-1.1 1.4-.6 3-.7 1.3 .2 2.5 .9 2.2 1.7 .9 1.2 .8 1.8 1 4.2 -.1 5.6 -.4 2.2 -.8 2 -.9 1.5 -1.5 1.5 -1.4 .8z M95.8 284.8l-2.6 0 -2-.3 -1.4-.6 -1.6-1.1 -1.1-1.3 -1-2 -.6-2 -.3-2.7 .2-6.3 .5-2.3 .9-2.2 1.4-1.8 1.6-1.1 1.4-.5 3-.7 1.3 .1 2.5 .9 1.5 .9 1.2 1.2 1.1 1.8 .8 1.7 .9 4.3 -.2 5.4 -.6 2.6 -.8 1.7 -1.3 1.7 -1.4 1.3 -1.7 .9z M96.8 285l-2 .2 -2.6-.1 -1.7-.5 -1.7-.9 -1.5-1.5 -.9-1.4 -.8-2 -.5-2.8 -.2-3.8 .2-3.4 .6-2.8 .9-2.2 1.4-1.8 1.5-1.1 1.7-.7 3-.6 1.3 .1 2.7 .9 1.6 .9 1.1 1 1.2 1.5 1 2 .8 2.2 .5 2.3 -.1 5.3 -.4 2 -1 2.2 -1.3 2 -1.4 1.3 -1.7 1.2z M97 285.6l-2.2 .1 -2.8-.2 -2-.7 -1.5-.9 -1.4-1.4 -1-1.7 -.8-2 -.5-2.8 -.1-3.8 .2-3.4 .5-2.8 .9-2.2 1.3-1.8 1.6-1.4 1.8-.7 3.2-.8 1.6 .2 2.7 .8 1.5 .8 1.7 1.3 1.8 2 1.2 1.8 .8 2 .4 2.2 0 5.8 -.5 2.2 -.8 1.8 -1.3 1.8 -2.1 1.8 -2.2 1.3z M84.5 270.4l.3-2.9 .6-2.3 1-2.2 1.1-1.4 1.5-1.3 1.5-.7 3.3-.9 1.4-.1 2.8 .6 2.5 .9 3 1.6 1.7 1.5 1.2 1.8 .9 2.2 .4 2.6 .1 3.2 -.1 3.2 -.4 2.6 -.9 2.2 -1.1 1.8 -1.3 1.2 -1.8 .9 -3.4 1.1 -2.3 .4 -2.5-.1 -2.8-.5 -2-.9 -1.4-1.1 -1.4-1.8 -1-2.2 -.6-2.3 -.3-2.9" fill="none" stroke="#000" stroke-width="0.5" stroke-linejoin="round"/>
<path d="M117.5 269.0h0.35 M85.3 261.2h0.35 M108.3 262.0h0.35 M106.8 262.2h0.35 M93.8 294.8h0.35 M108.0 273.5h0.35 M108.5 275.5h0.35 M104.1 260.8h0.35 M109.1 275.8h0.35 M90.8 255.5h0.35 M101.6 252.0h0.35 M104.4 285.5h0.35 M102.2 246.2h0.35 M102.5 293.0h0.35 M106.6 284.2h0.35 M106.2 281.8h0.35 M100.5 251.8h0.35 M97.7 257.8h0.35 M103.4 285.5h0.35 M110.7 264.5h0.35 M108.0 273.2h0.35 M85.2 255.5h0.35 M97.9 257.2h0.35 M113.3 267.2h0.35 M113.3 280.0h0.35 M108.8 269.2h0.35 M106.0 254.8h0.35 M99.4 286.2h0.35 M95.5 256.0h0.35 M114.0 264.8h0.35 M111.4 271.2h0.35 M84.5 260.5h0.35 M107.1 264.0h0.35 M96.2 287.0h0.35 M107.9 265.5h0.35 M108.3 269.2h0.35 M95.4 292.0h0.35 M100.2 259.2h0.35 M100.0 287.2h0.35 M107.7 261.8h0.35 M101.5 260.2h0.35 M99.9 286.8h0.35 M89.5 253.0h0.35 M100.8 286.2h0.35 M108.8 284.2h0.35 M99.8 287.2h0.35 M104.3 252.5h0.35 M89.2 258.5h0.35 M110.8 281.0h0.35 M108.6 264.8h0.35 M104.0 244.8h0.35 M114.8 276.2h0.35 M112.3 282.5h0.35 M106.0 292.2h0.35 M101.8 256.2h0.35 M91.3 258.8h0.35 M108.3 285.0h0.35 M96.5 254.2h0.35 M90.6 259.2h0.35 M115.3 265.2h0.35 M107.3 264.0h0.35 M113.2 269.2h0.35 M106.5 286.2h0.35 M113.8 273.2h0.35 M108.5 274.5h0.35 M111.3 271.5h0.35 M104.0 257.8h0.35 M110.0 265.2h0.35 M96.1 294.8h0.35 M108.7 287.8h0.35 M112.3 280.5h0.35 M108.2 269.0h0.35 M107.1 286.2h0.35 M112.8 273.2h0.35 M115.7 263.0h0.35 M114.8 268.5h0.35 M101.5 257.5h0.35 M119.7 270.5h0.35 M103.4 260.2h0.35 M106.7 281.5h0.35 M108.0 284.2h0.35 M99.3 296.8h0.35 M104.0 284.8h0.35 M101.5 252.5h0.35 M111.8 278.0h0.35 M114.3 283.0h0.35 M95.0 286.5h0.35 M113.2 267.0h0.35 M84.5 266.5h0.35 M111.9 268.8h0.35 M89.7 256.5h0.35 M88.2 290.8h0.35 M106.2 294.5h0.35 M89.0 259.0h0.35 M93.3 290.8h0.35 M99.2 257.8h0.35 M87.9 254.0h0.35 M109.7 278.5h0.35 M115.0 283.5h0.35 M103.8 257.5h0.35 M87.1 290.5h0.35 M106.8 263.2h0.35 M97.0 257.2h0.35 M111.5 259.8h0.35 M103.4 255.0h0.35 M113.5 280.8h0.35 M100.4 259.5h0.35 M118.7 276.2h0.35 M109.5 265.8h0.35 M97.8 255.5h0.35 M112.0 271.2h0.35 M107.4 291.5h0.35 M95.1 257.2h0.35 M85.8 291.2h0.35 M98.5 255.2h0.35 M112.3 270.8h0.35 M90.7 257.0h0.35 M94.3 298.0h0.35 M119.5 269.5h0.35 M93.3 286.5h0.35 M118.7 277.0h0.35 M108.6 265.2h0.35 M106.9 258.8h0.35 M94.7 286.5h0.35 M88.6 287.0h0.35 M113.5 281.5h0.35 M108.9 283.0h0.35 M100.0 251.2h0.35 M98.3 258.0h0.35 M114.3 269.8h0.35 M108.7 253.5h0.35 M108.8 271.5h0.35 M91.7 290.0h0.35 M106.3 261.5h0.35 M109.7 276.2h0.35 M109.2 257.5h0.35 M116.2 282.2h0.35 M105.3 287.2h0.35 M109.2 283.5h0.35 M129.6 264.8h0.35 M109.2 261.2h0.35 M108.5 253.8h0.35 M87.0 285.5h0.35 M112.0 287.5h0.35 M110.7 270.0h0.35 M116.6 280.2h0.35 M92.7 258.2h0.35 M117.2 279.8h0.35 M112.7 258.5h0.35 M112.5 278.2h0.35 M92.8 247.2h0.35 M115.2 262.5h0.35 M86.3 258.5h0.35 M88.0 251.2h0.35 M106.7 258.8h0.35 M101.7 288.2h0.35 M88.4 260.0h0.35 M93.3 255.2h0.35 M112.6 275.0h0.35 M116.3 280.8h0.35 M104.0 261.2h0.35 M100.0 288.5h0.35 M113.5 276.5h0.35 M114.8 269.0h0.35 M106.0 287.2h0.35 M86.8 283.2h0.35 M113.6 272.0h0.35 M88.9 258.8h0.35 M108.3 268.5h0.35 M113.7 272.8h0.35 M106.9 287.2h0.35 M113.2 289.2h0.35 M90.8 252.8h0.35 M116.8 268.5h0.35 M101.2 289.2h0.35 M108.6 264.5h0.35 M109.5 279.8h0.35 M96.6 258.2h0.35 M90.7 286.5h0.35 M93.3 257.0h0.35 M116.7 258.8h0.35 M102.8 258.5h0.35 M101.6 256.0h0.35 M108.7 275.2h0.35 M119.0 285.0h0.35 M97.8 256.5h0.35 M102.8 257.5h0.35 M114.7 263.0h0.35 M112.8 259.8h0.35 M107.9 273.8h0.35 M95.5 255.2h0.35 M114.0 271.0h0.35 M115.5 267.5h0.35 M96.8 255.2h0.35 M108.1 265.2h0.35 M107.0 262.2h0.35 M100.5 253.0h0.35 M110.8 260.5h0.35 M117.7 273.8h0.35 M103.4 286.5h0.35 M104.1 290.2h0.35 M109.7 278.8h0.35 M110.3 263.5h0.35 M97.8 256.2h0.35 M116.6 275.8h0.35 M108.0 270.8h0.35 M103.1 286.0h0.35 M101.0 258.8h0.35 M112.9 274.5h0.35 M102.3 254.2h0.35 M112.2 260.0h0.35 M108.5 264.5h0.35 M105.7 283.0h0.35 M108.1 261.2h0.35 M110.5 272.8h0.35 M109.8 294.2h0.35 M108.8 289.8h0.35 M108.8 266.5h0.35 M101.0 257.8h0.35 M114.4 272.5h0.35 M106.5 282.2h0.35 M114.9 271.5h0.35 M120.5 279.2h0.35 M110.8 257.8h0.35 M101.0 259.5h0.35 M94.2 256.5h0.35 M92.2 252.5h0.35 M108.9 265.8h0.35 M106.8 281.0h0.35 M106.4 262.2h0.35 M107.9 290.2h0.35 M103.2 261.5h0.35 M106.6 262.5h0.35 M112.7 285.5h0.35 M109.9 274.8h0.35 M108.9 269.0h0.35 M108.3 258.2h0.35 M101.2 254.0h0.35 M88.8 256.8h0.35 M94.5 256.8h0.35 M107.9 264.0h0.35 M105.0 260.8h0.35 M111.1 269.5h0.35 M107.5 258.8h0.35 M114.8 275.8h0.35 M107.6 289.8h0.35 M105.5 283.8h0.35 M112.5 270.8h0.35 M104.9 258.8h0.35 M109.7 282.0h0.35 M107.0 284.8h0.35 M104.4 254.2h0.35 M108.8 285.2h0.35 M109.8 288.2h0.35 M111.4 257.5h0.35 M91.1 257.2h0.35 M107.8 278.2h0.35 M114.0 266.5h0.35 M111.4 253.2h0.35 M110.2 272.5h0.35 M117.7 284.2h0.35 M113.0 278.2h0.35 M96.8 252.0h0.35 M107.0 251.2h0.35 M109.4 268.2h0.35 M115.8 274.5h0.35 M115.6 288.2h0.35 M113.3 277.2h0.35 M116.1 275.5h0.35 M103.2 286.5h0.35 M108.0 263.5h0.35 M112.1 256.8h0.35 M116.3 255.0h0.35 M113.4 261.5h0.35 M88.0 286.2h0.35 M114.8 269.5h0.35 M90.5 251.5h0.35 M100.0 287.8h0.35 M109.5 284.0h0.35 M103.9 252.2h0.35 M107.7 281.8h0.35 M85.0 257.2h0.35 M92.5 252.0h0.35 M109.8 263.0h0.35 M111.2 277.0h0.35 M104.6 259.0h0.35 M109.5 264.5h0.35 M103.0 285.0h0.35 M110.0 255.2h0.35 M110.9 273.8h0.35 M105.6 260.2h0.35 M91.8 252.8h0.35 M113.3 280.2h0.35 M108.5 275.5h0.35 M110.1 265.8h0.35 M110.0 266.0h0.35 M108.2 262.8h0.35 M108.9 275.8h0.35 M95.5 246.5h0.35 M87.9 255.0h0.35 M90.8 254.0h0.35 M85.1 255.0h0.35 M112.5 269.8h0.35 M85.3 264.0h0.35 M113.1 274.5h0.35 M108.3 268.5h0.35 M109.2 281.5h0.35 M117.8 276.8h0.35 M121.6 250.5h0.35 M100.6 254.0h0.35 M109.3 275.0h0.35 M123.3 285.5h0.35 M85.7 284.2h0.35 M95.0 254.2h0.35 M108.5 272.0h0.35 M100.3 256.2h0.35 M113.1 259.8h0.35 M105.9 285.5h0.35 M118.7 272.8h0.35 M112.0 284.8h0.35 M115.2 272.0h0.35 M108.8 287.5h0.35 M89.7 259.2h0.35 M111.5 266.5h0.35 M88.2 289.2h0.35 M116.0 280.2h0.35 M95.1 252.0h0.35 M103.3 257.8h0.35 M114.4 262.0h0.35 M108.3 273.8h0.35 M108.2 259.5h0.35 M102.2 285.0h0.35 M114.8 283.0h0.35 M106.8 264.0h0.35 M92.6 258.8h0.35 M109.5 258.2h0.35 M88.3 258.2h0.35 M114.8 267.2h0.35 M116.2 269.2h0.35 M93.1 287.2h0.35 M114.8 267.2h0.35 M108.8 270.2h0.35 M94.2 258.2h0.35 M107.3 293.5h0.35 M107.5 266.5h0.35 M103.5 256.2h0.35 M108.0 259.5h0.35 M108.1 278.5h0.35 M104.9 259.0h0.35 M106.5 296.2h0.35 M114.0 270.0h0.35 M113.4 282.0h0.35 M108.0 272.0h0.35 M111.0 276.0h0.35 M108.3 263.0h0.35 M105.2 283.2h0.35 M108.1 283.0h0.35 M85.8 283.0h0.35 M109.2 273.2h0.35 M113.5 282.2h0.35 M84.8 282.8h0.35 M101.6 258.2h0.35 M92.1 251.8h0.35 M85.0 288.5h0.35 M111.3 262.8h0.35 M99.6 253.5h0.35 M112.7 286.2h0.35 M111.7 285.0h0.35 M109.4 272.5h0.35 M95.8 254.8h0.35 M107.7 286.2h0.35 M115.9 266.8h0.35 M104.0 254.0h0.35 M98.3 257.0h0.35 M99.2 256.0h0.35 M106.1 286.2h0.35 M97.5 287.0h0.35 M93.7 289.0h0.35 M105.8 260.5h0.35 M108.1 271.2h0.35 M115.2 272.5h0.35 M106.3 261.8h0.35 M100.4 248.2h0.35 M110.9 252.5h0.35 M94.6 253.8h0.35 M113.3 265.2h0.35 M108.2 263.8h0.35 M105.2 249.8h0.35 M115.0 252.5h0.35 M108.0 262.5h0.35 M112.3 274.0h0.35 M112.9 267.5h0.35 M110.7 279.8h0.35 M110.0 270.0h0.35 M103.2 254.0h0.35 M105.4 254.8h0.35 M113.7 261.5h0.35 M112.7 272.0h0.35 M98.5 286.2h0.35 M90.5 286.8h0.35 M93.8 291.0h0.35 M101.5 286.0h0.35 M114.8 263.2h0.35 M112.5 270.0h0.35 M109.6 252.5h0.35 M99.2 289.5h0.35 M114.0 271.2h0.35 M90.8 251.5h0.35 M96.2 287.0h0.35 M108.0 277.8h0.35 M92.0 294.2h0.35 M98.3 254.5h0.35 M107.3 264.2h0.35 M108.2 254.8h0.35 M98.6 289.5h0.35 M101.7 256.2h0.35 M109.1 277.8h0.35 M112.5 275.5h0.35 M110.1 272.0h0.35 M107.2 266.5h0.35 M106.8 264.5h0.35 M115.3 282.2h0.35 M111.4 272.0h0.35 M106.7 261.0h0.35 M108.3 278.5h0.35 M109.5 275.2h0.35 M114.2 264.8h0.35 M114.0 276.8h0.35 M95.0 256.8h0.35 M114.1 264.2h0.35 M107.0 281.5h0.35 M119.8 281.8h0.35 M107.7 279.8h0.35 M100.0 300.0h0.35 M111.7 262.8h0.35 M104.6 288.0h0.35 M114.5 281.0h0.35 M108.2 280.2h0.35 M104.0 260.5h0.35 M94.3 254.2h0.35 M107.2 280.8h0.35 M98.3 252.8h0.35 M109.1 274.8h0.35 M98.4 248.0h0.35 M96.0 257.2h0.35 M109.7 265.0h0.35 M103.3 284.8h0.35 M109.3 259.8h0.35 M96.3 288.5h0.35 M103.4 289.5h0.35 M113.2 279.5h0.35 M107.4 261.2h0.35 M107.5 265.5h0.35 M89.8 292.0h0.35 M107.8 270.5h0.35 M118.6 271.5h0.35 M112.0 270.2h0.35 M97.8 256.5h0.35 M111.8 295.8h0.35 M111.2 271.5h0.35 M107.8 275.8h0.35 M114.8 283.2h0.35 M107.7 267.2h0.35 M107.0 258.5h0.35 M99.1 289.2h0.35 M99.8 257.0h0.35 M107.7 262.0h0.35 M107.8 277.0h0.35 M108.3 265.0h0.35 M119.8 271.5h0.35 M104.0 258.0h0.35 M109.7 285.2h0.35 M112.1 286.0h0.35 M113.5 264.8h0.35 M92.8 288.2h0.35 M106.9 286.2h0.35 M117.3 274.0h0.35 M93.1 258.2h0.35 M99.3 250.2h0.35 M96.0 289.0h0.35 M97.5 288.8h0.35 M111.0 272.5h0.35 M116.8 269.0h0.35 M113.5 278.5h0.35 M109.7 263.0h0.35 M86.9 260.5h0.35 M107.8 261.2h0.35 M107.4 261.2h0.35 M110.4 269.2h0.35 M105.8 247.5h0.35 M110.0 258.0h0.35 M108.0 270.2h0.35 M89.3 287.0h0.35 M110.8 268.5h0.35 M108.0 259.2h0.35 M114.3 289.5h0.35 M102.8 285.8h0.35 M104.0 259.0h0.35 M104.3 296.2h0.35 M110.0 276.5h0.35 M106.3 258.8h0.35 M115.3 272.2h0.35 M117.8 260.5h0.35 M103.0 288.5h0.35 M111.8 272.5h0.35 M96.6 252.0h0.35 M117.8 268.0h0.35 M109.0 269.5h0.35 M110.2 283.8h0.35 M90.5 289.8h0.35 M108.6 275.8h0.35 M109.4 271.0h0.35 M113.7 268.8h0.35 M114.5 256.8h0.35 M112.0 278.8h0.35 M109.5 267.5h0.35 M114.1 263.0h0.35 M111.3 279.5h0.35 M114.0 261.5h0.35 M108.7 277.0h0.35 M112.4 260.5h0.35 M105.2 257.2h0.35 M111.3 270.0h0.35 M93.2 288.2h0.35 M103.2 257.2h0.35 M100.8 256.2h0.35 M84.8 260.5h0.35 M99.3 286.0h0.35 M117.7 265.5h0.35 M111.4 262.2h0.35 M108.2 262.0h0.35 M102.2 260.8h0.35 M110.8 269.5h0.35 M109.8 263.5h0.35 M96.2 256.2h0.35 M109.2 278.8h0.35 M110.2 256.2h0.35 M109.1 269.5h0.35 M112.4 266.8h0.35 M101.8 248.0h0.35 M101.4 258.5h0.35 M106.2 282.8h0.35 M113.7 284.8h0.35 M106.5 286.0h0.35 M97.0 256.0h0.35 M110.3 279.2h0.35 M85.6 261.5h0.35 M87.5 258.2h0.35 M85.7 257.5h0.35 M96.7 286.8h0.35 M99.1 293.2h0.35 M110.2 269.8h0.35 M105.3 289.5h0.35 M84.8 256.0h0.35 M98.0 244.8h0.35 M113.1 265.8h0.35 M86.2 287.2h0.35 M108.9 268.0h0.35 M106.4 258.8h0.35 M111.0 288.2h0.35 M108.8 274.0h0.35 M106.3 261.2h0.35 M108.7 271.0h0.35 M109.3 274.2h0.35 M107.0 253.5h0.35 M108.3 269.8h0.35 M113.6 272.0h0.35 M110.4 253.8h0.35 M104.5 257.0h0.35 M98.0 250.5h0.35 M103.0 258.0h0.35 M105.7 250.2h0.35 M111.5 271.2h0.35 M112.8 283.5h0.35 M113.0 254.8h0.35 M104.5 286.5h0.35 M93.7 258.5h0.35 M91.5 239.2h0.35 M107.6 264.0h0.35 M112.5 259.8h0.35 M109.6 261.5h0.35 M112.7 260.2h0.35 M116.5 281.2h0.35 M112.0 262.0h0.35 M88.8 285.0h0.35 M109.9 275.5h0.35 M113.0 275.8h0.35 M107.2 280.8h0.35 M90.8 257.0h0.35 M87.3 288.8h0.35 M113.3 270.5h0.35 M104.2 248.5h0.35 M101.7 257.5h0.35 M106.4 287.8h0.35 M112.8 273.5h0.35 M100.2 243.8h0.35 M113.0 254.5h0.35 M90.9 291.0h0.35 M90.3 258.0h0.35 M107.5 265.2h0.35 M107.7 270.2h0.35 M103.8 246.8h0.35 M112.0 264.0h0.35 M113.6 270.8h0.35 M99.4 251.0h0.35 M110.9 267.0h0.35 M109.8 281.0h0.35 M116.8 274.5h0.35 M101.8 257.8h0.35 M111.0 265.0h0.35 M91.2 257.2h0.35 M113.0 263.2h0.35 M112.8 261.2h0.35 M108.4 264.5h0.35 M115.3 278.0h0.35 M96.5 257.2h0.35 M105.0 289.0h0.35 M115.9 280.5h0.35 M106.0 290.2h0.35 M106.7 261.8h0.35 M112.3 273.0h0.35 M108.0 275.2h0.35 M93.4 291.2h0.35 M107.7 276.5h0.35 M110.3 268.0h0.35 M105.3 256.2h0.35 M107.3 281.8h0.35 M102.5 288.2h0.35 M117.7 274.0h0.35 M112.6 268.8h0.35 M94.1 248.0h0.35 M113.3 296.0h0.35 M109.9 285.0h0.35 M116.7 273.2h0.35 M107.9 267.8h0.35 M113.0 277.2h0.35 M113.8 285.8h0.35 M112.8 261.2h0.35 M110.1 256.2h0.35 M105.5 261.8h0.35 M109.0 255.5h0.35 M109.7 265.8h0.35 M116.7 279.5h0.35 M106.7 262.5h0.35 M107.8 266.0h0.35 M102.5 257.0h0.35 M89.7 292.0h0.35 M105.5 257.2h0.35 M95.1 287.5h0.35 M104.7 258.8h0.35 M98.7 287.2h0.35 M92.2 256.5h0.35 M108.6 272.5h0.35 M116.6 271.0h0.35 M93.1 256.5h0.35 M108.9 272.0h0.35 M114.1 268.8h0.35 M98.8 287.0h0.35 M86.8 254.2h0.35 M110.5 267.0h0.35 M107.3 249.2h0.35 M116.4 284.5h0.35 M99.6 252.5h0.35 M106.0 285.8h0.35 M107.5 278.2h0.35 M102.0 289.0h0.35 M108.8 269.5h0.35 M103.2 254.8h0.35 M117.9 278.2h0.35 M96.0 251.2h0.35 M96.1 255.2h0.35 M106.5 260.0h0.35 M115.1 269.0h0.35 M98.8 254.5h0.35 M110.9 268.2h0.35 M86.3 257.8h0.35 M108.0 259.2h0.35 M95.7 289.0h0.35 M113.3 269.8h0.35 M98.2 297.5h0.35 M112.7 277.2h0.35 M112.5 262.8h0.35 M112.2 284.5h0.35 M112.1 275.5h0.35 M97.5 259.0h0.35 M106.5 259.8h0.35 M104.2 261.2h0.35 M110.2 262.8h0.35 M100.6 288.5h0.35 M109.0 287.8h0.35 M96.1 252.5h0.35 M117.0 264.5h0.35 M86.8 256.8h0.35 M106.5 283.5h0.35 M126.2 267.8h0.35 M120.0 264.8h0.35 M107.9 279.8h0.35 M90.6 285.8h0.35 M89.5 245.8h0.35 M102.7 256.5h0.35 M113.7 253.5h0.35 M91.3 289.8h0.35 M105.0 261.5h0.35 M111.2 260.5h0.35 M115.8 260.0h0.35 M99.6 256.8h0.35 M88.7 257.5h0.35 M104.2 262.0h0.35 M103.8 287.5h0.35 M113.2 263.0h0.35 M91.2 253.2h0.35 M108.3 261.5h0.35 M106.0 264.0h0.35 M108.0 282.2h0.35 M113.7 276.8h0.35 M108.8 269.2h0.35 M116.7 260.0h0.35 M100.2 255.0h0.35 M108.1 257.2h0.35 M107.7 261.5h0.35 M115.3 286.2h0.35 M104.8 248.0h0.35 M107.5 263.5h0.35 M117.7 274.5h0.35 M95.5 254.5h0.35 M110.6 267.0h0.35 M105.7 282.5h0.35 M113.6 270.0h0.35 M105.3 261.2h0.35 M107.2 287.8h0.35 M109.5 268.0h0.35 M108.3 270.8h0.35 M104.0 261.0h0.35 M113.5 281.0h0.35 M104.1 261.2h0.35 M111.9 270.5h0.35 M108.4 264.2h0.35 M113.2 263.8h0.35 M99.2 258.0h0.35 M105.3 259.2h0.35 M117.5 268.2h0.35 M118.9 269.5h0.35 M98.9 258.0h0.35 M108.9 274.5h0.35 M95.3 287.5h0.35 M113.4 273.5h0.35 M107.9 272.2h0.35 M120.1 284.0h0.35 M109.6 272.2h0.35 M89.3 258.8h0.35 M90.9 255.5h0.35 M89.7 259.5h0.35 M107.2 266.2h0.35 M108.3 260.0h0.35 M99.2 256.8h0.35 M96.7 289.2h0.35 M92.9 286.5h0.35 M96.8 255.8h0.35 M106.9 266.0h0.35 M96.8 296.5h0.35 M107.1 288.0h0.35 M102.4 259.0h0.35 M95.7 257.5h0.35 M109.6 257.8h0.35 M100.7 245.5h0.35 M105.7 283.5h0.35 M102.5 286.8h0.35 M93.3 249.5h0.35 M111.0 287.5h0.35 M111.2 259.5h0.35 M103.2 261.5h0.35 M112.5 276.0h0.35 M112.9 253.5h0.35 M113.6 282.0h0.35 M111.5 257.0h0.35 M101.7 253.2h0.35 M111.3 261.0h0.35 M105.4 257.8h0.35 M105.3 262.0h0.35 M100.8 253.0h0.35 M107.2 263.5h0.35 M114.0 277.8h0.35 M107.2 261.8h0.35 M111.5 265.5h0.35 M101.5 260.5h0.35 M106.2 257.2h0.35 M105.0 285.5h0.35 M115.8 272.0h0.35 M116.5 277.8h0.35 M110.5 268.5h0.35 M112.6 272.5h0.35 M85.7 263.8h0.35 M108.6 267.2h0.35 M111.9 272.2h0.35 M107.9 260.5h0.35 M104.3 261.5h0.35 M94.9 253.5h0.35 M109.0 282.0h0.35 M104.2 255.8h0.35 M109.0 266.8h0.35 M112.4 261.0h0.35 M107.7 254.0h0.35 M108.3 264.2h0.35 M110.8 269.0h0.35 M113.2 277.8h0.35 M93.8 254.5h0.35 M107.8 262.8h0.35 M94.2 291.0h0.35 M109.1 268.0h0.35 M119.5 265.2h0.35 M112.5 267.8h0.35 M106.2 254.5h0.35 M97.2 290.0h0.35 M99.0 257.5h0.35 M108.4 275.8h0.35 M104.4 257.2h0.35 M109.7 270.5h0.35 M108.4 254.0h0.35 M118.1 256.5h0.35 M114.2 276.2h0.35 M90.2 255.5h0.35 M113.8 269.0h0.35 M112.3 272.2h0.35 M112.0 277.5h0.35 M86.7 283.8h0.35 M110.5 278.5h0.35 M115.0 272.8h0.35 M110.0 262.5h0.35 M107.7 276.2h0.35 M93.2 258.0h0.35 M104.2 259.2h0.35 M104.2 259.0h0.35 M109.5 259.2h0.35 M108.8 260.5h0.35 M110.5 275.8h0.35 M102.7 291.2h0.35 M109.2 270.8h0.35 M98.0 288.2h0.35 M109.0 269.0h0.35 M108.2 270.5h0.35 M107.0 266.0h0.35 M117.8 255.2h0.35 M111.2 279.5h0.35 M106.5 258.2h0.35 M115.2 260.5h0.35 M102.5 241.8h0.35 M106.2 261.5h0.35 M108.5 267.0h0.35 M103.1 259.2h0.35 M104.4 257.8h0.35 M110.2 272.8h0.35 M115.8 271.2h0.35 M108.8 270.2h0.35 M84.8 261.5h0.35 M105.4 258.8h0.35 M115.3 266.8h0.35 M100.7 259.2h0.35 M92.2 257.8h0.35 M113.3 273.5h0.35 M109.5 262.2h0.35 M85.0 254.0h0.35 M100.5 287.5h0.35 M105.3 260.5h0.35 M85.8 261.2h0.35 M117.5 266.8h0.35 M107.1 280.0h0.35 M109.3 276.0h0.35 M95.3 257.0h0.35 M119.4 273.8h0.35 M115.4 262.8h0.35 M110.2 283.2h0.35 M97.3 293.5h0.35 M105.2 292.0h0.35 M113.8 276.0h0.35 M106.7 265.5h0.35 M112.9 281.0h0.35 M96.0 287.5h0.35 M109.7 264.2h0.35 M117.9 257.0h0.35 M92.4 259.0h0.35 M110.3 261.8h0.35 M108.2 261.5h0.35 M108.6 265.8h0.35 M110.0 259.0h0.35 M109.0 270.5h0.35 M106.3 255.8h0.35 M109.5 270.8h0.35 M104.5 259.0h0.35 M110.3 270.2h0.35 M109.5 258.0h0.35 M112.2 271.0h0.35 M112.5 263.8h0.35 M112.2 287.0h0.35 M87.7 257.0h0.35 M106.7 262.2h0.35 M107.2 263.2h0.35 M106.6 262.2h0.35 M111.6 261.5h0.35 M114.7 272.2h0.35 M88.5 247.5h0.35 M109.5 262.8h0.35 M113.2 263.2h0.35 M90.4 286.2h0.35 M107.3 290.5h0.35 M109.0 283.5h0.35 M85.8 285.2h0.35 M94.9 295.2h0.35 M100.2 297.0h0.35 M115.2 273.5h0.35 M115.6 252.5h0.35 M108.7 286.0h0.35 M116.2 267.0h0.35 M101.9 250.0h0.35 M98.7 256.5h0.35 M112.0 269.5h0.35 M110.1 277.2h0.35 M100.5 291.0h0.35 M108.8 283.5h0.35 M106.8 287.0h0.35 M97.8 252.5h0.35 M116.6 264.5h0.35 M117.2 282.8h0.35 M118.2 283.0h0.35 M91.5 257.8h0.35 M108.6 271.0h0.35 M99.5 258.5h0.35 M109.8 256.0h0.35 M87.1 284.5h0.35 M110.5 262.2h0.35 M113.5 287.2h0.35 M102.1 250.8h0.35 M101.0 288.5h0.35 M107.2 283.0h0.35 M85.0 266.5h0.35 M107.8 268.8h0.35 M106.3 259.2h0.35 M108.2 268.2h0.35 M108.2 278.2h0.35 M114.1 276.2h0.35 M108.1 270.8h0.35 M102.0 255.8h0.35 M104.7 259.2h0.35 M101.3 292.0h0.35 M108.5 262.2h0.35 M111.2 262.8h0.35 M113.0 263.2h0.35 M90.0 285.8h0.35 M109.4 262.8h0.35 M114.8 270.2h0.35 M111.3 263.0h0.35 M89.5 258.0h0.35 M101.2 260.0h0.35 M110.2 258.0h0.35 M85.4 282.8h0.35 M101.5 298.0h0.35 M108.0 280.8h0.35 M107.5 268.0h0.35 M112.4 271.8h0.35 M107.9 267.8h0.35 M110.5 285.5h0.35 M101.5 255.8h0.35 M107.8 251.2h0.35 M113.3 277.5h0.35 M107.8 265.8h0.35 M108.5 279.5h0.35 M91.8 288.5h0.35 M107.0 257.2h0.35 M118.7 280.0h0.35 M111.8 278.2h0.35 M108.7 273.2h0.35 M108.0 262.8h0.35 M107.9 272.0h0.35 M116.1 268.5h0.35 M108.4 254.0h0.35 M114.1 270.5h0.35 M94.3 240.2h0.35 M104.3 260.5h0.35 M111.6 275.5h0.35 M107.7 287.8h0.35 M97.6 287.0h0.35 M87.7 260.8h0.35 M84.9 242.5h0.35 M105.0 287.8h0.35 M105.5 254.8h0.35 M119.6 276.0h0.35 M103.1 257.8h0.35 M119.3 284.8h0.35 M89.6 254.5h0.35 M107.7 289.5h0.35 M103.0 255.0h0.35 M115.1 272.2h0.35 M107.7 285.8h0.35 M114.0 256.5h0.35 M108.6 263.8h0.35 M101.7 259.8h0.35 M102.3 289.2h0.35 M117.9 272.0h0.35 M89.4 287.8h0.35 M118.1 293.8h0.35 M113.4 270.2h0.35 M105.8 282.8h0.35 M109.8 267.8h0.35 M111.2 264.0h0.35 M103.4 292.8h0.35 M107.3 262.0h0.35 M85.3 262.8h0.35 M106.3 261.0h0.35 M104.2 258.0h0.35 M105.4 261.2h0.35 M118.2 259.0h0.35 M89.7 286.2h0.35 M107.2 279.8h0.35 M111.3 270.0h0.35 M116.9 283.2h0.35 M111.9 279.2h0.35 M90.1 289.8h0.35 M101.0 256.5h0.35 M106.8 259.8h0.35 M103.5 286.0h0.35 M103.9 261.5h0.35 M102.0 242.8h0.35 M101.8 258.5h0.35 M103.2 256.8h0.35 M109.9 274.0h0.35 M95.7 286.8h0.35 M109.2 264.5h0.35 M109.8 268.8h0.35 M106.7 261.8h0.35 M101.3 258.8h0.35 M109.2 253.0h0.35 M90.6 294.5h0.35 M107.8 265.2h0.35 M113.0 277.8h0.35 M110.2 272.2h0.35 M86.7 292.0h0.35 M100.0 286.0h0.35 M113.0 280.0h0.35 M103.3 261.2h0.35 M113.7 295.5h0.35 M85.0 256.5h0.35 M108.4 271.5h0.35 M110.7 267.2h0.35 M108.0 251.8h0.35 M105.2 283.8h0.35 M92.2 257.8h0.35 M122.0 267.2h0.35 M119.8 266.5h0.35 M107.1 261.0h0.35 M104.3 262.0h0.35 M108.2 281.2h0.35 M104.2 288.8h0.35 M113.9 275.2h0.35 M108.5 268.8h0.35 M97.0 257.2h0.35 M99.2 249.5h0.35 M109.1 273.2h0.35 M114.9 279.0h0.35 M104.2 285.2h0.35 M101.3 260.2h0.35 M108.9 271.5h0.35 M115.8 261.8h0.35 M99.2 255.0h0.35 M108.4 279.8h0.35 M99.0 288.8h0.35 M108.3 265.0h0.35 M120.2 279.5h0.35 M104.4 285.5h0.35 M91.7 252.8h0.35 M109.6 274.0h0.35 M118.7 260.5h0.35 M105.5 263.0h0.35 M113.0 282.0h0.35 M102.0 259.5h0.35 M94.2 286.5h0.35 M111.7 283.5h0.35 M102.1 249.2h0.35 M108.4 257.2h0.35 M110.6 292.8h0.35 M102.0 260.8h0.35 M96.2 289.5h0.35 M112.6 276.5h0.35 M107.6 267.5h0.35 M109.5 261.5h0.35 M111.2 270.0h0.35 M117.7 268.8h0.35 M86.7 257.8h0.35 M109.6 282.8h0.35 M85.7 291.5h0.35 M105.0 245.0h0.35 M109.3 284.8h0.35 M100.0 292.2h0.35 M110.8 273.2h0.35 M111.5 264.0h0.35 M90.8 257.5h0.35 M91.5 258.2h0.35 M101.7 292.8h0.35 M99.6 255.2h0.35 M110.3 276.8h0.35 M109.5 271.5h0.35 M112.0 267.2h0.35" stroke="#555" stroke-width="0.35" fill="none"/>
<path d="M94.8 266.5L94.2 273" stroke="#fff" stroke-width="1.3" stroke-opacity="0.9" fill="none" stroke-linecap="round"/><path d="M90.5 279.5Q93 282 96 279" stroke="#fff" stroke-width="0.8" stroke-opacity="0.7" fill="none"/>
<text x="78.40" y="240.90" font-size="6.1" text-anchor="end" fill="#1a1a1a">10<tspan font-size="3.9" dy="-2.6">5</tspan></text>
<text x="78.40" y="258.70" font-size="6.1" text-anchor="end" fill="#1a1a1a">10<tspan font-size="3.9" dy="-2.6">4</tspan></text>
<text x="78.40" y="279.40" font-size="6.1" text-anchor="end" fill="#1a1a1a">10<tspan font-size="3.9" dy="-2.6">3</tspan></text>
<text x="79.00" y="292.60" font-size="6.1" text-anchor="end" fill="#1a1a1a">0</text>
<text x="78.40" y="304.70" font-size="6.1" text-anchor="end" fill="#1a1a1a">−10<tspan font-size="3.9" dy="-2.6">3</tspan></text>
<path d="M81.40 239.00H84.00 M81.40 256.80H84.00 M81.40 277.40H84.00 M81.40 290.40H84.00 M81.40 302.50H84.00 M82.60 271.20H84.00 M82.60 267.57H84.00 M82.60 265.00H84.00 M82.60 263.00H84.00 M82.60 261.37H84.00 M82.60 259.99H84.00 M82.60 258.80H84.00 M82.60 257.74H84.00 M82.60 251.44H84.00 M82.60 248.31H84.00 M82.60 246.08H84.00 M82.60 244.36H84.00 M82.60 242.95H84.00 M82.60 241.76H84.00 M82.60 240.72H84.00 M82.60 239.81H84.00 M82.60 286.11H84.00 M82.60 294.39H84.00 M82.60 281.82H84.00 M82.60 298.39H84.00" stroke="#333" stroke-width="0.6" fill="none"/>
<rect x="81.60" y="289.30" width="2.2" height="2.2" fill="#111"/>
<text x="104.80" y="318.80" font-size="6.1" text-anchor="middle" fill="#1a1a1a">0</text>
<text x="133.40" y="318.80" font-size="6.1" fill="#1a1a1a">10<tspan font-size="3.9" dy="-2.6">4</tspan></text>
<text x="149.80" y="318.80" font-size="6.1" fill="#1a1a1a">10<tspan font-size="3.9" dy="-2.6">5</tspan></text>
<path d="M104.80 307.80V310.40 M137.20 307.80V310.40 M153.00 307.80V310.40 M141.96 307.80V309.20 M144.74 307.80V309.20 M146.71 307.80V309.20 M148.24 307.80V309.20 M149.49 307.80V309.20 M150.55 307.80V309.20 M151.47 307.80V309.20 M152.28 307.80V309.20 M111.28 307.80V309.20 M117.76 307.80V309.20 M124.24 307.80V309.20 M129.10 307.80V309.20 M132.34 307.80V309.20 M134.93 307.80V309.20 M95.44 307.80V309.20 M89.20 307.80V309.20" stroke="#333" stroke-width="0.6" fill="none"/>
<rect x="103.70" y="308.00" width="2.2" height="2.2" fill="#111"/>
<path d="M84.00 231.20V307.80H160.50" fill="none" stroke="#333" stroke-width="0.9"/>
<path d="M84.00 231.20H160.50" fill="none" stroke="#555" stroke-width="0.8"/>
<path d="M160.50 231.20V307.80" fill="none" stroke="#999" stroke-width="0.8"/>
<path d="M160.70 231.20V307.80" fill="none" stroke="#8a8a8a" stroke-width="1.3"/>
<path d="M119.50 307.80V231.20H160.70" fill="none" stroke="#3a3a3a" stroke-width="1.0"/>
<text x="155.70" y="241.90" font-size="6.3" text-anchor="end" fill="#1a1a1a">0.45</text>
<path d="M223.8 290.5l-3.8-.3 -3.2-1.4 -3.1-2.6 -1.1-1.4 -.5-1.3 -.1-1.7 .3-2.3 .6-1.7 .9-1.8 1.2-1.4 1.5-1.3 1.7-.9 1.8-.6 2-.2 2.2 .2 2 .6 2.3 1 1.7 1.2 1.4 1.4 1.1 1.8 .7 2 .1 2 -.3 2 -.8 1.7 -1.1 1.5 -1.5 1.4 -1.8 1 -2 .8z M224.5 287.3l-2.5 .1 -2.5-.8 -1.8-1.4 -1.3-2 -.3-2.2 .8-2.2 1.5-1.8 2.1-1.1 2.7-.4 2.8 .6 2.2 1.6 1.4 2.1 .2 1.2 0 1.2 -.9 2.3 -1.9 1.8z" fill="#000" fill-opacity="0.1" fill-rule="evenodd" stroke="none"/>
<path d="M224.2 284l-1.4-.4 -1.3-1.4 0-1.2 .7-.7 .8-.2 1 .1 1 .6 .5 .7 .2 1 -.2 .7 -.5 .6z M224.8 284.5l-1.3 .2 -1.3-.3 -1.2-.6 -.7-.8 -.5-1 0-1 .4-1 .8-.7 1.2-.6 1.3 0 1.3 .4 1 .9 .6 1.2 0 1.6 -.6 1.1z M224.8 285.1l-1.6 .1 -1.7-.3 -1.3-.7 -.9-1 -.4-1.2 0-1.2 .6-1.3 1-.9 1.7-.7 1.8 .1 1.5 .6 1.2 1.2 .5 1.4 -.2 1.8 -.8 1.2z M223.5 285.8l-2-.3 -1.5-.7 -1.1-1 -.7-1.6 0-1.7 .8-1.5 1.2-1 1.8-.7 2 0 1.8 .7 1.3 1.2 .7 1.6 0 1.7 -.9 1.7 -1.4 1.1z M224.8 286l-2 .2 -2-.4 -1.6-.9 -1.2-1.4 -.5-1.5 .2-1.8 .8-1.4 1.5-1.3 2.2-.7 2.3 .1 2 1 1.5 1.6 .5 2 -.5 2 -1.2 1.5z M224.5 286.5l-2.3 .1 -2-.5 -1.7-1.2 -1.1-1.7 -.4-2 .5-1.7 1-1.5 1.7-1.1 2.6-.6 2.4 .4 2 1.1 1.4 2 .3 2.2 -.7 2 -1.4 1.5z M223.8 287l-2.6-.2 -2-.8 -1.6-1.5 -1-2 0-2 .9-2 1.7-1.6 2.3-.9 2.5 0 2.5 .8 1.9 1.7 .9 2 0 2.3 -1.1 2 -2 1.5z M224.5 287.3l-2.5 .1 -2.5-.8 -1.8-1.4 -1.3-2 -.3-2.2 .8-2.2 1.5-1.8 2.1-1.1 2.7-.4 2.8 .6 2.2 1.6 1.4 2.1 .2 1.2 0 1.2 -.9 2.3 -1.9 1.8z M224.8 287.6l-2.8 .1 -2.5-.7 -2.1-1.5 -1.3-2 -.4-2.3 .6-2.2 1.5-1.9 2.2-1.4 2.8-.5 3 .5 2.4 1.5 1 1 .7 1.3 .3 2.5 -.3 1.2 -.6 1.3 -1.8 1.9z M223.8 288l-2.8-.2 -2.8-1.2 -1.8-1.8 -1-2.3 .1-2.5 1.2-2.2 2.1-1.9 2.7-1 3.3 .1 2.7 1.2 2 1.8 .7 1.2 .3 1.3 -.1 2.5 -.5 1.2 -.9 1.3 -2.2 1.7z M224.2 288.3l-3-.1 -2.7-1 -2.2-2 -.7-1.2 -.5-1.2 0-2.6 1.1-2.4 2-1.9 2.8-1.2 3.2-.1 3 1 1.3 .9 1.2 1.3 1.1 2.4 .1 1.6 -.2 1.2 -.4 1.2 -.9 1.3 -1.2 1.1 -1.2 .8z M224.5 288.5l-3.3 0 -3-1.2 -2.1-1.8 -.8-1.3 -.5-1.2 -.1-1.2 .1-1.6 1-2.4 2.2-2.2 2.8-1.2 1.7-.2 1.7 .1 3 1 1.3 .8 1.2 1.1 .8 1.3 .6 1.5 0 2.8 -.5 1.4 -.8 1.3 -2.3 2z M224.5 288.8l-3.3-.1 -3-1 -2.3-1.9 -.8-1.3 -.5-1.3 -.2-2.7 .4-1.5 .7-1.2 2-2.2 3-1.4 3.3-.2 2 .4 1.4 .6 1.6 .9 1.1 1.1 .8 1.2 .6 1.6 .3 1.4 -.2 1.6 -.5 1.4 -.7 1.3 -1.2 1.3 -1.2 .8 -1.6 .7z M224.5 289l-1.7 .1 -1.8-.1 -3-1.2 -2.5-2 -1.2-2.6 -.3-1.4 .1-1.6 .5-1.4 .7-1.3 .9-1.2 1.3-1.1 3-1.3 1.7-.3 1.8 .1 1.8 .4 1.7 .7 1.5 1 1.2 1.2 .9 1.2 .6 1.6 .2 1.7 -.2 1.5 -.5 1.5 -.8 1.3 -1.2 1.1 -1.4 1.1 -1.6 .6z M224.5 289.3l-3.5-.1 -3-1.1 -1.5-1 -1.1-1.1 -1-1.5 -.5-1.3 -.2-1.4 .1-1.6 1.1-2.7 1-1.3 1.3-1.2 3-1.4 1.8-.3 2 .1 2 .5 1.5 .6 1.5 .9 1.2 1.2 1.1 1.4 .6 1.5 .2 1.5 -.1 1.8 -.4 1.4 -.9 1.6 -1.2 1.2 -1.5 1.1 -1.8 .8z M224.5 289.5l-3.5 0 -3.2-1.2 -2.6-2.1 -.9-1.2 -.6-1.5 -.3-1.5 .1-1.8 .4-1.4 .8-1.6 1-1.2 1.3-1.2 3-1.4 1.8-.3 2 0 1.7 .3 2 .8 1.5 .9 1.5 1.3 1.1 1.6 .6 1.5 .2 1.5 -.1 1.8 -.4 1.4 -1.1 1.8 -1.3 1.4 -1.5 1 -1.8 .7z M224.5 289.8l-1.7 .1 -2-.3 -3.3-1.2 -2.6-2.2 -1.1-1.4 -.5-1.3 -.2-1.5 .1-1.8 .5-1.7 .8-1.5 2.3-2.4 1.7-1 1.5-.6 2-.3 2 .1 2.2 .6 1.8 .7 1.5 1 1.4 1.4 1 1.5 .6 1.5 .2 1.5 -.1 1.8 -.5 1.7 -.9 1.5 -1.4 1.5 -1.6 1 -2 .9z M224.2 290l-3.4-.1 -1.8-.5 -1.8-.8 -1.4-1.1 -1.5-1.5 -1-1.5 -.4-1.3 -.1-1.7 .2-1.7 .5-1.8 .9-1.5 1.1-1.3 1.5-1.2 1.8-.9 1.4-.5 2-.2 2.3 .2 2 .5 1.7 .8 1.8 1.3 1.2 1.3 1 1.5 .6 1.8 .2 1.7 -.2 1.7 -.7 1.8 -1 1.5 -1.3 1.3 -1.8 1.1 -1.8 .7z M224 290.3l-3.5-.2 -1.7-.6 -1.8-.8 -1.6-1.2 -1.5-1.5 -1-1.5 -.4-1.3 -.1-1.7 .3-2 .6-1.7 .8-1.6 1.3-1.4 1.6-1.2 1.8-.9 1.7-.5 2-.2 2.3 .3 2 .6 2 1 1.4 1.1 1.4 1.5 1 1.7 .5 1.8 .1 2 -.3 1.8 -.8 1.7 -.9 1.3 -1.4 1.3 -1.8 1.1 -2 .7z M223.8 290.5l-3.8-.3 -3.2-1.4 -3.1-2.6 -1.1-1.4 -.5-1.3 -.1-1.7 .3-2.3 .6-1.7 .9-1.8 1.2-1.4 1.5-1.3 1.7-.9 1.8-.6 2-.2 2.2 .2 2 .6 2.3 1 1.7 1.2 1.4 1.4 1.1 1.8 .7 2 .1 2 -.3 2 -.8 1.7 -1.1 1.5 -1.5 1.4 -1.8 1 -2 .8z M223.5 290.8l-3.5-.4 -3.2-1.3 -2-1.3 -1.8-1.8 -1.1-1.5 -.4-1 .1-2 .5-2.7 .6-1.8 1-1.8 1.3-1.5 1.5-1.2 1.7-.9 1.8-.5 2.2-.1 2.3 .4 2.3 .7 2.2 1.2 1.8 1.4 1.3 1.5 1 1.8 .5 1.8 .2 2 -.4 2 -.7 1.7 -1.3 1.7 -1.6 1.5 -1.8 1 -2 .7z M225.2 290.8l-3.4 .1 -3.6-.8 -2.7-1.5 -5-4 -.7 0 -2.6 .8 -2 .2 -2.2-.5 -.5-.3 -.2-.6 .7-.7 2-.5 2 0 2.5 .5 .7-.2 .8-1.6 .9-4.2 .9-2.7 1.1-1.8 1.9-1.5 2-1 2-.4 2 0 2.2 .5 4.2 1.8 3 2.3 2 2.8 .6 1.7 .3 1.6 -.1 1.7 -.4 1.7 -.8 1.6 -1.1 1.4 -1.5 1.4 -1.4 1z M207 273.5l-1.2 .1 -.6-.6 .8-.6 1.2 0 .6 .3 -.1 .3z M225.2 291l-3.4 .2 -3.6-.8 -2.4-1.3 -3.3-2.5 -1.3-.6 -6.7 .3 -2.5-.4 -1.5-.8 -.4-.6 0-.5 1.1-1.1 3-.8 5.3-.3 .7-.6 .4-1 .3-2.4 -.4-1.4 -1-.6 -3.5-.4 -1.8-.6 -.6-.6 -.4-.7 .2-.7 .4-.7 1.2-.9 2-.8 5-.8 5-1.3 2.8-.2 2 .3 2 .8 4.2 2.4 2.5 1.9 2 2.3 1.4 2.7 .5 2.7 -.5 2.8 -1.2 2.5 -1.9 2 -2.6 1.6z M225.2 291.3l-3.2 .1 -3.2-.6 -2.3-.9 -3.7-2.5 -1.3-.6 -5.3 .2 -2.7-.1 -2.7-.7 -1.8-.9 -.5-.8 .1-.7 1.4-1.3 3.2-1.2 5.3-.8 .5-.3 .3-.4 -.1-.9 -.5-.7 -4.7-1.6 -2.1-1.4 -.5-.7 -.2-1 .3-1 .6-1 1.7-1.4 2.7-1.3 6.3-1.8 4-.9 2.7-.2 2.3 .3 2.2 .9 1.8 1.2 5.2 5 1.8 2.2 1.4 2.7 .5 3.3 -.3 1.7 -.6 1.8 -1.8 2.8 -1.5 1.3 -1.7 1z M225.2 291.5l-3.2 .2 -3.2-.6 -2.3-.9 -3.5-2.2 -1.2-.5 -5.8 0 -3-.2 -3.2-.7 -2-1.1 -.7-1.3 .2-.7 .5-.6 1.4-1.1 3.6-1.6 1-.7 -.2-.7 -2.8-2.1 -1.3-1.7 -.2-1 0-1 1.1-2 2.1-1.9 3.3-1.7 5.4-2.1 4.6-1.1 3.2-.3 2.8 .2 2.7 .9 2.3 1.5 1.8 2 5.1 7.5 1 2.8 .3 3 -.8 3.2 -1 1.8 -1.2 1.3 -1.5 1.3 -1.7 1z M196.5 282.7l3.1-2.5 .5-.7 -.2-.7 -2.1-2.8 -.5-1.8 .1-1.2 .4-1.2 1.8-2.3 3.4-2.5 5-2.4 5.5-1.9 4.5-.8 3.2 .1 3 .8 2.8 1.3 2.2 1.9 1.3 1.6 1 1.9 3.1 7.3 .8 3.4 -.1 2 -.5 2 -.9 2 -1.4 1.8 -1.5 1.4 -2 1.2 -2 .8 -2.2 .5 -3.3 0 -2.7-.5 -2.6-1 -3.4-2 -1.3-.4 -6.3 0 -4.4-.6 -2.6-.8 -1.7-1.1 M196.5 270.6l2.1-2.4 2.9-2.1 4-2.3 4.5-1.9 3.8-1.2 3.4-.6 3.3-.1 3 .5 2.7 .9 2.4 1.4 2.2 1.8 1.6 2.2 1 2 .7 2 1.5 7.2 .3 2.5 -.2 2 -.6 2 -1 2 -1.1 1.5 -1.5 1.4 -2 1.3 -2.3 .9 -2.2 .6 -2.5 .1 -2.5-.2 -3-.9 -5-2.4 -10-.6 -3.2-.8 -2.3-1 M196.5 281.1l.7-.9 .2-.7 -.9-1.8 M196.5 268l2.7-2.3 3.6-2.3 4.4-2.3 4.3-1.7 3.5-.9 3.2-.4 3.3 .1 3 .5 3 1.1 2.7 1.7 2.3 2 1.9 2.5 1.1 2.5 .8 2.7 .3 7.8 -.2 2.5 -.5 2.3 -.8 2 -1.2 1.7 -1.7 1.8 -2 1.4 -2 1 -2.4 .7 -3 .3 -3-.3 -2.8-.7 -5.2-2.2 -9.8-.8 -3.2-.8 -2.3-.8" fill="none" stroke="#000" stroke-width="0.5" stroke-linejoin="round"/>
<path d="M217.1 292.5h0.35 M225.5 294.8h0.35 M220.0 293.5h0.35 M237.9 284.5h0.35 M235.0 287.2h0.35 M219.7 294.5h0.35 M209.6 257.8h0.35 M230.3 293.8h0.35 M241.3 293.5h0.35 M230.2 290.8h0.35 M236.7 287.2h0.35 M235.7 286.5h0.35 M235.2 285.8h0.35 M212.3 290.5h0.35 M214.6 291.2h0.35 M228.5 291.8h0.35 M227.6 299.2h0.35 M229.1 293.5h0.35 M214.9 292.5h0.35 M210.3 298.2h0.35 M236.1 284.2h0.35 M236.7 282.0h0.35 M230.3 292.2h0.35 M237.5 274.8h0.35 M238.5 273.5h0.35 M232.2 291.2h0.35 M214.3 290.8h0.35 M214.5 295.2h0.35 M218.8 292.5h0.35 M231.8 291.2h0.35 M235.2 291.0h0.35 M235.3 285.5h0.35 M239.1 262.5h0.35 M238.1 283.2h0.35 M232.9 292.8h0.35 M239.9 283.5h0.35 M232.8 289.2h0.35 M227.4 256.8h0.35 M219.3 294.0h0.35 M236.8 281.8h0.35 M239.2 286.0h0.35 M225.2 294.5h0.35 M229.7 291.2h0.35 M235.0 294.0h0.35 M227.4 292.5h0.35 M219.5 293.2h0.35 M237.7 278.5h0.35 M236.3 291.5h0.35 M229.3 291.2h0.35 M217.5 294.5h0.35 M234.2 289.0h0.35 M217.0 292.2h0.35 M237.9 276.2h0.35 M234.4 289.5h0.35 M233.7 288.0h0.35 M237.2 281.5h0.35 M226.2 293.8h0.35 M209.6 289.5h0.35 M221.0 297.2h0.35 M205.2 292.2h0.35 M226.9 292.2h0.35 M226.8 292.5h0.35 M224.4 292.8h0.35 M237.7 281.5h0.35 M237.7 290.2h0.35 M238.9 285.0h0.35 M233.8 289.8h0.35 M238.7 278.8h0.35 M231.2 296.5h0.35 M236.1 284.2h0.35 M223.0 292.8h0.35 M235.2 287.2h0.35 M220.2 294.5h0.35 M219.6 292.8h0.35 M236.5 280.8h0.35 M230.3 294.0h0.35 M225.4 295.8h0.35 M215.8 295.0h0.35 M214.8 292.0h0.35 M238.1 281.2h0.35 M238.0 283.2h0.35 M233.0 295.2h0.35 M216.9 291.8h0.35 M238.0 282.8h0.35 M229.3 294.5h0.35 M228.2 292.5h0.35 M214.7 292.0h0.35 M239.0 289.2h0.35 M211.5 290.0h0.35 M239.1 285.0h0.35 M236.7 274.0h0.35 M221.9 294.5h0.35 M230.3 290.8h0.35 M215.0 291.8h0.35 M197.8 288.0h0.35 M223.8 293.2h0.35 M239.3 271.2h0.35 M234.1 289.2h0.35 M241.3 272.5h0.35 M237.5 280.2h0.35 M228.0 296.5h0.35 M217.4 292.8h0.35 M212.8 290.2h0.35 M213.8 291.5h0.35 M219.0 294.5h0.35 M235.5 288.5h0.35 M208.5 292.2h0.35 M227.2 292.8h0.35 M237.7 288.8h0.35 M238.3 291.2h0.35 M232.8 293.2h0.35 M222.7 295.0h0.35 M238.0 281.5h0.35 M222.8 295.5h0.35 M229.2 257.5h0.35 M224.6 293.2h0.35 M223.1 293.8h0.35 M244.5 280.8h0.35 M233.7 290.0h0.35 M225.6 293.8h0.35 M234.6 265.0h0.35 M218.4 292.5h0.35 M229.3 293.5h0.35 M231.3 291.2h0.35 M228.6 293.0h0.35 M239.4 284.5h0.35 M237.4 283.5h0.35 M235.6 289.0h0.35 M237.2 282.8h0.35 M237.4 288.5h0.35 M212.0 296.0h0.35 M216.7 292.0h0.35 M233.6 288.5h0.35 M236.2 286.2h0.35 M223.6 296.0h0.35 M211.7 290.5h0.35 M228.3 297.2h0.35 M232.4 291.2h0.35 M211.2 291.5h0.35 M224.9 294.8h0.35 M220.0 293.2h0.35 M229.0 292.0h0.35 M211.5 290.2h0.35 M223.5 294.5h0.35 M211.9 290.0h0.35 M223.6 295.2h0.35 M238.1 277.0h0.35 M213.6 290.2h0.35 M201.7 291.5h0.35 M221.2 296.0h0.35 M236.7 285.5h0.35 M220.4 293.8h0.35 M224.4 292.8h0.35 M224.5 293.0h0.35 M218.9 292.5h0.35 M225.4 296.8h0.35 M234.3 288.2h0.35 M231.7 289.8h0.35 M236.4 283.8h0.35 M237.5 275.5h0.35 M239.2 284.0h0.35 M231.8 295.0h0.35 M225.7 294.0h0.35 M237.0 279.8h0.35 M226.8 292.2h0.35 M208.8 291.0h0.35 M215.2 292.2h0.35 M218.3 292.8h0.35 M234.3 287.5h0.35 M228.4 296.2h0.35 M214.2 290.8h0.35 M218.2 292.5h0.35 M225.8 292.5h0.35 M236.6 283.0h0.35 M237.4 276.5h0.35 M212.1 290.0h0.35 M230.9 293.2h0.35 M225.5 293.8h0.35 M231.7 293.0h0.35 M237.3 279.8h0.35 M227.4 295.0h0.35 M217.7 293.8h0.35 M223.3 294.5h0.35 M213.4 291.5h0.35 M232.4 295.0h0.35 M238.2 275.0h0.35 M240.6 272.5h0.35 M240.6 269.2h0.35 M238.3 285.5h0.35 M235.6 285.5h0.35 M239.0 283.0h0.35 M212.3 292.0h0.35 M238.8 274.0h0.35 M209.0 292.2h0.35 M236.7 282.2h0.35 M224.9 292.8h0.35 M237.8 269.8h0.35 M236.2 287.5h0.35 M232.6 295.5h0.35 M232.5 291.5h0.35" stroke="#555" stroke-width="0.35" fill="none"/>
<circle cx="224.6" cy="283" r="1.3" fill="#fff" fill-opacity="0.9"/>
<text x="190.40" y="240.90" font-size="6.1" text-anchor="end" fill="#1a1a1a">10<tspan font-size="3.9" dy="-2.6">5</tspan></text>
<text x="190.40" y="258.70" font-size="6.1" text-anchor="end" fill="#1a1a1a">10<tspan font-size="3.9" dy="-2.6">4</tspan></text>
<text x="190.40" y="279.40" font-size="6.1" text-anchor="end" fill="#1a1a1a">10<tspan font-size="3.9" dy="-2.6">3</tspan></text>
<text x="191.00" y="292.60" font-size="6.1" text-anchor="end" fill="#1a1a1a">0</text>
<text x="190.40" y="304.70" font-size="6.1" text-anchor="end" fill="#1a1a1a">−10<tspan font-size="3.9" dy="-2.6">3</tspan></text>
<path d="M193.40 239.00H196.00 M193.40 256.80H196.00 M193.40 277.40H196.00 M193.40 290.40H196.00 M193.40 302.50H196.00 M194.60 271.20H196.00 M194.60 267.57H196.00 M194.60 265.00H196.00 M194.60 263.00H196.00 M194.60 261.37H196.00 M194.60 259.99H196.00 M194.60 258.80H196.00 M194.60 257.74H196.00 M194.60 251.44H196.00 M194.60 248.31H196.00 M194.60 246.08H196.00 M194.60 244.36H196.00 M194.60 242.95H196.00 M194.60 241.76H196.00 M194.60 240.72H196.00 M194.60 239.81H196.00 M194.60 286.11H196.00 M194.60 294.39H196.00 M194.60 281.82H196.00 M194.60 298.39H196.00" stroke="#333" stroke-width="0.6" fill="none"/>
<rect x="193.60" y="289.30" width="2.2" height="2.2" fill="#111"/>
<text x="219.50" y="318.60" font-size="6.1" text-anchor="middle" fill="#1a1a1a">0</text>
<text x="245.40" y="318.60" font-size="6.1" fill="#1a1a1a">10<tspan font-size="3.9" dy="-2.6">4</tspan></text>
<text x="261.80" y="318.60" font-size="6.1" fill="#1a1a1a">10<tspan font-size="3.9" dy="-2.6">5</tspan></text>
<path d="M219.50 307.60V310.20 M249.20 307.60V310.20 M265.00 307.60V310.20 M253.96 307.60V309.00 M256.74 307.60V309.00 M258.71 307.60V309.00 M260.24 307.60V309.00 M261.49 307.60V309.00 M262.55 307.60V309.00 M263.47 307.60V309.00 M264.28 307.60V309.00 M225.44 307.60V309.00 M231.38 307.60V309.00 M237.32 307.60V309.00 M241.77 307.60V309.00 M244.75 307.60V309.00 M247.12 307.60V309.00 M208.93 307.60V309.00 M201.88 307.60V309.00" stroke="#333" stroke-width="0.6" fill="none"/>
<rect x="218.40" y="307.80" width="2.2" height="2.2" fill="#111"/>
<path d="M196.00 231.20V307.60H273.00" fill="none" stroke="#333" stroke-width="0.9"/>
<path d="M196.00 231.20H273.00" fill="none" stroke="#555" stroke-width="0.8"/>
<path d="M273.00 231.20V307.60" fill="none" stroke="#999" stroke-width="0.8"/>
<rect x="234.40" y="232.50" width="38.20" height="73.80" fill="none" stroke="#555" stroke-width="0.9"/>
<text x="268.20" y="241.90" font-size="6.3" text-anchor="end" fill="#1a1a1a">2.88</text>
<path d="M319.2 275.6l-1.4 0 -1.2-1.1 -.2-1.3 .4-2 -.6-2 0-1.2 .5-1.8 1.1-1.4 1.2-.8 1.5-.2 1.3 .5 .9 .9 .5 1.3 0 1.5 -.6 2 -1.7 2 -.4 2.5 -.5 .6z M328.5 287.8l-6 .1 -8-.9 -4 .3 -2-.2 0-11.5 3.3 0 3.9 1.2 6.3 1.3 5 1.5 4 1.8 1.2 1 1 1.1 .3 1 -.1 1 -.5 .7 -1.1 .8z M324.8 286l-4.6 .1 -6.2-.8 -4 0 -1.5-.3 0-7.4 3 0 7.3 1.6 3.7 1 3 1.2 2.2 1.6 .4 1.2 -.9 1.1z" fill="#000" fill-opacity="0.35" fill-rule="evenodd" stroke="none"/>
<path d="M319.8 283.3l-2 .1 -7-.9 -1.2-.5 -.4-.5 0-.5 .6-.5 1.2-.3 6.2 1.1 2.7 .9 .4 .6z M308.5 280.7l.5-.6 .8-.3 2 0 7.2 1.4 1.8 .8 1 1 -.2 .5 -.8 .3 -2.8 .1 -7.8-.9 -1-.5 -.7-.8 M308.5 279.9l1-.5 1.5-.1 7.2 1.4 3.6 1.2 .7 .6 .5 .7 -.3 .6 -.9 .4 -2.8 .2 -8.5-1 -1-.2 -1-.6 M308.5 279.4l1.3-.4 1.4 0 8 1.6 3.5 1.4 .9 .8 .3 .7 -.3 .5 -.8 .4 -3 .3 -6-.7 -3.3-.2 -2-.7 M308.5 279l1.3-.3 1.4 0 8.3 1.7 3.7 1.5 1.2 .9 .4 .7 -.2 .5 -.8 .6 -3.3 .4 -6.7-.8 -3.6-.1 -1.7-.6 M308.5 278.7l1.3-.3 1.4 .1 9.3 1.9 3.7 1.6 1.1 1 .2 .8 -.3 .5 -1 .6 -3.2 .4 -7.2-.8 -3.6-.2 -1.7-.5 M308.5 278.4l2.7-.2 9.8 2.1 3.8 1.7 1.2 1 .2 .8 -.3 .7 -.9 .5 -3.2 .5 -3-.1 -5-.7 -3.6-.1 -1.7-.4 M308.5 278.1l1.5-.2 1.5 .1 9.5 2.1 4.2 1.8 1.1 .9 .6 1 -.2 .7 -.9 .6 -1.6 .4 -2 .2 -3.2-.1 -5.2-.7 -3.6 0 -1.7-.4 M308.5 277.9l1.5-.2 1.5 .1 10.3 2.3 4.2 1.9 1.1 1 .5 1 -.4 .8 -1 .5 -3.4 .7 -3.6-.1 -5.4-.8 -3.6 0 -1.7-.4 M308.5 277.6l3 0 10.7 2.5 4.3 1.9 1.2 1 .5 1 -.3 .8 -1.1 .7 -3.6 .6 -3.4 0 -6-.8 -3.6 0 -1.7-.3 M308.5 277.4l1.5-.2 1.8 .2 11.2 2.7 2.5 1 1.9 1.1 1 1 .3 1 -.3 .8 -1.2 .7 -3.7 .6 -4.3-.1 -5.3-.7 -3.9 0 -1.5-.3 M308.5 277.2l3 0 11.5 2.7 2.5 1 2.3 1.2 1.2 1.1 .3 1 -.3 .8 -1 .8 -1.8 .5 -2.2 .2 -3.8 0 -6-.8 -4 .1 -1.7-.3 M308.5 277l1.5-.2 1.8 .2 11.7 2.9 2.5 1 2.2 1.2 1.3 1.1 .4 1 -.4 1 -1 .7 -1.5 .5 -2.2 .3 -4 0 -6.6-.8 -4 .1 -1.7-.3 M320 269l-.9 0 -.4-.8 .2-1 .9-.5 .7 .3 .3 .5 -.2 1z M308.5 276.8l1.5-.2 1.8 .2 12.2 3.1 2.5 1 2.3 1.2 1.2 1.1 .4 1 -.3 1 -1.1 .8 -1.8 .6 -2.2 .3 -3.8 0 -7-.9 -4 .2 -1.7-.3 M320 270l-.8 .1 -.7-.3 -.5-.7 -.2-.9 .1-1 .6-.9 .7-.5 .8-.2 1.2 .6 .4 1.3 -.4 1.5z M319 274.1l-.8 .1 -.4-.4 0-.6 .4-.5 .6-.1 .4 .4 .1 .5z M308.5 276.6l1.5-.1 1.8 .1 9.4 2.3 3.3 1 3 1.2 2 1.1 1 1 .5 1.3 -.5 1 -1 .7 -1.7 .5 -2.6 .3 -5 0 -6-.8 -4 .2 -1.7-.3 M319.5 270.8l-.7-.1 -.9-.7 -.5-1 0-1.2 .4-1.2 .6-.8 .8-.6 1-.1 .8 .3 .6 .6 .4 1 .1 1 -.9 1.8 -.7 .6z M319 274.5l-1 0 -.6-.7 .2-1 .9-.8 .7 .3 .4 .7 -.1 1z M308.5 276.4l1.7-.1 1.6 .1 9.2 2.2 4 1.2 3 1.3 2 1.1 1 1 .5 1.3 -.4 1 -1 .7 -1.9 .7 -2.2 .3 -5 0 -6.8-.8 -4 .2 -1.7-.3 M319 274.8l-1.2-.1 -.7-.9 .1-1 .9-1.6 -1-2 -.1-1.4 .4-1.3 .8-1 1-.7 1-.1 1 .3 .8 .8 .4 1 0 1.2 -.7 1.8 -2 1.7 .2 2.3 -.4 .7z M308.5 276.2l1.7-.1 1.8 .2 13 3.3 3 1.2 2.2 1.3 1.3 1.1 .5 1.3 -.3 1 -1.2 .9 -1.5 .5 -2.5 .4 -5 .1 -7.3-.9 -4 .3 -1.7-.3 M319.2 275l-.7 .2 -.7-.2 -.9-1 0-1 .6-1.8 -.7-2 -.1-1.2 .4-1.5 .9-1.2 1-.7 1.2-.2 1 .3 1 .8 .4 1 .1 1.3 -.6 2 -1.9 2 -.1 2.2z M308.5 276l1.7-.1 1.8 .2 4.1 1.1 6.1 1.4 4 1.3 3 1.2 1.8 1.1 1.1 1.3 .4 1.3 -.4 1 -1.3 .9 -1.8 .5 -2.5 .3 -4.7 0 -7.6-.8 -3.7 .2 -2-.2 M319.2 275.3l-.7 .1 -.7-.1 -1-1.1 -.2-1 .5-2 -.6-2 -.1-1.2 .4-1.5 1-1.4 1.2-.8 1.5-.2 1.1 .4 .9 1 .5 1.3 0 1.2 -.6 1.8 -1.9 2.2 0 1.8 -.3 .7z M308.5 275.8l1.7-.1 1.8 .2 3.8 1.1 6.4 1.4 4 1.2 3 1.2 2 1.2 1.4 1.5 .4 1.3 -.3 1 -1.2 .9 -1.7 .6 -2.3 .4 -5.7 0 -7.6-.9 -3.7 .3 -2-.2 M319.2 275.6l-1.4 0 -1.2-1.1 -.2-1.3 .4-2 -.6-2 0-1.2 .5-1.8 1.1-1.4 1.2-.8 1.5-.2 1.3 .5 .9 .9 .5 1.3 0 1.5 -.6 2 -1.7 2 -.4 2.5 -.5 .6z M308.5 275.6l1.7-.1 1.8 .2 3.7 1.1 7.3 1.6 4 1.2 3 1.2 1.8 1.1 1.4 1.6 .4 1.3 -.5 1.2 -1.1 .8 -1.8 .7 -2.4 .4 -5.8 0 -7.5-.9 -4 .3 -2-.2 M318.5 276l-1.3-.3 -.6-.7 -.4-.8 -.1-1 .4-2 -.6-2 .1-1.4 .5-1.8 1.3-1.5 1.4-.8 1.6-.1 1.2 .5 1 1.1 .5 1.6 -.1 1.7 -.6 1.7 -1.6 2 -.5 2.6 -.9 .9z M308.5 275.4l1.7-.1 1.8 .1 3.7 1.1 7.3 1.6 5.5 1.7 2.3 1 1.4 1 1.3 1.4 .6 1.6 -.4 1.2 -.9 .9 -2 .7 -2.6 .5 -5.4 0 -8.3-.9 -4 .3 -2-.1 M308.5 275.2l3-.1 4 1 1.3 .1 0-.2 -.7-1.2 -.3-1 .3-2.3 -.5-3 .5-2 .9-1.5 1.2-1.1 1.6-.6 1.7 .3 1.1 .6 .8 1.3 .4 1.5 -.1 1.5 -.6 1.7 -1.5 2.3 -.7 2.5 -.7 .8 -1.2 .7 .1 .3 7.7 2 4.2 1.6 1.5 1.1 1.3 1.3 .7 1.2 .2 1 -.5 1.2 -1.2 1 -2 .7 -2.5 .4 -5.5 0 -8.5-1 -4 .4 -2-.1 M308.5 274.9l2.7-.1 4.4 .7 -.1-2 .2-2 -.4-2.7 .6-2.6 1-1.4 1.3-1.2 1.6-.5 1.7 .2 1.2 .7 .8 1 .5 1.5 .1 1.5 -.4 2 -1.5 2.5 -.6 2.5 -.7 1.5 8.3 2.4 2 .9 1.6 1.1 1.4 1.6 .8 1.3 .3 1.2 -.4 1.2 -1.1 1.1 -2 .8 -2.3 .4 -3 .1 -3.7-.1 -8-1 -4.3 .4 -2-.1 M331 267.1l0-.2z M308.5 274.6l2.3-.2 3.2 .3 .7-.2 .4-2.7 -.1-3.6 1-2.7 1.2-1.5 1.6-.9 1.4-.3 1.6 .3 1.5 1.1 1 1.8 .4 1.8 .2 3.7 .9 2.5 1.1 1.2 3.9 2.4 1.7 1.6 2.7 3.6 .6 1.2 .2 1 -.3 1.2 -1.4 1.3 -2.1 .9 -2.4 .4 -6.8-.1 -8.2-1 -4.3 .4 -2-.1 M330.5 269.8l-1 .1 -1-.3 -.5-.6 -.1-.8 .4-1.2 .7-.9 .8-.6 1-.2 1.2 .6 .5 1.3 -.6 1.6z M308.5 274.3l3.5-.6 .9-.5 .3-.7 .4-2 1.8-4.5 1.4-1.9 1.7-1.2 1.7-.4 1.8 .3 1.2 .8 1.8 2 .5 .2 3.7-2 1.3-.1 1.3 .2 .9 .6 .6 .7 .6 2 -.2 2 -1.4 3.6 0 1.7 4.1 8.7 .4 1.8 -.5 1.5 -1.1 1.1 -2 1 -2.7 .6 -5.7-.1 -9.8-1.2 -4.5 .5 -2-.2 M308.5 273.7l1.3-.7 .5-.5 .6-3.3 .6-1.1 .7-.5 1.8-.8 2.4-2.8 1.8-1.3 1.3-.4 1.5-.1 1.5 .4 2.3 1.1 4.4-1.6 1.6-.1 1.4 .4 1.2 .6 .8 .9 1.1 2.3 .2 2.3 -.5 4 0 1.7 2.7 10.8 -.5 1.8 -1.4 1.3 -2.3 1.1 -2.7 .6 -4.6-.1 -11-1.5 -4.4 .4 -2.3-.1 M308.5 266.8l.7-.9 1-.6 4.6-1 2.7-1.7 1.7-.7 1.6-.2 3 .3 3.7-1.3 2.3-.4 2.2 .2 1.8 .7 1 .8 1 1.1 1.1 2.9 .3 2.2 .1 5.8 1 6 .5 4.8 -.5 2 -1.5 1.7 -2.6 1.5 -3 .8 -3.7-.1 -11.7-2.2 -1.8 0 -3.2 .4 -2.3-.1 M308.5 262.9l2.3-.5 6-.8 12-2.9 3.4 .1 2.8 1.1 1.2 1 1 1.2 .9 1.7 .5 1.7 .4 2.5 .3 6 .8 5.8 .1 3 -.3 3.4 -1.3 2.3 -1.4 1.3 -1.4 1 -3.6 1.3 -2.4 .2 -2.8-.2 -6.5-2.1 -4.5-1 -1.8-.1 -3.7 .4 -2-.1" fill="none" stroke="#000" stroke-width="0.5" stroke-linejoin="round"/>
<path d="M317.8 260.2h0.35 M318.5 297.0h0.35 M310.7 260.2h0.35 M315.2 290.0h0.35 M319.9 291.0h0.35 M315.0 261.0h0.35 M314.5 261.8h0.35 M316.8 260.8h0.35 M314.6 257.0h0.35 M339.3 268.2h0.35 M319.5 259.2h0.35 M316.6 259.5h0.35 M318.5 258.5h0.35 M329.0 258.5h0.35 M316.2 290.2h0.35 M313.5 261.5h0.35 M315.5 259.5h0.35 M341.8 285.2h0.35 M342.0 286.0h0.35 M339.0 288.2h0.35 M318.8 292.0h0.35 M310.5 258.0h0.35 M316.0 260.8h0.35 M319.8 259.8h0.35 M318.2 251.8h0.35 M314.5 258.5h0.35 M316.8 261.0h0.35 M316.3 261.0h0.35 M340.1 286.8h0.35 M309.5 262.5h0.35 M340.6 286.2h0.35 M320.0 259.0h0.35 M325.4 257.5h0.35 M318.8 260.2h0.35 M335.5 256.5h0.35 M310.7 260.8h0.35 M339.7 264.2h0.35 M312.2 289.5h0.35 M315.4 291.0h0.35 M328.3 254.8h0.35 M317.2 293.8h0.35 M312.5 289.5h0.35 M324.3 297.2h0.35 M318.8 257.2h0.35 M317.5 260.8h0.35 M345.0 272.0h0.35 M310.2 289.8h0.35 M321.0 260.0h0.35 M311.1 262.2h0.35 M314.6 259.8h0.35 M310.2 262.2h0.35 M341.9 273.2h0.35 M341.6 283.2h0.35 M308.5 289.5h0.35 M319.8 259.2h0.35 M344.0 287.2h0.35 M314.9 256.5h0.35 M340.1 286.5h0.35 M339.2 264.0h0.35 M328.1 257.5h0.35 M316.3 259.5h0.35 M318.8 255.5h0.35 M316.5 260.8h0.35 M308.9 261.2h0.35 M339.4 270.0h0.35 M315.7 255.8h0.35 M311.6 289.5h0.35 M311.0 260.2h0.35 M318.5 259.8h0.35 M315.2 291.5h0.35 M350.3 285.8h0.35 M340.1 288.8h0.35 M348.5 276.8h0.35 M313.8 259.0h0.35 M312.2 258.0h0.35 M317.7 258.5h0.35 M337.7 260.2h0.35 M319.7 258.2h0.35 M340.1 268.0h0.35 M321.1 294.5h0.35 M339.8 289.5h0.35 M321.0 260.0h0.35 M319.3 260.0h0.35 M311.8 290.0h0.35 M312.4 295.2h0.35 M342.6 286.5h0.35 M316.2 259.5h0.35 M310.5 262.2h0.35 M321.9 258.0h0.35 M311.7 261.8h0.35 M313.3 291.5h0.35 M318.7 258.8h0.35 M308.5 262.0h0.35 M340.0 287.5h0.35 M324.8 293.2h0.35 M342.1 287.2h0.35 M310.2 262.0h0.35 M339.7 288.5h0.35 M308.6 260.0h0.35 M317.0 256.8h0.35 M313.8 290.5h0.35 M339.7 265.8h0.35 M316.0 292.5h0.35 M321.0 258.5h0.35 M327.0 251.0h0.35 M343.5 274.0h0.35 M310.7 289.5h0.35 M320.7 297.5h0.35 M340.1 287.8h0.35 M319.7 256.5h0.35 M340.4 282.5h0.35 M309.5 261.0h0.35 M318.4 258.5h0.35 M320.0 290.2h0.35 M311.0 289.5h0.35 M312.3 290.2h0.35 M343.8 286.2h0.35 M317.0 289.2h0.35 M313.7 289.2h0.35 M312.7 259.5h0.35 M347.0 282.5h0.35 M323.0 291.0h0.35 M315.0 260.8h0.35 M315.8 258.2h0.35 M315.1 252.5h0.35 M324.3 256.0h0.35 M313.0 261.8h0.35 M311.5 252.2h0.35 M311.9 289.2h0.35 M314.0 289.5h0.35 M317.8 292.8h0.35 M308.9 289.8h0.35 M315.7 261.5h0.35 M309.5 290.0h0.35 M314.5 289.8h0.35 M321.0 255.5h0.35 M317.8 253.0h0.35 M329.2 258.5h0.35 M327.3 293.2h0.35 M319.5 260.8h0.35 M319.2 290.2h0.35 M308.5 260.8h0.35 M341.5 288.2h0.35 M316.9 260.8h0.35 M320.9 290.2h0.35 M339.8 274.2h0.35 M335.7 293.0h0.35 M315.0 290.2h0.35 M329.5 295.8h0.35 M319.6 260.2h0.35 M315.3 259.8h0.35 M339.0 288.2h0.35 M308.5 289.5h0.35 M315.2 261.5h0.35 M314.1 258.0h0.35 M324.2 259.2h0.35 M316.7 302.2h0.35 M319.2 260.0h0.35 M319.7 260.2h0.35 M340.2 274.0h0.35 M314.1 257.2h0.35 M311.7 258.0h0.35 M318.0 290.0h0.35 M339.7 270.5h0.35 M317.0 259.0h0.35 M334.7 291.8h0.35 M322.2 259.5h0.35 M313.5 289.2h0.35 M316.3 289.2h0.35 M327.3 256.5h0.35 M319.8 256.0h0.35 M341.1 289.8h0.35 M332.3 257.5h0.35 M336.0 258.5h0.35 M322.5 291.0h0.35 M342.7 281.0h0.35 M321.7 291.5h0.35 M338.5 291.2h0.35 M316.0 289.5h0.35 M325.0 256.2h0.35 M346.8 274.8h0.35 M315.0 259.5h0.35 M319.0 258.2h0.35 M310.5 261.8h0.35 M309.8 290.2h0.35 M334.8 293.0h0.35 M343.3 273.2h0.35 M340.5 273.0h0.35 M313.5 291.2h0.35 M340.3 284.8h0.35 M313.3 290.5h0.35 M343.0 271.2h0.35 M323.9 294.8h0.35 M309.0 289.5h0.35 M340.4 262.8h0.35 M330.2 258.0h0.35 M326.3 292.0h0.35 M319.1 255.2h0.35 M337.3 255.0h0.35 M323.2 251.8h0.35" stroke="#555" stroke-width="0.35" fill="none"/>
<path d="M313.5 281.5L323.5 283.8" stroke="#fff" stroke-width="1.3" stroke-opacity="0.85" fill="none" stroke-linecap="round"/><ellipse cx="319.6" cy="268" rx="1.5" ry="2.2" transform="rotate(20 319.6 268)" fill="#fff" fill-opacity="0.85"/>
<text x="302.40" y="240.90" font-size="6.1" text-anchor="end" fill="#1a1a1a">10<tspan font-size="3.9" dy="-2.6">5</tspan></text>
<text x="302.40" y="258.70" font-size="6.1" text-anchor="end" fill="#1a1a1a">10<tspan font-size="3.9" dy="-2.6">4</tspan></text>
<text x="302.40" y="279.40" font-size="6.1" text-anchor="end" fill="#1a1a1a">10<tspan font-size="3.9" dy="-2.6">3</tspan></text>
<text x="303.00" y="292.60" font-size="6.1" text-anchor="end" fill="#1a1a1a">0</text>
<text x="302.40" y="304.70" font-size="6.1" text-anchor="end" fill="#1a1a1a">−10<tspan font-size="3.9" dy="-2.6">3</tspan></text>
<path d="M305.40 239.00H308.00 M305.40 256.80H308.00 M305.40 277.40H308.00 M305.40 290.40H308.00 M305.40 302.50H308.00 M306.60 271.20H308.00 M306.60 267.57H308.00 M306.60 265.00H308.00 M306.60 263.00H308.00 M306.60 261.37H308.00 M306.60 259.99H308.00 M306.60 258.80H308.00 M306.60 257.74H308.00 M306.60 251.44H308.00 M306.60 248.31H308.00 M306.60 246.08H308.00 M306.60 244.36H308.00 M306.60 242.95H308.00 M306.60 241.76H308.00 M306.60 240.72H308.00 M306.60 239.81H308.00 M306.60 286.11H308.00 M306.60 294.39H308.00 M306.60 281.82H308.00 M306.60 298.39H308.00" stroke="#333" stroke-width="0.6" fill="none"/>
<rect x="305.60" y="289.30" width="2.2" height="2.2" fill="#111"/>
<text x="328.80" y="318.60" font-size="6.1" text-anchor="middle" fill="#1a1a1a">0</text>
<text x="357.40" y="318.60" font-size="6.1" fill="#1a1a1a">10<tspan font-size="3.9" dy="-2.6">4</tspan></text>
<text x="373.80" y="318.60" font-size="6.1" fill="#1a1a1a">10<tspan font-size="3.9" dy="-2.6">5</tspan></text>
<path d="M328.80 307.60V310.20 M361.20 307.60V310.20 M377.00 307.60V310.20 M365.96 307.60V309.00 M368.74 307.60V309.00 M370.71 307.60V309.00 M372.24 307.60V309.00 M373.49 307.60V309.00 M374.55 307.60V309.00 M375.47 307.60V309.00 M376.28 307.60V309.00 M335.28 307.60V309.00 M341.76 307.60V309.00 M348.24 307.60V309.00 M353.10 307.60V309.00 M356.34 307.60V309.00 M358.93 307.60V309.00 M319.44 307.60V309.00 M313.20 307.60V309.00" stroke="#333" stroke-width="0.6" fill="none"/>
<rect x="327.70" y="307.80" width="2.2" height="2.2" fill="#111"/>
<path d="M308.00 231.20V307.60H385.40" fill="none" stroke="#333" stroke-width="0.9"/>
<path d="M308.00 231.20H385.40" fill="none" stroke="#555" stroke-width="0.8"/>
<path d="M385.40 231.20V307.60" fill="none" stroke="#999" stroke-width="0.8"/>
<path d="M385.60 231.20V307.60" fill="none" stroke="#8a8a8a" stroke-width="1.3"/>
<path d="M339.60 307.60V231.20H385.60" fill="none" stroke="#3a3a3a" stroke-width="1.0"/>
<text x="380.60" y="241.90" font-size="6.3" text-anchor="end" fill="#1a1a1a">3.38</text>
<path d="M436.5 288l-3 .2 -2.3-.3 -1.4-.8 -.8-1.1 .4-1.8 2-3.2 .1-1 -.4-3 .2-2.2 .8-2.6 1.5-2.7 1.9-2.5 2.3-2.1 2.4-1.8 3-1.5 2.8-.8 3-.3 2.5 .4 2 .9 1.5 1.2 1 1.5 .6 2 .1 2 -.8 3.7 -3.2 7.6 -2.5 2.6 -4 2.5 -4.7 2z" fill="#000" fill-opacity="0.3" fill-rule="evenodd" stroke="none"/>
<path d="M436.5 288l-3 .2 -2.3-.3 -1.4-.8 -.8-1.1 .4-1.8 2-3.2 .1-1 -.4-3 .2-2.2 .8-2.6 1.5-2.7 1.9-2.5 2.3-2.1 2.4-1.8 3-1.5 2.8-.8 3-.3 2.5 .4 2 .9 1.5 1.2 1 1.5 .6 2 .1 2 -.8 3.7 -3.2 7.6 -2.5 2.6 -4 2.5 -4.7 2z M439.2 285l-1.7 .2 -1.5-.1 -.8-.3 -.5-.8 .2-1 1.4-2.8 -.1-1 -.9-2.2 -.1-1.5 .3-2 .9-2.3 1.1-1.7 1.5-1.6 1.8-1.4 2-1.2 2-.7 2-.3 2 .1 1.4 .5 1.2 .9 .9 1.2 .4 1.5 .1 1.7 -.7 2.6 -2.6 4.3 -.9 2.9 -1.4 1.4 -2.7 1.8 -2.5 1.1z" fill="#000" fill-opacity="0.2" fill-rule="evenodd" stroke="none"/>
<path d="M443 276.3l-1.7-.3 -1-1 -.3-1.5 .5-1.5 1.3-1.6 1.7-1.1 1.7-.5 1.6 .3 .7 .7 .4 1 0 1 -.5 1.2 -.9 1.2 -1.1 1 -1.2 .7z M446.2 279.3l-.4 .1 -.6-.3 -.4-1.3 -.3-.2 -2.5 .1 -1.7-.7 -1.1-1.1 -.4-1.4 .5-2.3 1.6-2.2 2.3-1.7 2.6-.6 1.4 .2 1 .6 .7 1 .2 1 -.1 1.3 -.6 1.4 -2.6 3.6 -.1 .4 1 1.3z M440.8 282.5l-1 0 -.4-.5 1.3-2.2 0-.8 -1.9-2 -.8-1.5 0-1.7 .6-1.8 1.8-2.5 2.6-1.8 2.8-.8 1.2 0 1.1 .3 .9 .6 .7 1 .3 2 -.8 2.4 -2.2 3.3 .3 2 -.2 .7 -.6 .7 -2 .5 -2 1.5z M440.5 283.3l-1.7 .1 -.8-.6 .1-.8 1-1.8 .2-.7 -.2-.7 -1.3-1.9 -.5-1.4 .1-1.7 .7-2 2.1-2.8 2.8-2 3-.8 1.5 .1 1.3 .4 1 .7 .5 .8 .4 1.3 0 1.3 -.8 2.4 -2.2 3.3 -.2 2.9 -.7 .8 -1.8 .9 -1.8 1.1z M438.8 284l-1.4-.2 -.5-.8 1.4-3.2 -.1-.8 -1.3-2.2 -.3-1.6 .3-2 1-2.2 2.4-2.8 3.2-1.9 1.7-.5 1.6-.2 1.4 .2 1.3 .5 1 .9 .5 1 .3 1.3 0 1.3 -.8 2.4 -2.3 3.6 -.1 2 -.4 1 -.9 .9 -4 2.3 -2 .7z M440 284.3l-2.8 .1 -.8-.4 -.3-.5 .2-1 1.2-2.5 0-.8 -1.1-2.2 -.3-1.5 .2-2 .8-2 1-1.5 1.4-1.6 1.5-1.2 1.8-1 2-.8 1.7-.3 1.5 .1 1.5 .5 1.1 .8 .8 1 .4 1.5 0 1.5 -.8 2.7 -2.4 3.8 -.5 2.8 -1.1 1.1 -3 1.9 -2 .9z M439 284.8l-2.5-.1 -.7-.3 -.4-.6 .2-1 1.3-2.8 -.1-.8 -1-2.2 -.2-1.5 .3-2 .9-2.3 1.2-1.7 1.4-1.5 1.8-1.4 1.8-1 2-.7 1.8-.2 1.7 .1 1.5 .5 1 .8 .9 1.1 .4 1.6 0 1.4 -.9 3 -2.4 4 -.6 2.6 -1.2 1.3 -3.2 2 -2.5 1.1z M439.2 285l-1.7 .2 -1.5-.1 -.8-.3 -.5-.8 .2-1 1.4-2.8 -.1-1 -.9-2.2 -.1-1.5 .3-2 .9-2.3 1.1-1.7 1.5-1.6 1.8-1.4 2-1.2 2-.7 2-.3 2 .1 1.4 .5 1.2 .9 .9 1.2 .4 1.5 .1 1.7 -.7 2.6 -2.6 4.3 -.9 2.9 -1.4 1.4 -2.7 1.8 -2.5 1.1z M437.8 285.5l-2.7-.3 -.7-.4 -.3-.8 .3-1 1.4-2.8 -.9-3.2 -.1-1.8 .5-2.4 1.1-2.3 1.4-1.8 1.7-1.7 2-1.4 2-1 2-.5 2.3-.2 1.7 .2 1.5 .7 1.2 1.2 .7 1.2 .3 1.6 -.1 1.7 -.8 2.5 -2.3 4 -1.3 3.2 -1.7 1.7 -3.2 1.9 -3 1.2z M438 285.8l-1.8 0 -1.4-.2 -1-.6 -.3-.8 .3-1 1.4-2.7 0-1 -.8-2.5 0-1.8 .5-2.2 1-2.2 1.4-2 1.7-1.7 2-1.5 2.2-1.2 2.3-.7 2-.2 1.7 .2 1.8 .6 1.2 1 1 1.5 .4 1.4 0 1.8 -.9 3 -2.3 4 -1.3 3.2 -1.6 1.7 -3.3 2 -3.2 1.2z M438 286l-2 .1 -1.5-.2 -1-.5 -.5-.9 .2-1 1.6-3 -.1-1 -.7-2.5 0-1.8 .6-2.4 1.1-2.3 1.5-2 1.8-1.8 2.2-1.6 2-1 2.3-.7 2.3-.3 2 .3 1.7 .8 1.2 1 .8 1.3 .4 1.7 0 1.8 -.9 3 -2.2 4 -1.4 3.2 -1.6 1.8 -3 1.9 -3.3 1.3z M437.8 286.3l-2 .1 -1.8-.3 -1.1-.6 -.4-.7 .3-1.3 1.6-3 -.7-3.5 0-1.8 .5-2.2 1.2-2.5 1.4-2 2-1.9 2.2-1.7 2.2-1.1 2.3-.7 2.5-.3 2 .3 1.8 .8 1.2 1.1 .8 1.2 .5 1.8 0 1.8 -.9 3.2 -2.2 3.9 -1.3 3.1 -1.8 2 -3.1 2 -3.5 1.4z M437.5 286.5l-2 .1 -1.7-.2 -1.3-.6 -.5-.8 .2-1.2 1.8-3.3 -.7-3.3 0-2 .7-2.4 1.2-2.6 1.7-2.2 1.9-1.8 2.2-1.6 2.5-1.2 2.5-.7 2.2-.2 2 .3 1.8 .8 1.2 1.1 .9 1.3 .5 1.8 0 2 -.9 3.2 -3.4 7 -2.1 2.2 -3.2 2 -3.5 1.4z M437.2 286.8l-2.2 .1 -1.8-.3 -1.1-.6 -.5-1 .2-1.2 1.7-3 .1-1 -.6-2.8 0-1.8 .6-2.4 1.3-2.6 1.7-2.2 2.2-2.1 2.2-1.6 2.5-1.2 2.5-.7 2.2-.2 2.3 .3 1.7 .8 1.3 1.1 .9 1.4 .5 1.7 0 2 -.8 3.3 -3.5 7.2 -2.1 2.2 -3.5 2.2 -3.8 1.5z M436.8 287l-2.3 .1 -1.7-.3 -1.1-.6 -.6-1 .2-1.2 1.9-3.2 0-1 -.5-2.8 .1-2 .6-2.5 1.5-2.7 1.8-2.3 2.1-1.9 2.4-1.7 2.3-1.1 2.5-.7 2.5-.2 2 .3 2 .9 1.3 1.1 .9 1.6 .5 1.7 0 2 -.8 3.3 -3.4 7.2 -2.2 2.3 -3.8 2.3 -4 1.6z M436.5 287.3l-2.3 0 -2-.3 -1.1-.8 -.4-1 .2-1.2 1.9-3.2 -.5-3.8 .1-2 .7-2.5 1.5-2.7 1.7-2.3 2.2-2 2.3-1.6 2.7-1.3 2.5-.8 2.5-.2 2.3 .3 2 .9 1.3 1.2 .9 1.5 .5 1.7 0 2 -.9 3.6 -3.3 7.2 -2.3 2.4 -3.8 2.3 -4.4 1.7z M435.8 287.5l-2.3 0 -1.7-.4 -1.2-.9 -.4-1 .4-1.2 1.9-3.2 -.5-3.8 .2-2.2 .9-2.8 1.5-2.8 1.9-2.2 2.3-2 2.4-1.7 2.8-1.2 2.8-.6 2.2-.1 2 .3 2 .9 1.3 1.2 1 1.4 .5 1.8 .1 2 -.8 3.2 -3.5 7.8 -1 1.2 -1.6 1.4 -3.8 2.3 -4.7 1.8z M435 287.8l-2.2-.1 -1.6-.5 -1-.7 -.4-1 .4-1.5 1.9-3.2 -.4-4 .4-3 1-2.6 1.6-2.4 1.8-2.1 2.3-2 2.4-1.6 2.8-1.2 2.8-.7 2.4-.1 2.6 .5 1.7 1 1.2 1.2 .9 1.4 .5 2 0 2 -.9 3.6 -2.6 6 -.8 1.4 -2.8 2.7 -4.5 2.5 -5 1.7z M437 287.8l-3 .2 -2.2-.3 -1.6-.7 -.8-1.2 .3-1.6 2.1-3.3 -.4-3.7 .2-2.2 .8-2.8 1.3-2.4 1.9-2.6 2.2-2 2.4-1.8 3-1.5 2.8-.8 2.8-.3 2.4 .3 2 .9 1.5 1.2 1 1.6 .6 1.7 .1 2 -.2 2 -.6 1.7 -3.2 7.6 -2.3 2.4 -3.6 2.4 -4.7 2z M436.5 288l-3 .2 -2.3-.3 -1.4-.8 -.8-1.1 .4-1.8 2-3.2 .1-1 -.4-3 .2-2.2 .8-2.6 1.5-2.7 1.9-2.5 2.3-2.1 2.4-1.8 3-1.5 2.8-.8 3-.3 2.5 .4 2 .9 1.5 1.2 1 1.5 .6 2 .1 2 -.8 3.7 -3.2 7.6 -2.5 2.6 -4 2.5 -4.7 2z M436 288.3l-3 .1 -2.2-.4 -1.5-.8 -.7-1.2 .3-1.5 2.1-3.5 .1-1 -.3-2.8 .2-2.2 .9-3 1.5-2.8 2-2.4 2.4-2.2 2.7-1.9 2.7-1.4 3.3-.9 2.5-.2 2.5 .4 2.3 1 1.4 1.2 1 1.4 .7 2 .1 2 -.7 3.6 -3.2 8 -1.3 1.4 -1.6 1.4 -4 2.5 -5 2z M435.2 288.5l-2.7 .1 -2.3-.4 -1.5-1 -.5-1.2 .4-1.8 1.7-2.4 .4-1 -.3-4 .5-3 1-2.6 1.5-2.4 2.1-2.6 2.7-2.4 2.8-1.7 2.8-1.2 3-.8 2.7-.1 2.5 .4 2.2 1.1 1.4 1.3 1.1 1.7 .5 1.7 .1 2 -.7 3.6 -1.6 3.8 -1 2.9 -.8 1.5 -1.3 1.5 -1.7 1.4 -4.2 2.5 -5.2 2z M434.8 288.8l-2.8 0 -2.2-.5 -1.4-.8 -.6-1.3 .3-1.7 2.2-3.5 -.2-4.2 .5-3 1-2.6 1.5-2.4 2-2.6 2.7-2.3 3-2 3-1.3 3-.8 3-.1 2.4 .4 2.3 1.2 1.3 1.2 1.1 1.7 .5 1.8 .2 2.2 -.7 3.6 -1.7 3.9 -.8 2.8 -.9 1.5 -1.3 1.5 -2 1.6 -4.7 2.7 -5.7 2.1z M434 289l-2.8-.1 -2-.4 -1.3-1 -.6-1.3 .4-1.7 2.1-3.5 -.1-4.5 .6-3.3 1.3-2.7 1.6-2.5 2.3-2.6 2.7-2.3 3-1.8 3-1.2 3.3-.7 2.7 0 2.6 .5 2.2 1.3 1.3 1.3 1 1.7 .5 2 .1 2 -.7 3.6 -1.5 3.4 -.9 3 -.9 1.8 -1.4 1.5 -2 1.7 -2.3 1.4 -3 1.5 -5.7 2z M433.5 289.3l-2.7-.2 -2-.5 -1.5-1.1 -.4-1.3 .4-1.7 2.1-3.5 -.2-4.2 .7-3.6 1.2-2.7 1.8-2.7 2.3-2.7 2.8-2.2 3-1.8 3.5-1.4 3-.6 3 0 2.5 .5 2.2 1.3 1.4 1.3 1 1.8 .5 2 .1 2 -.8 3.8 -1.4 3.6 -.8 2.8 -1 1.8 -1.3 1.5 -1.9 1.6 -2.5 1.6 -2.7 1.4 -3.3 1.3 -3.3 1z M433.2 289.5l-2.7-.1 -2.3-.6 -1.3-1 -.5-1.3 .3-1.7 2.1-3.8 -.2-4.2 .5-3 1.2-3 1.7-2.8 2.5-2.8 2.7-2.3 3.3-2 3.5-1.5 3.2-.7 3-.1 2.8 .6 2.2 1.2 1.5 1.4 1.1 1.7 .6 2 .2 2.3 -.7 3.7 -1.4 3.5 -.9 3.2 -1 1.8 -1.6 1.7 -2 1.6 -2.5 1.6 -3 1.5 -3 1.2 -3.5 1.1z M433.5 289.8l-3.3-.1 -2.2-.6 -1.5-1 -.7-1.3 .3-1.8 1.8-3.8 -.3-4.2 .5-3.2 1.2-3 1.7-2.8 2.4-2.8 3.1-2.6 3.3-2 3.4-1.5 3.3-.8 3.5-.2 3 .6 2.5 1.2 1.5 1.3 1.1 1.8 .7 2.2 .2 2 -.6 3.8 -1.4 3.8 -.9 3.2 -1 1.8 -1.6 1.8 -2.3 1.8 -5.2 3 -6 2.2 -3.5 .8z M434 290l-3.2 .1 -2.8-.5 -1.9-1.1 -.9-1.5 .1-1.8 1.2-3.4 -.6-4 .3-3 1.1-3.3 1.8-3.3 2.7-3.1 3.2-2.8 3.5-2.2 4-1.7 3.7-.9 3.8-.1 3 .5 2.8 1.4 1.5 1.5 1.3 2 .6 2 .2 2.2 -.5 3.8 -1.4 3.8 -.8 3.2 -1.1 2 -1.6 1.7 -2 1.7 -5.2 3.1 -3 1.3 -3.8 1.3z" fill="none" stroke="#000" stroke-width="0.5" stroke-linejoin="round"/>
<path d="M444.5 288.2h0.35 M461.3 259.2h0.35 M462.1 272.8h0.35 M455.8 282.8h0.35 M457.0 279.0h0.35 M440.2 290.0h0.35 M446.1 287.8h0.35 M423.4 290.2h0.35 M455.9 252.5h0.35 M468.3 264.8h0.35 M461.7 267.0h0.35 M455.4 254.5h0.35 M448.3 249.5h0.35 M422.7 286.2h0.35 M425.7 293.5h0.35 M453.3 283.2h0.35 M457.1 260.2h0.35 M461.5 278.2h0.35 M439.0 259.8h0.35 M457.2 280.5h0.35 M434.8 259.2h0.35 M423.4 283.2h0.35 M436.0 294.0h0.35 M437.4 293.8h0.35 M446.7 288.8h0.35 M435.8 290.0h0.35 M457.7 278.5h0.35 M427.6 270.5h0.35 M436.5 290.2h0.35 M456.4 255.2h0.35 M426.5 262.2h0.35 M458.8 273.0h0.35 M459.7 266.8h0.35 M453.2 283.8h0.35 M453.2 257.2h0.35 M448.0 254.5h0.35 M444.5 256.2h0.35 M436.5 291.8h0.35 M453.5 256.2h0.35 M459.2 257.8h0.35 M431.0 262.5h0.35 M462.0 273.8h0.35 M461.6 283.0h0.35 M451.2 255.0h0.35 M435.0 290.5h0.35 M424.9 282.0h0.35 M431.4 260.5h0.35 M447.8 257.2h0.35 M459.0 272.5h0.35 M426.0 272.5h0.35 M458.3 258.8h0.35 M444.3 257.0h0.35 M423.8 282.2h0.35 M422.3 276.5h0.35 M451.6 284.2h0.35 M444.2 257.8h0.35 M426.0 279.5h0.35 M437.9 255.0h0.35 M448.8 250.0h0.35 M455.8 257.0h0.35 M460.0 283.0h0.35 M459.4 269.8h0.35 M459.0 273.5h0.35 M460.9 272.2h0.35 M457.8 274.5h0.35 M437.5 260.5h0.35 M457.7 279.2h0.35 M457.1 251.2h0.35 M431.7 262.5h0.35 M443.3 254.2h0.35 M443.0 256.2h0.35 M436.5 289.8h0.35 M460.7 272.8h0.35 M425.0 283.8h0.35 M458.5 273.0h0.35 M460.8 271.2h0.35 M424.9 284.0h0.35 M461.2 273.8h0.35 M460.5 268.2h0.35 M460.4 270.5h0.35 M424.7 271.2h0.35 M464.3 261.0h0.35 M462.2 276.0h0.35 M462.8 263.5h0.35 M425.1 275.5h0.35 M461.5 267.0h0.35 M456.6 281.0h0.35 M460.7 277.5h0.35 M445.0 253.5h0.35 M420.4 283.2h0.35 M425.7 289.5h0.35 M457.7 260.8h0.35 M459.0 280.0h0.35 M446.4 287.0h0.35 M459.5 267.8h0.35 M448.6 256.2h0.35 M455.8 280.0h0.35 M453.2 286.5h0.35 M461.4 260.0h0.35 M443.1 257.8h0.35 M424.2 282.2h0.35 M461.2 268.5h0.35 M464.1 251.2h0.35 M454.1 257.2h0.35 M441.0 257.8h0.35 M459.9 271.8h0.35 M425.4 270.8h0.35 M463.0 268.5h0.35 M461.5 261.0h0.35 M459.4 263.0h0.35 M461.1 267.8h0.35 M424.4 271.2h0.35 M459.1 271.0h0.35 M456.3 279.0h0.35 M431.0 295.5h0.35 M457.6 281.0h0.35 M462.1 267.2h0.35 M435.4 292.8h0.35 M440.9 256.2h0.35 M436.8 291.2h0.35 M461.8 267.8h0.35 M460.1 267.0h0.35 M444.9 287.2h0.35 M465.8 273.0h0.35 M454.0 285.5h0.35 M462.5 262.0h0.35 M424.4 270.5h0.35 M464.6 275.0h0.35 M456.9 258.0h0.35 M453.7 282.0h0.35 M446.7 256.8h0.35 M454.3 256.2h0.35 M463.2 258.8h0.35 M458.0 284.8h0.35 M466.2 266.5h0.35 M443.5 253.2h0.35 M456.8 257.2h0.35 M468.8 270.8h0.35 M443.0 254.5h0.35 M457.3 260.2h0.35 M456.0 257.5h0.35 M465.5 277.2h0.35 M451.7 256.5h0.35 M430.3 262.2h0.35 M430.2 265.5h0.35 M444.7 289.5h0.35 M459.0 263.5h0.35 M460.6 256.2h0.35 M459.3 264.2h0.35 M434.1 262.2h0.35 M462.4 271.0h0.35 M440.5 256.2h0.35 M459.7 264.2h0.35 M423.5 275.5h0.35 M459.3 263.8h0.35 M435.7 291.0h0.35 M430.4 262.0h0.35 M422.8 288.5h0.35 M459.9 260.8h0.35 M461.1 263.2h0.35 M459.7 278.2h0.35 M425.6 269.8h0.35 M436.0 290.5h0.35 M440.8 289.0h0.35 M457.7 259.2h0.35 M437.8 260.5h0.35 M425.7 275.0h0.35 M452.9 283.8h0.35 M463.2 255.8h0.35 M439.0 289.8h0.35 M460.4 261.5h0.35 M449.5 256.5h0.35 M456.0 258.8h0.35 M422.8 284.2h0.35 M456.0 258.5h0.35 M449.7 256.0h0.35 M460.6 272.5h0.35 M435.7 290.0h0.35 M432.7 260.2h0.35 M460.7 268.2h0.35 M464.2 262.8h0.35 M445.2 290.8h0.35 M443.1 288.0h0.35 M429.8 267.2h0.35 M431.7 293.0h0.35 M454.7 257.8h0.35 M461.0 264.0h0.35 M426.3 271.0h0.35 M459.3 282.2h0.35 M457.5 278.2h0.35 M461.6 264.0h0.35 M433.2 290.8h0.35 M433.5 293.2h0.35 M448.1 287.2h0.35 M428.7 265.8h0.35 M448.9 285.5h0.35 M457.3 258.8h0.35 M448.5 257.0h0.35 M444.0 255.0h0.35 M455.7 284.2h0.35 M428.2 292.8h0.35 M435.3 259.8h0.35 M456.3 279.2h0.35 M440.8 258.8h0.35 M453.6 282.5h0.35 M440.9 257.0h0.35 M421.9 268.8h0.35 M451.2 283.8h0.35 M430.7 292.2h0.35 M425.7 276.5h0.35 M458.5 277.2h0.35 M461.5 263.5h0.35 M444.8 257.0h0.35 M422.4 284.8h0.35 M454.5 255.0h0.35 M456.1 281.0h0.35 M458.5 260.0h0.35 M453.5 254.0h0.35 M456.3 256.5h0.35 M464.8 269.2h0.35 M458.2 260.2h0.35 M451.8 256.2h0.35 M437.4 260.5h0.35 M423.4 284.2h0.35 M455.7 279.8h0.35 M468.0 266.0h0.35 M462.7 262.0h0.35 M430.3 294.8h0.35 M460.8 268.2h0.35 M458.2 276.5h0.35 M449.3 286.5h0.35 M465.2 268.0h0.35 M426.3 274.0h0.35 M460.7 265.2h0.35 M448.5 286.5h0.35 M425.6 282.0h0.35 M467.0 265.2h0.35 M452.1 286.0h0.35 M459.2 258.0h0.35 M429.0 261.5h0.35 M463.8 276.2h0.35 M447.7 256.2h0.35 M430.6 290.5h0.35 M442.3 252.2h0.35 M433.2 290.5h0.35 M434.5 259.5h0.35 M439.0 289.2h0.35 M437.7 260.0h0.35 M455.0 283.0h0.35 M466.0 269.2h0.35" stroke="#555" stroke-width="0.35" fill="none"/>
<circle cx="446.4" cy="278.8" r="1.4" fill="#fff" fill-opacity="0.9"/><path d="M451 266.5l0.4 1.8" stroke="#fff" stroke-width="1" stroke-opacity="0.8"/><path d="M435 283l9 -1" stroke="#fff" stroke-width="0.6" stroke-opacity="0.5"/>
<text x="414.60" y="240.90" font-size="6.1" text-anchor="end" fill="#1a1a1a">10<tspan font-size="3.9" dy="-2.6">5</tspan></text>
<text x="414.60" y="258.70" font-size="6.1" text-anchor="end" fill="#1a1a1a">10<tspan font-size="3.9" dy="-2.6">4</tspan></text>
<text x="414.60" y="279.40" font-size="6.1" text-anchor="end" fill="#1a1a1a">10<tspan font-size="3.9" dy="-2.6">3</tspan></text>
<text x="415.20" y="292.60" font-size="6.1" text-anchor="end" fill="#1a1a1a">0</text>
<text x="414.60" y="304.70" font-size="6.1" text-anchor="end" fill="#1a1a1a">−10<tspan font-size="3.9" dy="-2.6">3</tspan></text>
<path d="M417.60 239.00H420.20 M417.60 256.80H420.20 M417.60 277.40H420.20 M417.60 290.40H420.20 M417.60 302.50H420.20 M418.80 271.20H420.20 M418.80 267.57H420.20 M418.80 265.00H420.20 M418.80 263.00H420.20 M418.80 261.37H420.20 M418.80 259.99H420.20 M418.80 258.80H420.20 M418.80 257.74H420.20 M418.80 251.44H420.20 M418.80 248.31H420.20 M418.80 246.08H420.20 M418.80 244.36H420.20 M418.80 242.95H420.20 M418.80 241.76H420.20 M418.80 240.72H420.20 M418.80 239.81H420.20 M418.80 286.11H420.20 M418.80 294.39H420.20 M418.80 281.82H420.20 M418.80 298.39H420.20" stroke="#333" stroke-width="0.6" fill="none"/>
<rect x="417.80" y="289.30" width="2.2" height="2.2" fill="#111"/>
<text x="440.80" y="318.60" font-size="6.1" text-anchor="middle" fill="#1a1a1a">0</text>
<text x="469.60" y="318.60" font-size="6.1" fill="#1a1a1a">10<tspan font-size="3.9" dy="-2.6">4</tspan></text>
<text x="486.00" y="318.60" font-size="6.1" fill="#1a1a1a">10<tspan font-size="3.9" dy="-2.6">5</tspan></text>
<path d="M440.80 307.60V310.20 M473.40 307.60V310.20 M489.20 307.60V310.20 M478.16 307.60V309.00 M480.94 307.60V309.00 M482.91 307.60V309.00 M484.44 307.60V309.00 M485.69 307.60V309.00 M486.75 307.60V309.00 M487.67 307.60V309.00 M488.48 307.60V309.00 M447.32 307.60V309.00 M453.84 307.60V309.00 M460.36 307.60V309.00 M465.25 307.60V309.00 M468.51 307.60V309.00 M471.12 307.60V309.00 M431.53 307.60V309.00 M425.35 307.60V309.00" stroke="#333" stroke-width="0.6" fill="none"/>
<rect x="439.70" y="307.80" width="2.2" height="2.2" fill="#111"/>
<path d="M420.20 231.20V307.60H496.80" fill="none" stroke="#333" stroke-width="0.9"/>
<path d="M420.20 231.20H496.80" fill="none" stroke="#555" stroke-width="0.8"/>
<path d="M496.80 231.20V307.60" fill="none" stroke="#999" stroke-width="0.8"/>
<path d="M497.00 231.20V307.60" fill="none" stroke="#8a8a8a" stroke-width="1.3"/>
<path d="M455.30 307.60V231.20H497.00" fill="none" stroke="#3a3a3a" stroke-width="1.0"/>
<text x="492.00" y="241.90" font-size="6.3" text-anchor="end" fill="#1a1a1a">9.14</text>
<text x="6.90" y="367.40" font-size="10.3" text-anchor="start" fill="#111" color="#111" font-weight="bold" >B</text>
<text x="66.10" y="377.10" font-size="8.2" text-anchor="middle" fill="#555" color="#555" font-weight="normal" >DHA3</text>
<path d="M31.40 387.9V448.80H100.60" fill="none" stroke="#222" stroke-width="0.9"/>
<text x="25.80" y="450.80" font-size="5.8" text-anchor="end" fill="#333" color="#333" font-weight="normal" >0</text>
<text x="25.80" y="436.10" font-size="5.8" text-anchor="end" fill="#333" color="#333" font-weight="normal" >5</text>
<text x="25.80" y="421.40" font-size="5.8" text-anchor="end" fill="#333" color="#333" font-weight="normal" >10</text>
<text x="25.80" y="406.70" font-size="5.8" text-anchor="end" fill="#333" color="#333" font-weight="normal" >15</text>
<text x="25.80" y="392.00" font-size="5.8" text-anchor="end" fill="#333" color="#333" font-weight="normal" >20</text>
<path d="M28.80 448.80H31.40 M28.80 434.10H31.40 M28.80 419.40H31.40 M28.80 404.70H31.40 M28.80 390.00H31.40 M51.10 448.80V451.40 M80.70 448.80V451.40" stroke="#222" stroke-width="0.8" fill="none"/>
<text x="51.10" y="460.00" font-size="5.9" text-anchor="middle" fill="#333" color="#333" font-weight="normal" >Day 10</text>
<text x="80.70" y="460.00" font-size="5.9" text-anchor="middle" fill="#333" color="#333" font-weight="normal" >Day 24</text>
<text transform="translate(12.90 419) rotate(-90) scale(0.78 1)" font-size="7.4" text-anchor="middle" fill="#333" font-weight="bold">% BrdU+</text>
<path d="M51.10 399.41L80.70 419.40" stroke="#e8a040" stroke-width="1.2" fill="none"/>
<circle cx="51.10" cy="399.41" r="1.0" fill="#e8a040"/><circle cx="80.70" cy="419.40" r="1.0" fill="#e8a040"/>
<path d="M51.10 412.05L80.70 439.69" stroke="#e8a040" stroke-width="1.2" fill="none"/>
<circle cx="51.10" cy="412.05" r="1.0" fill="#e8a040"/><circle cx="80.70" cy="439.69" r="1.0" fill="#e8a040"/>
<path d="M51.10 424.99L80.70 447.04" stroke="#e8a040" stroke-width="1.2" fill="none"/>
<circle cx="51.10" cy="424.99" r="1.0" fill="#e8a040"/><circle cx="80.70" cy="447.04" r="1.0" fill="#e8a040"/>
<circle cx="77.30" cy="391.30" r="2.65" fill="#111"/>
<text x="83.80" y="393.40" font-size="6.0" text-anchor="start" fill="#555" color="#555" font-weight="normal" >pLN</text>
<rect x="74.80" y="398.80" width="5.0" height="4.9" fill="#111"/>
<text x="83.80" y="403.30" font-size="6.0" text-anchor="start" fill="#555" color="#555" font-weight="normal" >MLN</text>
<path d="M77.30 409.10L79.60 413.10L75.00 413.10Z" fill="#111"/>
<text x="83.80" y="413.40" font-size="6.0" text-anchor="start" fill="#555" color="#555" font-weight="normal" >spleen</text>
<text x="169.20" y="377.10" font-size="8.2" text-anchor="middle" fill="#555" color="#555" font-weight="normal" >DHG6</text>
<path d="M134.60 387.9V448.80H202.70" fill="none" stroke="#222" stroke-width="0.9"/>
<text x="129.00" y="450.80" font-size="5.8" text-anchor="end" fill="#333" color="#333" font-weight="normal" >0</text>
<text x="129.00" y="439.04" font-size="5.8" text-anchor="end" fill="#333" color="#333" font-weight="normal" >10</text>
<text x="129.00" y="427.28" font-size="5.8" text-anchor="end" fill="#333" color="#333" font-weight="normal" >20</text>
<text x="129.00" y="415.52" font-size="5.8" text-anchor="end" fill="#333" color="#333" font-weight="normal" >30</text>
<text x="129.00" y="403.76" font-size="5.8" text-anchor="end" fill="#333" color="#333" font-weight="normal" >40</text>
<text x="129.00" y="392.00" font-size="5.8" text-anchor="end" fill="#333" color="#333" font-weight="normal" >50</text>
<path d="M132.00 448.80H134.60 M132.00 437.04H134.60 M132.00 425.28H134.60 M132.00 413.52H134.60 M132.00 401.76H134.60 M132.00 390.00H134.60 M154.20 448.80V451.40 M183.60 448.80V451.40" stroke="#222" stroke-width="0.8" fill="none"/>
<text x="154.20" y="460.00" font-size="5.9" text-anchor="middle" fill="#333" color="#333" font-weight="normal" >Day 10</text>
<text x="183.60" y="460.00" font-size="5.9" text-anchor="middle" fill="#333" color="#333" font-weight="normal" >Day 24</text>
<text transform="translate(116.00 419) rotate(-90) scale(0.78 1)" font-size="7.4" text-anchor="middle" fill="#333" font-weight="bold">% BrdU+</text>
<path d="M154.20 401.17L183.60 438.22" stroke="#2e5f8f" stroke-width="1.2" fill="none"/>
<circle cx="154.20" cy="401.17" r="1.0" fill="#2e5f8f"/><circle cx="183.60" cy="438.22" r="1.0" fill="#2e5f8f"/>
<path d="M154.20 408.82L183.60 442.33" stroke="#2e5f8f" stroke-width="1.2" fill="none"/>
<circle cx="154.20" cy="408.82" r="1.0" fill="#2e5f8f"/><circle cx="183.60" cy="442.33" r="1.0" fill="#2e5f8f"/>
<path d="M154.20 414.11L183.60 446.45" stroke="#2e5f8f" stroke-width="1.2" fill="none"/>
<circle cx="154.20" cy="414.11" r="1.0" fill="#2e5f8f"/><circle cx="183.60" cy="446.45" r="1.0" fill="#2e5f8f"/>
<circle cx="178.50" cy="391.00" r="2.65" fill="#111"/>
<text x="185.00" y="393.10" font-size="6.0" text-anchor="start" fill="#555" color="#555" font-weight="normal" >pLN</text>
<rect x="176.00" y="398.60" width="5.0" height="4.9" fill="#111"/>
<text x="185.00" y="403.10" font-size="6.0" text-anchor="start" fill="#555" color="#555" font-weight="normal" >MLN</text>
<path d="M178.50 408.70L180.80 412.70L176.20 412.70Z" fill="#111"/>
<text x="185.00" y="413.00" font-size="6.0" text-anchor="start" fill="#555" color="#555" font-weight="normal" >spleen</text>
<text x="271.50" y="377.10" font-size="8.2" text-anchor="middle" fill="#555" color="#555" font-weight="normal" >0L4</text>
<path d="M237.40 387.9V448.80H306.00" fill="none" stroke="#222" stroke-width="0.9"/>
<text x="231.80" y="450.80" font-size="5.8" text-anchor="end" fill="#333" color="#333" font-weight="normal" >0</text>
<text x="231.80" y="431.20" font-size="5.8" text-anchor="end" fill="#333" color="#333" font-weight="normal" >20</text>
<text x="231.80" y="411.60" font-size="5.8" text-anchor="end" fill="#333" color="#333" font-weight="normal" >40</text>
<text x="231.80" y="392.00" font-size="5.8" text-anchor="end" fill="#333" color="#333" font-weight="normal" >60</text>
<path d="M234.80 448.80H237.40 M234.80 429.20H237.40 M234.80 409.60H237.40 M234.80 390.00H237.40 M257.00 448.80V451.40 M286.50 448.80V451.40" stroke="#222" stroke-width="0.8" fill="none"/>
<text x="257.00" y="460.00" font-size="5.9" text-anchor="middle" fill="#333" color="#333" font-weight="normal" >Day 10</text>
<text x="286.50" y="460.00" font-size="5.9" text-anchor="middle" fill="#333" color="#333" font-weight="normal" >Day 24</text>
<text transform="translate(219.30 419) rotate(-90) scale(0.78 1)" font-size="7.4" text-anchor="middle" fill="#333" font-weight="bold">% BrdU+</text>
<path d="M257.00 394.90L286.50 445.37" stroke="#3c9a48" stroke-width="1.2" fill="none"/>
<circle cx="257.00" cy="394.90" r="1.0" fill="#3c9a48"/><circle cx="286.50" cy="445.37" r="1.0" fill="#3c9a48"/>
<path d="M257.00 405.19L286.50 431.65" stroke="#3c9a48" stroke-width="1.2" fill="none"/>
<circle cx="257.00" cy="405.19" r="1.0" fill="#3c9a48"/><circle cx="286.50" cy="431.65" r="1.0" fill="#3c9a48"/>
<path d="M257.00 432.63L286.50 444.88" stroke="#3c9a48" stroke-width="1.2" fill="none"/>
<circle cx="257.00" cy="432.63" r="1.0" fill="#3c9a48"/><circle cx="286.50" cy="444.88" r="1.0" fill="#3c9a48"/>
<circle cx="282.00" cy="391.00" r="2.65" fill="#111"/>
<text x="288.50" y="393.10" font-size="6.0" text-anchor="start" fill="#555" color="#555" font-weight="normal" >pLN</text>
<rect x="279.50" y="398.60" width="5.0" height="4.9" fill="#111"/>
<text x="288.50" y="403.10" font-size="6.0" text-anchor="start" fill="#555" color="#555" font-weight="normal" >MLN</text>
<path d="M282.00 408.70L284.30 412.70L279.70 412.70Z" fill="#111"/>
<text x="288.50" y="413.00" font-size="6.0" text-anchor="start" fill="#555" color="#555" font-weight="normal" >spleen</text>
<text x="375.00" y="377.10" font-size="8.2" text-anchor="middle" fill="#555" color="#555" font-weight="normal" >06M</text>
<path d="M340.40 387.9V448.80H408.50" fill="none" stroke="#222" stroke-width="0.9"/>
<text x="334.80" y="450.80" font-size="5.8" text-anchor="end" fill="#333" color="#333" font-weight="normal" >0</text>
<text x="334.80" y="431.20" font-size="5.8" text-anchor="end" fill="#333" color="#333" font-weight="normal" >20</text>
<text x="334.80" y="411.60" font-size="5.8" text-anchor="end" fill="#333" color="#333" font-weight="normal" >40</text>
<text x="334.80" y="392.00" font-size="5.8" text-anchor="end" fill="#333" color="#333" font-weight="normal" >60</text>
<path d="M337.80 448.80H340.40 M337.80 429.20H340.40 M337.80 409.60H340.40 M337.80 390.00H340.40 M360.00 448.80V451.40 M389.50 448.80V451.40" stroke="#222" stroke-width="0.8" fill="none"/>
<text x="360.00" y="460.00" font-size="5.9" text-anchor="middle" fill="#333" color="#333" font-weight="normal" >Day 10</text>
<text x="389.50" y="460.00" font-size="5.9" text-anchor="middle" fill="#333" color="#333" font-weight="normal" >Day 24</text>
<text transform="translate(321.80 419) rotate(-90) scale(0.78 1)" font-size="7.4" text-anchor="middle" fill="#333" font-weight="bold">% BrdU+</text>
<path d="M360.00 396.37L389.50 438.51" stroke="#c0304c" stroke-width="1.2" fill="none"/>
<circle cx="360.00" cy="396.37" r="1.0" fill="#c0304c"/><circle cx="389.50" cy="438.51" r="1.0" fill="#c0304c"/>
<path d="M360.00 413.03L389.50 445.37" stroke="#c0304c" stroke-width="1.2" fill="none"/>
<circle cx="360.00" cy="413.03" r="1.0" fill="#c0304c"/><circle cx="389.50" cy="445.37" r="1.0" fill="#c0304c"/>
<circle cx="387.70" cy="396.20" r="2.65" fill="#111"/>
<text x="394.20" y="398.30" font-size="6.0" text-anchor="start" fill="#555" color="#555" font-weight="normal" >pLN</text>
<path d="M387.70 404.00L390.00 408.00L385.40 408.00Z" fill="#111"/>
<text x="394.20" y="408.30" font-size="6.0" text-anchor="start" fill="#555" color="#555" font-weight="normal" >spleen</text>
<text x="479.20" y="377.10" font-size="8.2" text-anchor="middle" fill="#555" color="#555" font-weight="normal" >Combined</text>
<path d="M443.80 387.9V448.80H513.00" fill="none" stroke="#222" stroke-width="0.9"/>
<text x="438.20" y="450.80" font-size="5.8" text-anchor="end" fill="#333" color="#333" font-weight="normal" >0</text>
<text x="438.20" y="441.00" font-size="5.8" text-anchor="end" fill="#333" color="#333" font-weight="normal" >10</text>
<text x="438.20" y="431.20" font-size="5.8" text-anchor="end" fill="#333" color="#333" font-weight="normal" >20</text>
<text x="438.20" y="421.40" font-size="5.8" text-anchor="end" fill="#333" color="#333" font-weight="normal" >30</text>
<text x="438.20" y="411.60" font-size="5.8" text-anchor="end" fill="#333" color="#333" font-weight="normal" >40</text>
<text x="438.20" y="401.80" font-size="5.8" text-anchor="end" fill="#333" color="#333" font-weight="normal" >50</text>
<text x="438.20" y="392.00" font-size="5.8" text-anchor="end" fill="#333" color="#333" font-weight="normal" >60</text>
<path d="M441.20 448.80H443.80 M441.20 439.00H443.80 M441.20 429.20H443.80 M441.20 419.40H443.80 M441.20 409.60H443.80 M441.20 399.80H443.80 M441.20 390.00H443.80 M461.80 448.80V451.40 M496.50 448.80V451.40" stroke="#222" stroke-width="0.8" fill="none"/>
<text x="461.80" y="460.00" font-size="5.9" text-anchor="middle" fill="#333" color="#333" font-weight="normal" >Day 10</text>
<text x="496.50" y="460.00" font-size="5.9" text-anchor="middle" fill="#333" color="#333" font-weight="normal" >Day 24</text>
<text transform="translate(426.30 419) rotate(-90) scale(0.78 1)" font-size="7.4" text-anchor="middle" fill="#333" font-weight="bold">% BrdU+</text>
<path d="M461.80 432.34L496.50 439.00" stroke="#e8a040" stroke-width="1.25" fill="none"/>
<circle cx="461.80" cy="432.34" r="1.2" fill="#e8a040"/><circle cx="496.50" cy="439.00" r="1.2" fill="#e8a040"/>
<path d="M461.80 436.55L496.50 445.76" stroke="#e8a040" stroke-width="1.25" fill="none"/>
<circle cx="461.80" cy="436.55" r="1.2" fill="#e8a040"/><circle cx="496.50" cy="445.76" r="1.2" fill="#e8a040"/>
<path d="M461.80 440.86L496.50 448.21" stroke="#e8a040" stroke-width="1.25" fill="none"/>
<circle cx="461.80" cy="440.86" r="1.2" fill="#e8a040"/><circle cx="496.50" cy="448.21" r="1.2" fill="#e8a040"/>
<path d="M461.80 409.11L496.50 439.98" stroke="#2e5f8f" stroke-width="1.25" fill="none"/>
<circle cx="461.80" cy="409.11" r="1.2" fill="#2e5f8f"/><circle cx="496.50" cy="439.98" r="1.2" fill="#2e5f8f"/>
<path d="M461.80 415.48L496.50 443.41" stroke="#2e5f8f" stroke-width="1.25" fill="none"/>
<circle cx="461.80" cy="415.48" r="1.2" fill="#2e5f8f"/><circle cx="496.50" cy="443.41" r="1.2" fill="#2e5f8f"/>
<path d="M461.80 419.89L496.50 446.84" stroke="#2e5f8f" stroke-width="1.25" fill="none"/>
<circle cx="461.80" cy="419.89" r="1.2" fill="#2e5f8f"/><circle cx="496.50" cy="446.84" r="1.2" fill="#2e5f8f"/>
<path d="M461.80 395.59L496.50 445.37" stroke="#3c9a48" stroke-width="1.25" fill="none"/>
<circle cx="461.80" cy="395.59" r="1.2" fill="#3c9a48"/><circle cx="496.50" cy="445.37" r="1.2" fill="#3c9a48"/>
<path d="M461.80 405.19L496.50 431.65" stroke="#3c9a48" stroke-width="1.25" fill="none"/>
<circle cx="461.80" cy="405.19" r="1.2" fill="#3c9a48"/><circle cx="496.50" cy="431.65" r="1.2" fill="#3c9a48"/>
<path d="M461.80 432.63L496.50 444.88" stroke="#3c9a48" stroke-width="1.25" fill="none"/>
<circle cx="461.80" cy="432.63" r="1.2" fill="#3c9a48"/><circle cx="496.50" cy="444.88" r="1.2" fill="#3c9a48"/>
<path d="M461.80 395.98L496.50 438.51" stroke="#c0304c" stroke-width="1.25" fill="none"/>
<circle cx="461.80" cy="395.98" r="1.2" fill="#c0304c"/><circle cx="496.50" cy="438.51" r="1.2" fill="#c0304c"/>
<path d="M461.80 413.03L496.50 445.37" stroke="#c0304c" stroke-width="1.25" fill="none"/>
<circle cx="461.80" cy="413.03" r="1.2" fill="#c0304c"/><circle cx="496.50" cy="445.37" r="1.2" fill="#c0304c"/>
<path d="M461.80 388.4H496.50" stroke="#222" stroke-width="0.8"/>
<text x="479.15" y="387.00" font-size="6.5" text-anchor="middle" fill="#222" color="#222" font-weight="bold" >***</text>
</svg>
</body></html>
